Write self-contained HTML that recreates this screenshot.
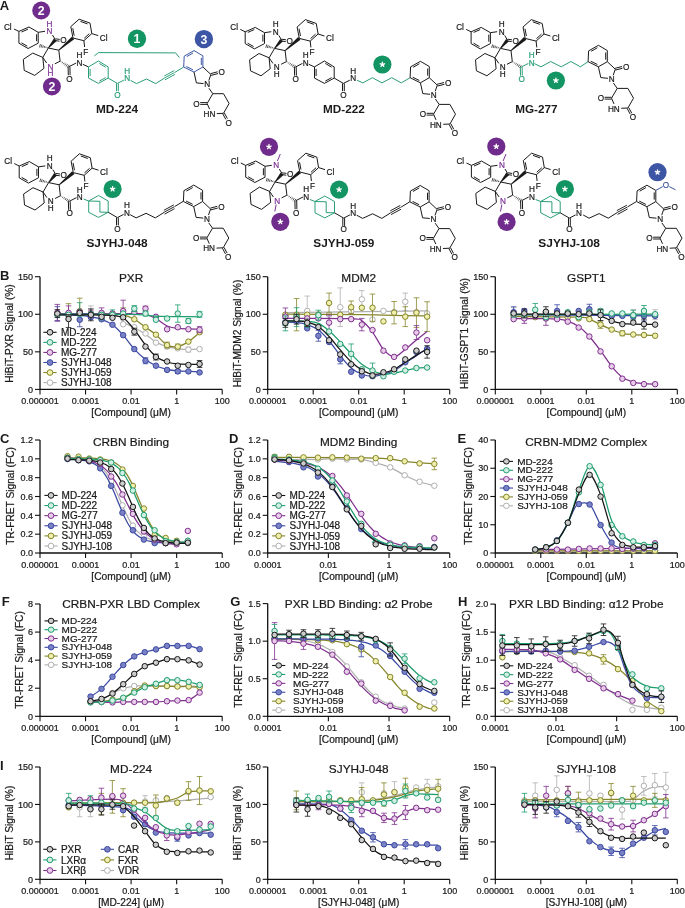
<!DOCTYPE html>
<html><head><meta charset="utf-8"><style>
html,body{margin:0;padding:0;background:#fff;width:685px;height:908px;overflow:hidden}
svg{display:block;font-family:"Liberation Sans",sans-serif;will-change:transform}
</style></head><body>
<svg width="685" height="908" viewBox="0 0 685 908" font-family="Liberation Sans, sans-serif">
<rect width="685" height="908" fill="#fff"/>
<polygon points="18.9,31.4 29,27 38.2,32.3 38.2,43.2 28.1,48.5 18.9,43.2" fill="none" stroke="#1a1a1a" stroke-width="1.0" stroke-linejoin="round"/>
<line x1="21.49" y1="32.01" x2="27.95" y2="29.2" stroke="#1a1a1a" stroke-width="1.0"/>
<line x1="36.6" y1="34.24" x2="36.6" y2="41.21" stroke="#1a1a1a" stroke-width="1.0"/>
<line x1="27.28" y1="46.18" x2="21.39" y2="42.79" stroke="#1a1a1a" stroke-width="1.0"/>
<line x1="18.9" y1="31.4" x2="14" y2="29" stroke="#1a1a1a" stroke-width="1.0"/>
<text transform="translate(7.8,29.55) scale(1.0,1)" font-size="8.2" fill="#1a1a1a" stroke="#1a1a1a" stroke-width="0.2" text-anchor="middle" font-weight="normal">Cl</text>
<line x1="38.2" y1="32.3" x2="45" y2="31.3" stroke="#1a1a1a" stroke-width="1.0"/>
<text transform="translate(49.4,34.15) scale(1.0,1)" font-size="8.2" fill="#7b3294" stroke="#7b3294" stroke-width="0.2" text-anchor="middle" font-weight="normal">N</text>
<text transform="translate(49.4,26.55) scale(1.0,1)" font-size="8.2" fill="#7b3294" stroke="#7b3294" stroke-width="0.2" text-anchor="middle" font-weight="normal">H</text>
<line x1="52.5" y1="35" x2="55.3" y2="39.7" stroke="#1a1a1a" stroke-width="1.0"/>
<line x1="55.18" y1="40.59" x2="59.48" y2="41.19" stroke="#1a1a1a" stroke-width="1.0"/>
<line x1="55.42" y1="38.81" x2="59.72" y2="39.41" stroke="#1a1a1a" stroke-width="1.0"/>
<text transform="translate(63.4,43.35) scale(1.0,1)" font-size="8.2" fill="#1a1a1a" stroke="#1a1a1a" stroke-width="0.2" text-anchor="middle" font-weight="normal">O</text>
<polygon points="48.66,48.31 56.75,40.92 53.85,38.48 47.94,47.69" fill="#1a1a1a"/>
<line x1="47.43" y1="48.21" x2="47.66" y2="47.37" stroke="#1a1a1a" stroke-width="0.75"/>
<line x1="45.84" y1="48.05" x2="46.21" y2="46.7" stroke="#1a1a1a" stroke-width="0.75"/>
<line x1="44.25" y1="47.89" x2="44.76" y2="46.03" stroke="#1a1a1a" stroke-width="0.75"/>
<line x1="42.66" y1="47.73" x2="43.32" y2="45.35" stroke="#1a1a1a" stroke-width="0.75"/>
<line x1="41.08" y1="47.57" x2="41.87" y2="44.68" stroke="#1a1a1a" stroke-width="0.75"/>
<line x1="39.49" y1="47.41" x2="40.43" y2="44" stroke="#1a1a1a" stroke-width="0.75"/>
<line x1="48.3" y1="48" x2="58.8" y2="50.2" stroke="#1a1a1a" stroke-width="1.0"/>
<line x1="58.8" y1="50.2" x2="60.1" y2="61.2" stroke="#1a1a1a" stroke-width="1.0"/>
<line x1="60.1" y1="61.2" x2="54.8" y2="63.9" stroke="#1a1a1a" stroke-width="1.0"/>
<line x1="46.6" y1="63" x2="42.8" y2="57.4" stroke="#1a1a1a" stroke-width="1.0"/>
<line x1="42.8" y1="57.4" x2="48.3" y2="48" stroke="#1a1a1a" stroke-width="1.0"/>
<text transform="translate(50.4,69.55) scale(1.0,1)" font-size="8.2" fill="#7b3294" stroke="#7b3294" stroke-width="0.2" text-anchor="middle" font-weight="normal">N</text>
<text transform="translate(50.4,76.25) scale(1.0,1)" font-size="8.2" fill="#7b3294" stroke="#7b3294" stroke-width="0.2" text-anchor="middle" font-weight="normal">H</text>
<polygon points="42.8,57.4 32.7,53.1 23.3,59.4 24.2,70.4 34.7,75.4 43.9,68.4" fill="none" stroke="#1a1a1a" stroke-width="1.0" stroke-linejoin="round"/>
<polygon points="59.09,50.54 74.17,39.37 71.83,36.63 58.51,49.86" fill="#1a1a1a"/>
<polygon points="73,38 70.8,26.6 79.1,19.2 90,23.1 91.8,33.6 83.9,40.7" fill="none" stroke="#1a1a1a" stroke-width="1.0" stroke-linejoin="round"/>
<line x1="74.17" y1="35.6" x2="72.76" y2="28.31" stroke="#1a1a1a" stroke-width="1.0"/>
<line x1="80.54" y1="21.41" x2="87.52" y2="23.91" stroke="#1a1a1a" stroke-width="1.0"/>
<line x1="89.29" y1="33.7" x2="84.24" y2="38.25" stroke="#1a1a1a" stroke-width="1.0"/>
<line x1="91.8" y1="33.6" x2="98.2" y2="35.6" stroke="#1a1a1a" stroke-width="1.0"/>
<text transform="translate(103.6,40.55) scale(1.0,1)" font-size="8.2" fill="#1a1a1a" stroke="#1a1a1a" stroke-width="0.2" text-anchor="middle" font-weight="normal">Cl</text>
<line x1="83.9" y1="40.7" x2="84.6" y2="47" stroke="#1a1a1a" stroke-width="1.0"/>
<text transform="translate(85.8,54.75) scale(1.0,1)" font-size="8.2" fill="#1a1a1a" stroke="#1a1a1a" stroke-width="0.2" text-anchor="middle" font-weight="normal">F</text>
<line x1="61.06" y1="61.3" x2="60.62" y2="62.01" stroke="#1a1a1a" stroke-width="0.75"/>
<line x1="62.67" y1="62.02" x2="61.98" y2="63.13" stroke="#1a1a1a" stroke-width="0.75"/>
<line x1="64.27" y1="62.74" x2="63.34" y2="64.24" stroke="#1a1a1a" stroke-width="0.75"/>
<line x1="65.88" y1="63.46" x2="64.7" y2="65.36" stroke="#1a1a1a" stroke-width="0.75"/>
<line x1="67.48" y1="64.18" x2="66.07" y2="66.47" stroke="#1a1a1a" stroke-width="0.75"/>
<line x1="69.09" y1="64.89" x2="67.43" y2="67.59" stroke="#1a1a1a" stroke-width="0.75"/>
<line x1="68.1" y1="66.72" x2="68.3" y2="75.22" stroke="#1a1a1a" stroke-width="1.0"/>
<line x1="69.9" y1="66.68" x2="70.1" y2="75.18" stroke="#1a1a1a" stroke-width="1.0"/>
<text transform="translate(69.5,81.55) scale(1.0,1)" font-size="8.2" fill="#1a1a1a" stroke="#1a1a1a" stroke-width="0.2" text-anchor="middle" font-weight="normal">O</text>
<line x1="69" y1="66.7" x2="76.2" y2="63" stroke="#1a1a1a" stroke-width="1.0"/>
<text transform="translate(79.4,65.55) scale(1.0,1)" font-size="8.2" fill="#1a1a1a" stroke="#1a1a1a" stroke-width="0.2" text-anchor="middle" font-weight="normal">N</text>
<text transform="translate(79.4,57.95) scale(1.0,1)" font-size="8.2" fill="#1a1a1a" stroke="#1a1a1a" stroke-width="0.2" text-anchor="middle" font-weight="normal">H</text>
<line x1="82.8" y1="64.3" x2="88.5" y2="66.9" stroke="#1a1a1a" stroke-width="1.0"/>
<polygon points="88.5,66.9 98.4,61 108.2,66.9 108.2,78.1 98.4,83.4 88.5,78.1" fill="none" stroke="#2a9d78" stroke-width="1.0" stroke-linejoin="round"/>
<line x1="99.36" y1="63.44" x2="105.63" y2="67.22" stroke="#2a9d78" stroke-width="1.0"/>
<line x1="105.62" y1="77.68" x2="99.35" y2="81.07" stroke="#2a9d78" stroke-width="1.0"/>
<line x1="90.1" y1="76.07" x2="90.1" y2="68.9" stroke="#2a9d78" stroke-width="1.0"/>
<line x1="108.2" y1="78.1" x2="117.4" y2="83.4" stroke="#2a9d78" stroke-width="1.0"/>
<line x1="116.5" y1="83.4" x2="116.5" y2="91.2" stroke="#2a9d78" stroke-width="1.0"/>
<line x1="118.3" y1="83.4" x2="118.3" y2="91.2" stroke="#2a9d78" stroke-width="1.0"/>
<text transform="translate(117.5,97.55) scale(1.0,1)" font-size="8.2" fill="#2a9d78" stroke="#2a9d78" stroke-width="0.2" text-anchor="middle" font-weight="normal">O</text>
<line x1="117.4" y1="83.4" x2="123.8" y2="80.2" stroke="#2a9d78" stroke-width="1.0"/>
<text transform="translate(127.3,81.35) scale(1.0,1)" font-size="8.2" fill="#2a9d78" stroke="#2a9d78" stroke-width="0.2" text-anchor="middle" font-weight="normal">N</text>
<text transform="translate(127.3,73.95) scale(1.0,1)" font-size="8.2" fill="#2a9d78" stroke="#2a9d78" stroke-width="0.2" text-anchor="middle" font-weight="normal">H</text>
<polyline points="130.6,80.4 136.5,83.6 146.5,79 155.7,83.6 164.6,78" fill="none" stroke="#2a9d78" stroke-width="1.0" stroke-linejoin="round"/>
<line x1="164.6" y1="77.9" x2="174.6" y2="72.5" stroke="#2a9d78" stroke-width="0.95"/>
<line x1="164.95" y1="79.81" x2="174.95" y2="74.41" stroke="#2a9d78" stroke-width="0.95"/>
<line x1="164.25" y1="75.99" x2="174.25" y2="70.59" stroke="#2a9d78" stroke-width="0.95"/>
<line x1="175" y1="72.3" x2="183.7" y2="67" stroke="#2a9d78" stroke-width="1.0"/>
<polygon points="183.7,67 184.2,56.2 194,50.6 202.9,55.8 202.9,67 194,72.1" fill="none" stroke="#3c56a5" stroke-width="1.0" stroke-linejoin="round"/>
<line x1="186.75" y1="56.59" x2="193.02" y2="53" stroke="#3c56a5" stroke-width="1.0"/>
<line x1="201.3" y1="57.82" x2="201.3" y2="64.99" stroke="#3c56a5" stroke-width="1.0"/>
<line x1="192.96" y1="69.8" x2="186.37" y2="66.54" stroke="#3c56a5" stroke-width="1.0"/>
<line x1="202.9" y1="67" x2="210.9" y2="74.5" stroke="#1a1a1a" stroke-width="1.0"/>
<line x1="211.13" y1="75.37" x2="218.03" y2="73.57" stroke="#1a1a1a" stroke-width="1.0"/>
<line x1="210.67" y1="73.63" x2="217.57" y2="71.83" stroke="#1a1a1a" stroke-width="1.0"/>
<text transform="translate(221.8,75.25) scale(1.0,1)" font-size="8.2" fill="#1a1a1a" stroke="#1a1a1a" stroke-width="0.2" text-anchor="middle" font-weight="normal">O</text>
<line x1="210.9" y1="74.5" x2="208.8" y2="80.6" stroke="#1a1a1a" stroke-width="1.0"/>
<text transform="translate(207.2,87.35) scale(1.0,1)" font-size="8.2" fill="#1a1a1a" stroke="#1a1a1a" stroke-width="0.2" text-anchor="middle" font-weight="normal">N</text>
<line x1="203.6" y1="83.6" x2="196.4" y2="82.9" stroke="#1a1a1a" stroke-width="1.0"/>
<line x1="196.4" y1="82.9" x2="194" y2="72.1" stroke="#1a1a1a" stroke-width="1.0"/>
<line x1="209" y1="88.3" x2="212.8" y2="93.7" stroke="#1a1a1a" stroke-width="1.0"/>
<polyline points="207.1,103.5 212.8,93.7 223.5,93.7 229.1,103.5 223.5,113.3" fill="none" stroke="#1a1a1a" stroke-width="1.0" stroke-linejoin="round"/>
<line x1="223.5" y1="113.3" x2="216.8" y2="113.6" stroke="#1a1a1a" stroke-width="1.0"/>
<line x1="207.1" y1="103.5" x2="209.6" y2="109.2" stroke="#1a1a1a" stroke-width="1.0"/>
<text transform="translate(209.4,116.95) scale(1.0,1)" font-size="8.2" fill="#1a1a1a" stroke="#1a1a1a" stroke-width="0.2" text-anchor="middle" font-weight="normal">HN</text>
<line x1="207.1" y1="102.6" x2="200.2" y2="102.6" stroke="#1a1a1a" stroke-width="1.0"/>
<line x1="207.1" y1="104.4" x2="200.2" y2="104.4" stroke="#1a1a1a" stroke-width="1.0"/>
<text transform="translate(196.5,106.55) scale(1.0,1)" font-size="8.2" fill="#1a1a1a" stroke="#1a1a1a" stroke-width="0.2" text-anchor="middle" font-weight="normal">O</text>
<line x1="222.71" y1="113.73" x2="225.81" y2="119.43" stroke="#1a1a1a" stroke-width="1.0"/>
<line x1="224.29" y1="112.87" x2="227.39" y2="118.57" stroke="#1a1a1a" stroke-width="1.0"/>
<text transform="translate(228.6,125.55) scale(1.0,1)" font-size="8.2" fill="#1a1a1a" stroke="#1a1a1a" stroke-width="0.2" text-anchor="middle" font-weight="normal">O</text>
<polyline points="94.4,55.8 98.4,52.6 175.6,52.9 179.4,57.5" fill="none" stroke="#2a9d78" stroke-width="1.0" stroke-linejoin="round"/>
<circle cx="41.2" cy="10.5" r="9" fill="#702c8c"/>
<text x="41.2" y="14.9" font-size="12.3" fill="#fff" text-anchor="middle" font-weight="bold">2</text>
<circle cx="51.9" cy="86.4" r="9" fill="#702c8c"/>
<text x="51.9" y="90.8" font-size="12.3" fill="#fff" text-anchor="middle" font-weight="bold">2</text>
<circle cx="137" cy="38.8" r="9.2" fill="#139563"/>
<text x="137" y="43.2" font-size="12.3" fill="#fff" text-anchor="middle" font-weight="bold">1</text>
<circle cx="203.9" cy="39.1" r="9.2" fill="#3d55a5"/>
<text x="203.9" y="43.5" font-size="12.3" fill="#fff" text-anchor="middle" font-weight="bold">3</text>
<polygon points="245.2,31.8 255.3,27.4 264.5,32.7 264.5,43.6 254.4,48.9 245.2,43.6" fill="none" stroke="#1a1a1a" stroke-width="1.0" stroke-linejoin="round"/>
<line x1="247.79" y1="32.41" x2="254.25" y2="29.6" stroke="#1a1a1a" stroke-width="1.0"/>
<line x1="262.9" y1="34.64" x2="262.9" y2="41.61" stroke="#1a1a1a" stroke-width="1.0"/>
<line x1="253.58" y1="46.58" x2="247.69" y2="43.19" stroke="#1a1a1a" stroke-width="1.0"/>
<line x1="245.2" y1="31.8" x2="240.3" y2="29.4" stroke="#1a1a1a" stroke-width="1.0"/>
<text transform="translate(234.1,29.95) scale(1.0,1)" font-size="8.2" fill="#1a1a1a" stroke="#1a1a1a" stroke-width="0.2" text-anchor="middle" font-weight="normal">Cl</text>
<line x1="264.5" y1="32.7" x2="271.3" y2="31.7" stroke="#1a1a1a" stroke-width="1.0"/>
<text transform="translate(275.7,34.55) scale(1.0,1)" font-size="8.2" fill="#1a1a1a" stroke="#1a1a1a" stroke-width="0.2" text-anchor="middle" font-weight="normal">N</text>
<text transform="translate(275.7,26.95) scale(1.0,1)" font-size="8.2" fill="#1a1a1a" stroke="#1a1a1a" stroke-width="0.2" text-anchor="middle" font-weight="normal">H</text>
<line x1="278.8" y1="35.4" x2="281.6" y2="40.1" stroke="#1a1a1a" stroke-width="1.0"/>
<line x1="281.48" y1="40.99" x2="285.78" y2="41.59" stroke="#1a1a1a" stroke-width="1.0"/>
<line x1="281.72" y1="39.21" x2="286.02" y2="39.81" stroke="#1a1a1a" stroke-width="1.0"/>
<text transform="translate(289.7,43.75) scale(1.0,1)" font-size="8.2" fill="#1a1a1a" stroke="#1a1a1a" stroke-width="0.2" text-anchor="middle" font-weight="normal">O</text>
<polygon points="274.96,48.71 283.05,41.32 280.15,38.88 274.24,48.09" fill="#1a1a1a"/>
<line x1="273.73" y1="48.61" x2="273.96" y2="47.77" stroke="#1a1a1a" stroke-width="0.75"/>
<line x1="272.14" y1="48.45" x2="272.51" y2="47.1" stroke="#1a1a1a" stroke-width="0.75"/>
<line x1="270.55" y1="48.29" x2="271.06" y2="46.43" stroke="#1a1a1a" stroke-width="0.75"/>
<line x1="268.96" y1="48.13" x2="269.62" y2="45.75" stroke="#1a1a1a" stroke-width="0.75"/>
<line x1="267.38" y1="47.97" x2="268.17" y2="45.08" stroke="#1a1a1a" stroke-width="0.75"/>
<line x1="265.79" y1="47.81" x2="266.73" y2="44.4" stroke="#1a1a1a" stroke-width="0.75"/>
<line x1="274.6" y1="48.4" x2="285.1" y2="50.6" stroke="#1a1a1a" stroke-width="1.0"/>
<line x1="285.1" y1="50.6" x2="286.4" y2="61.6" stroke="#1a1a1a" stroke-width="1.0"/>
<line x1="286.4" y1="61.6" x2="281.1" y2="64.3" stroke="#1a1a1a" stroke-width="1.0"/>
<line x1="272.9" y1="63.4" x2="269.1" y2="57.8" stroke="#1a1a1a" stroke-width="1.0"/>
<line x1="269.1" y1="57.8" x2="274.6" y2="48.4" stroke="#1a1a1a" stroke-width="1.0"/>
<text transform="translate(276.7,69.95) scale(1.0,1)" font-size="8.2" fill="#1a1a1a" stroke="#1a1a1a" stroke-width="0.2" text-anchor="middle" font-weight="normal">N</text>
<text transform="translate(276.7,76.65) scale(1.0,1)" font-size="8.2" fill="#1a1a1a" stroke="#1a1a1a" stroke-width="0.2" text-anchor="middle" font-weight="normal">H</text>
<polygon points="269.1,57.8 259,53.5 249.6,59.8 250.5,70.8 261,75.8 270.2,68.8" fill="none" stroke="#1a1a1a" stroke-width="1.0" stroke-linejoin="round"/>
<polygon points="285.39,50.94 300.47,39.77 298.13,37.03 284.81,50.26" fill="#1a1a1a"/>
<polygon points="299.3,38.4 297.1,27 305.4,19.6 316.3,23.5 318.1,34 310.2,41.1" fill="none" stroke="#1a1a1a" stroke-width="1.0" stroke-linejoin="round"/>
<line x1="300.47" y1="36" x2="299.06" y2="28.71" stroke="#1a1a1a" stroke-width="1.0"/>
<line x1="306.84" y1="21.81" x2="313.82" y2="24.31" stroke="#1a1a1a" stroke-width="1.0"/>
<line x1="315.59" y1="34.1" x2="310.54" y2="38.65" stroke="#1a1a1a" stroke-width="1.0"/>
<line x1="318.1" y1="34" x2="324.5" y2="36" stroke="#1a1a1a" stroke-width="1.0"/>
<text transform="translate(329.9,40.95) scale(1.0,1)" font-size="8.2" fill="#1a1a1a" stroke="#1a1a1a" stroke-width="0.2" text-anchor="middle" font-weight="normal">Cl</text>
<line x1="310.2" y1="41.1" x2="310.9" y2="47.4" stroke="#1a1a1a" stroke-width="1.0"/>
<text transform="translate(312.1,55.15) scale(1.0,1)" font-size="8.2" fill="#1a1a1a" stroke="#1a1a1a" stroke-width="0.2" text-anchor="middle" font-weight="normal">F</text>
<line x1="287.36" y1="61.7" x2="286.92" y2="62.41" stroke="#1a1a1a" stroke-width="0.75"/>
<line x1="288.97" y1="62.42" x2="288.28" y2="63.53" stroke="#1a1a1a" stroke-width="0.75"/>
<line x1="290.57" y1="63.14" x2="289.64" y2="64.64" stroke="#1a1a1a" stroke-width="0.75"/>
<line x1="292.18" y1="63.86" x2="291" y2="65.76" stroke="#1a1a1a" stroke-width="0.75"/>
<line x1="293.78" y1="64.58" x2="292.37" y2="66.87" stroke="#1a1a1a" stroke-width="0.75"/>
<line x1="295.39" y1="65.29" x2="293.73" y2="67.99" stroke="#1a1a1a" stroke-width="0.75"/>
<line x1="294.4" y1="67.12" x2="294.6" y2="75.62" stroke="#1a1a1a" stroke-width="1.0"/>
<line x1="296.2" y1="67.08" x2="296.4" y2="75.58" stroke="#1a1a1a" stroke-width="1.0"/>
<text transform="translate(295.8,81.95) scale(1.0,1)" font-size="8.2" fill="#1a1a1a" stroke="#1a1a1a" stroke-width="0.2" text-anchor="middle" font-weight="normal">O</text>
<line x1="295.3" y1="67.1" x2="302.5" y2="63.4" stroke="#1a1a1a" stroke-width="1.0"/>
<text transform="translate(305.7,65.95) scale(1.0,1)" font-size="8.2" fill="#1a1a1a" stroke="#1a1a1a" stroke-width="0.2" text-anchor="middle" font-weight="normal">N</text>
<text transform="translate(305.7,58.35) scale(1.0,1)" font-size="8.2" fill="#1a1a1a" stroke="#1a1a1a" stroke-width="0.2" text-anchor="middle" font-weight="normal">H</text>
<line x1="308.8" y1="64.3" x2="314.5" y2="66.9" stroke="#1a1a1a" stroke-width="1.0"/>
<polygon points="314.5,66.9 324.4,61 334.2,66.9 334.2,78.1 324.4,83.4 314.5,78.1" fill="none" stroke="#1a1a1a" stroke-width="1.0" stroke-linejoin="round"/>
<line x1="325.36" y1="63.44" x2="331.63" y2="67.22" stroke="#1a1a1a" stroke-width="1.0"/>
<line x1="331.62" y1="77.68" x2="325.35" y2="81.07" stroke="#1a1a1a" stroke-width="1.0"/>
<line x1="316.1" y1="76.07" x2="316.1" y2="68.9" stroke="#1a1a1a" stroke-width="1.0"/>
<line x1="334.2" y1="78.1" x2="343.4" y2="83.4" stroke="#1a1a1a" stroke-width="1.0"/>
<line x1="342.5" y1="83.4" x2="342.5" y2="91.2" stroke="#1a1a1a" stroke-width="1.0"/>
<line x1="344.3" y1="83.4" x2="344.3" y2="91.2" stroke="#1a1a1a" stroke-width="1.0"/>
<text transform="translate(343.5,97.55) scale(1.0,1)" font-size="8.2" fill="#1a1a1a" stroke="#1a1a1a" stroke-width="0.2" text-anchor="middle" font-weight="normal">O</text>
<line x1="343.4" y1="83.4" x2="349.8" y2="80.2" stroke="#1a1a1a" stroke-width="1.0"/>
<text transform="translate(353.3,81.35) scale(1.0,1)" font-size="8.2" fill="#1a1a1a" stroke="#1a1a1a" stroke-width="0.2" text-anchor="middle" font-weight="normal">N</text>
<text transform="translate(353.3,73.95) scale(1.0,1)" font-size="8.2" fill="#1a1a1a" stroke="#1a1a1a" stroke-width="0.2" text-anchor="middle" font-weight="normal">H</text>
<polyline points="357,80.2 362.8,82.9 372.4,77.7 382,82.9 391.7,77.7 401.3,82.9 410.1,77.7" fill="none" stroke="#2a9d78" stroke-width="1.0" stroke-linejoin="round"/>
<polygon points="410.1,77.7 410.6,66.9 420.4,61.3 429.3,66.5 429.3,77.7 420.4,82.8" fill="none" stroke="#1a1a1a" stroke-width="1.0" stroke-linejoin="round"/>
<line x1="413.15" y1="67.29" x2="419.42" y2="63.7" stroke="#1a1a1a" stroke-width="1.0"/>
<line x1="427.7" y1="68.52" x2="427.7" y2="75.69" stroke="#1a1a1a" stroke-width="1.0"/>
<line x1="419.36" y1="80.5" x2="412.77" y2="77.24" stroke="#1a1a1a" stroke-width="1.0"/>
<line x1="429.3" y1="77.7" x2="437.3" y2="85.2" stroke="#1a1a1a" stroke-width="1.0"/>
<line x1="437.53" y1="86.07" x2="444.43" y2="84.27" stroke="#1a1a1a" stroke-width="1.0"/>
<line x1="437.07" y1="84.33" x2="443.97" y2="82.53" stroke="#1a1a1a" stroke-width="1.0"/>
<text transform="translate(448.2,85.95) scale(1.0,1)" font-size="8.2" fill="#1a1a1a" stroke="#1a1a1a" stroke-width="0.2" text-anchor="middle" font-weight="normal">O</text>
<line x1="437.3" y1="85.2" x2="435.2" y2="91.3" stroke="#1a1a1a" stroke-width="1.0"/>
<text transform="translate(433.6,98.05) scale(1.0,1)" font-size="8.2" fill="#1a1a1a" stroke="#1a1a1a" stroke-width="0.2" text-anchor="middle" font-weight="normal">N</text>
<line x1="430" y1="94.3" x2="422.8" y2="93.6" stroke="#1a1a1a" stroke-width="1.0"/>
<line x1="422.8" y1="93.6" x2="420.4" y2="82.8" stroke="#1a1a1a" stroke-width="1.0"/>
<line x1="435.4" y1="99" x2="439.2" y2="104.4" stroke="#1a1a1a" stroke-width="1.0"/>
<polyline points="433.5,114.2 439.2,104.4 449.9,104.4 455.5,114.2 449.9,124" fill="none" stroke="#1a1a1a" stroke-width="1.0" stroke-linejoin="round"/>
<line x1="449.9" y1="124" x2="443.2" y2="124.3" stroke="#1a1a1a" stroke-width="1.0"/>
<line x1="433.5" y1="114.2" x2="436" y2="119.9" stroke="#1a1a1a" stroke-width="1.0"/>
<text transform="translate(435.8,127.65) scale(1.0,1)" font-size="8.2" fill="#1a1a1a" stroke="#1a1a1a" stroke-width="0.2" text-anchor="middle" font-weight="normal">HN</text>
<line x1="433.5" y1="113.3" x2="426.6" y2="113.3" stroke="#1a1a1a" stroke-width="1.0"/>
<line x1="433.5" y1="115.1" x2="426.6" y2="115.1" stroke="#1a1a1a" stroke-width="1.0"/>
<text transform="translate(422.9,117.25) scale(1.0,1)" font-size="8.2" fill="#1a1a1a" stroke="#1a1a1a" stroke-width="0.2" text-anchor="middle" font-weight="normal">O</text>
<line x1="449.11" y1="124.43" x2="452.21" y2="130.13" stroke="#1a1a1a" stroke-width="1.0"/>
<line x1="450.69" y1="123.57" x2="453.79" y2="129.27" stroke="#1a1a1a" stroke-width="1.0"/>
<text transform="translate(455,136.25) scale(1.0,1)" font-size="8.2" fill="#1a1a1a" stroke="#1a1a1a" stroke-width="0.2" text-anchor="middle" font-weight="normal">O</text>
<circle cx="382.4" cy="64.5" r="9.1" fill="#139563"/>
<path d="M382.4,64.5 L382.4,62.2 M382.4,64.5 L384.59,63.79 M382.4,64.5 L383.75,66.36 M382.4,64.5 L381.05,66.36 M382.4,64.5 L380.21,63.79 " stroke="#fff" stroke-width="1.35" stroke-linecap="round" fill="none"/>
<polygon points="471.1,31.8 481.2,27.4 490.4,32.7 490.4,43.6 480.3,48.9 471.1,43.6" fill="none" stroke="#1a1a1a" stroke-width="1.0" stroke-linejoin="round"/>
<line x1="473.69" y1="32.41" x2="480.15" y2="29.6" stroke="#1a1a1a" stroke-width="1.0"/>
<line x1="488.8" y1="34.64" x2="488.8" y2="41.61" stroke="#1a1a1a" stroke-width="1.0"/>
<line x1="479.48" y1="46.58" x2="473.59" y2="43.19" stroke="#1a1a1a" stroke-width="1.0"/>
<line x1="471.1" y1="31.8" x2="466.2" y2="29.4" stroke="#1a1a1a" stroke-width="1.0"/>
<text transform="translate(460,29.95) scale(1.0,1)" font-size="8.2" fill="#1a1a1a" stroke="#1a1a1a" stroke-width="0.2" text-anchor="middle" font-weight="normal">Cl</text>
<line x1="490.4" y1="32.7" x2="497.2" y2="31.7" stroke="#1a1a1a" stroke-width="1.0"/>
<text transform="translate(501.6,34.55) scale(1.0,1)" font-size="8.2" fill="#1a1a1a" stroke="#1a1a1a" stroke-width="0.2" text-anchor="middle" font-weight="normal">N</text>
<text transform="translate(501.6,26.95) scale(1.0,1)" font-size="8.2" fill="#1a1a1a" stroke="#1a1a1a" stroke-width="0.2" text-anchor="middle" font-weight="normal">H</text>
<line x1="504.7" y1="35.4" x2="507.5" y2="40.1" stroke="#1a1a1a" stroke-width="1.0"/>
<line x1="507.38" y1="40.99" x2="511.68" y2="41.59" stroke="#1a1a1a" stroke-width="1.0"/>
<line x1="507.62" y1="39.21" x2="511.92" y2="39.81" stroke="#1a1a1a" stroke-width="1.0"/>
<text transform="translate(515.6,43.75) scale(1.0,1)" font-size="8.2" fill="#1a1a1a" stroke="#1a1a1a" stroke-width="0.2" text-anchor="middle" font-weight="normal">O</text>
<polygon points="500.86,48.71 508.95,41.32 506.05,38.88 500.14,48.09" fill="#1a1a1a"/>
<line x1="499.63" y1="48.61" x2="499.86" y2="47.77" stroke="#1a1a1a" stroke-width="0.75"/>
<line x1="498.04" y1="48.45" x2="498.41" y2="47.1" stroke="#1a1a1a" stroke-width="0.75"/>
<line x1="496.45" y1="48.29" x2="496.96" y2="46.43" stroke="#1a1a1a" stroke-width="0.75"/>
<line x1="494.86" y1="48.13" x2="495.52" y2="45.75" stroke="#1a1a1a" stroke-width="0.75"/>
<line x1="493.28" y1="47.97" x2="494.07" y2="45.08" stroke="#1a1a1a" stroke-width="0.75"/>
<line x1="491.69" y1="47.81" x2="492.63" y2="44.4" stroke="#1a1a1a" stroke-width="0.75"/>
<line x1="500.5" y1="48.4" x2="511" y2="50.6" stroke="#1a1a1a" stroke-width="1.0"/>
<line x1="511" y1="50.6" x2="512.3" y2="61.6" stroke="#1a1a1a" stroke-width="1.0"/>
<line x1="512.3" y1="61.6" x2="507" y2="64.3" stroke="#1a1a1a" stroke-width="1.0"/>
<line x1="498.8" y1="63.4" x2="495" y2="57.8" stroke="#1a1a1a" stroke-width="1.0"/>
<line x1="495" y1="57.8" x2="500.5" y2="48.4" stroke="#1a1a1a" stroke-width="1.0"/>
<text transform="translate(502.6,69.95) scale(1.0,1)" font-size="8.2" fill="#1a1a1a" stroke="#1a1a1a" stroke-width="0.2" text-anchor="middle" font-weight="normal">N</text>
<text transform="translate(502.6,76.65) scale(1.0,1)" font-size="8.2" fill="#1a1a1a" stroke="#1a1a1a" stroke-width="0.2" text-anchor="middle" font-weight="normal">H</text>
<polygon points="495,57.8 484.9,53.5 475.5,59.8 476.4,70.8 486.9,75.8 496.1,68.8" fill="none" stroke="#1a1a1a" stroke-width="1.0" stroke-linejoin="round"/>
<polygon points="511.29,50.94 526.37,39.77 524.03,37.03 510.71,50.26" fill="#1a1a1a"/>
<polygon points="525.2,38.4 523,27 531.3,19.6 542.2,23.5 544,34 536.1,41.1" fill="none" stroke="#1a1a1a" stroke-width="1.0" stroke-linejoin="round"/>
<line x1="526.37" y1="36" x2="524.96" y2="28.71" stroke="#1a1a1a" stroke-width="1.0"/>
<line x1="532.74" y1="21.81" x2="539.72" y2="24.31" stroke="#1a1a1a" stroke-width="1.0"/>
<line x1="541.49" y1="34.1" x2="536.44" y2="38.65" stroke="#1a1a1a" stroke-width="1.0"/>
<line x1="544" y1="34" x2="550.4" y2="36" stroke="#1a1a1a" stroke-width="1.0"/>
<text transform="translate(555.8,40.95) scale(1.0,1)" font-size="8.2" fill="#1a1a1a" stroke="#1a1a1a" stroke-width="0.2" text-anchor="middle" font-weight="normal">Cl</text>
<line x1="536.1" y1="41.1" x2="536.8" y2="47.4" stroke="#1a1a1a" stroke-width="1.0"/>
<text transform="translate(538,55.15) scale(1.0,1)" font-size="8.2" fill="#1a1a1a" stroke="#1a1a1a" stroke-width="0.2" text-anchor="middle" font-weight="normal">F</text>
<line x1="513.26" y1="61.7" x2="512.82" y2="62.41" stroke="#1a1a1a" stroke-width="0.75"/>
<line x1="514.87" y1="62.42" x2="514.18" y2="63.53" stroke="#1a1a1a" stroke-width="0.75"/>
<line x1="516.47" y1="63.14" x2="515.54" y2="64.64" stroke="#1a1a1a" stroke-width="0.75"/>
<line x1="518.08" y1="63.86" x2="516.9" y2="65.76" stroke="#1a1a1a" stroke-width="0.75"/>
<line x1="519.68" y1="64.58" x2="518.27" y2="66.87" stroke="#1a1a1a" stroke-width="0.75"/>
<line x1="521.29" y1="65.29" x2="519.63" y2="67.99" stroke="#1a1a1a" stroke-width="0.75"/>
<line x1="520.3" y1="67.12" x2="520.5" y2="75.62" stroke="#2a9d78" stroke-width="1.0"/>
<line x1="522.1" y1="67.08" x2="522.3" y2="75.58" stroke="#2a9d78" stroke-width="1.0"/>
<text transform="translate(521.7,81.95) scale(1.0,1)" font-size="8.2" fill="#2a9d78" stroke="#2a9d78" stroke-width="0.2" text-anchor="middle" font-weight="normal">O</text>
<line x1="521.2" y1="67.1" x2="528.4" y2="63.4" stroke="#2a9d78" stroke-width="1.0"/>
<text transform="translate(531.6,65.95) scale(1.0,1)" font-size="8.2" fill="#2a9d78" stroke="#2a9d78" stroke-width="0.2" text-anchor="middle" font-weight="normal">N</text>
<text transform="translate(531.6,58.35) scale(1.0,1)" font-size="8.2" fill="#2a9d78" stroke="#2a9d78" stroke-width="0.2" text-anchor="middle" font-weight="normal">H</text>
<polyline points="534.4,63.6 541,66.8 550.7,61.5 561.2,66.8 570.8,61.5 580.4,66.8 588.3,61.5" fill="none" stroke="#2a9d78" stroke-width="1.0" stroke-linejoin="round"/>
<polygon points="588.1,61.7 588.6,50.9 598.4,45.3 607.3,50.5 607.3,61.7 598.4,66.8" fill="none" stroke="#1a1a1a" stroke-width="1.0" stroke-linejoin="round"/>
<line x1="591.15" y1="51.29" x2="597.42" y2="47.7" stroke="#1a1a1a" stroke-width="1.0"/>
<line x1="605.7" y1="52.52" x2="605.7" y2="59.69" stroke="#1a1a1a" stroke-width="1.0"/>
<line x1="597.36" y1="64.5" x2="590.77" y2="61.24" stroke="#1a1a1a" stroke-width="1.0"/>
<line x1="607.3" y1="61.7" x2="615.3" y2="69.2" stroke="#1a1a1a" stroke-width="1.0"/>
<line x1="615.53" y1="70.07" x2="622.43" y2="68.27" stroke="#1a1a1a" stroke-width="1.0"/>
<line x1="615.07" y1="68.33" x2="621.97" y2="66.53" stroke="#1a1a1a" stroke-width="1.0"/>
<text transform="translate(626.2,69.95) scale(1.0,1)" font-size="8.2" fill="#1a1a1a" stroke="#1a1a1a" stroke-width="0.2" text-anchor="middle" font-weight="normal">O</text>
<line x1="615.3" y1="69.2" x2="613.2" y2="75.3" stroke="#1a1a1a" stroke-width="1.0"/>
<text transform="translate(611.6,82.05) scale(1.0,1)" font-size="8.2" fill="#1a1a1a" stroke="#1a1a1a" stroke-width="0.2" text-anchor="middle" font-weight="normal">N</text>
<line x1="608" y1="78.3" x2="600.8" y2="77.6" stroke="#1a1a1a" stroke-width="1.0"/>
<line x1="600.8" y1="77.6" x2="598.4" y2="66.8" stroke="#1a1a1a" stroke-width="1.0"/>
<line x1="613.4" y1="83" x2="617.2" y2="88.4" stroke="#1a1a1a" stroke-width="1.0"/>
<polyline points="611.5,98.2 617.2,88.4 627.9,88.4 633.5,98.2 627.9,108" fill="none" stroke="#1a1a1a" stroke-width="1.0" stroke-linejoin="round"/>
<line x1="627.9" y1="108" x2="621.2" y2="108.3" stroke="#1a1a1a" stroke-width="1.0"/>
<line x1="611.5" y1="98.2" x2="614" y2="103.9" stroke="#1a1a1a" stroke-width="1.0"/>
<text transform="translate(613.8,111.65) scale(1.0,1)" font-size="8.2" fill="#1a1a1a" stroke="#1a1a1a" stroke-width="0.2" text-anchor="middle" font-weight="normal">HN</text>
<line x1="611.5" y1="97.3" x2="604.6" y2="97.3" stroke="#1a1a1a" stroke-width="1.0"/>
<line x1="611.5" y1="99.1" x2="604.6" y2="99.1" stroke="#1a1a1a" stroke-width="1.0"/>
<text transform="translate(600.9,101.25) scale(1.0,1)" font-size="8.2" fill="#1a1a1a" stroke="#1a1a1a" stroke-width="0.2" text-anchor="middle" font-weight="normal">O</text>
<line x1="627.11" y1="108.43" x2="630.21" y2="114.13" stroke="#1a1a1a" stroke-width="1.0"/>
<line x1="628.69" y1="107.57" x2="631.79" y2="113.27" stroke="#1a1a1a" stroke-width="1.0"/>
<text transform="translate(633,120.25) scale(1.0,1)" font-size="8.2" fill="#1a1a1a" stroke="#1a1a1a" stroke-width="0.2" text-anchor="middle" font-weight="normal">O</text>
<circle cx="555.9" cy="80.5" r="9.1" fill="#139563"/>
<path d="M555.9,80.5 L555.9,78.2 M555.9,80.5 L558.09,79.79 M555.9,80.5 L557.25,82.36 M555.9,80.5 L554.55,82.36 M555.9,80.5 L553.71,79.79 " stroke="#fff" stroke-width="1.35" stroke-linecap="round" fill="none"/>
<polygon points="19.2,166 29.3,161.6 38.5,166.9 38.5,177.8 28.4,183.1 19.2,177.8" fill="none" stroke="#1a1a1a" stroke-width="1.0" stroke-linejoin="round"/>
<line x1="21.79" y1="166.61" x2="28.25" y2="163.8" stroke="#1a1a1a" stroke-width="1.0"/>
<line x1="36.9" y1="168.84" x2="36.9" y2="175.81" stroke="#1a1a1a" stroke-width="1.0"/>
<line x1="27.58" y1="180.78" x2="21.69" y2="177.39" stroke="#1a1a1a" stroke-width="1.0"/>
<line x1="19.2" y1="166" x2="14.3" y2="163.6" stroke="#1a1a1a" stroke-width="1.0"/>
<text transform="translate(8.1,164.15) scale(1.0,1)" font-size="8.2" fill="#1a1a1a" stroke="#1a1a1a" stroke-width="0.2" text-anchor="middle" font-weight="normal">Cl</text>
<line x1="38.5" y1="166.9" x2="45.3" y2="165.9" stroke="#1a1a1a" stroke-width="1.0"/>
<text transform="translate(49.7,168.75) scale(1.0,1)" font-size="8.2" fill="#1a1a1a" stroke="#1a1a1a" stroke-width="0.2" text-anchor="middle" font-weight="normal">N</text>
<text transform="translate(49.7,161.15) scale(1.0,1)" font-size="8.2" fill="#1a1a1a" stroke="#1a1a1a" stroke-width="0.2" text-anchor="middle" font-weight="normal">H</text>
<line x1="52.8" y1="169.6" x2="55.6" y2="174.3" stroke="#1a1a1a" stroke-width="1.0"/>
<line x1="55.48" y1="175.19" x2="59.78" y2="175.79" stroke="#1a1a1a" stroke-width="1.0"/>
<line x1="55.72" y1="173.41" x2="60.02" y2="174.01" stroke="#1a1a1a" stroke-width="1.0"/>
<text transform="translate(63.7,177.95) scale(1.0,1)" font-size="8.2" fill="#1a1a1a" stroke="#1a1a1a" stroke-width="0.2" text-anchor="middle" font-weight="normal">O</text>
<polygon points="48.96,182.91 57.05,175.52 54.15,173.08 48.24,182.29" fill="#1a1a1a"/>
<line x1="47.73" y1="182.81" x2="47.96" y2="181.97" stroke="#1a1a1a" stroke-width="0.75"/>
<line x1="46.14" y1="182.65" x2="46.51" y2="181.3" stroke="#1a1a1a" stroke-width="0.75"/>
<line x1="44.55" y1="182.49" x2="45.06" y2="180.63" stroke="#1a1a1a" stroke-width="0.75"/>
<line x1="42.96" y1="182.33" x2="43.62" y2="179.95" stroke="#1a1a1a" stroke-width="0.75"/>
<line x1="41.38" y1="182.17" x2="42.17" y2="179.28" stroke="#1a1a1a" stroke-width="0.75"/>
<line x1="39.79" y1="182.01" x2="40.73" y2="178.6" stroke="#1a1a1a" stroke-width="0.75"/>
<line x1="48.6" y1="182.6" x2="59.1" y2="184.8" stroke="#1a1a1a" stroke-width="1.0"/>
<line x1="59.1" y1="184.8" x2="60.4" y2="195.8" stroke="#1a1a1a" stroke-width="1.0"/>
<line x1="60.4" y1="195.8" x2="55.1" y2="198.5" stroke="#1a1a1a" stroke-width="1.0"/>
<line x1="46.9" y1="197.6" x2="43.1" y2="192" stroke="#1a1a1a" stroke-width="1.0"/>
<line x1="43.1" y1="192" x2="48.6" y2="182.6" stroke="#1a1a1a" stroke-width="1.0"/>
<text transform="translate(50.7,204.15) scale(1.0,1)" font-size="8.2" fill="#1a1a1a" stroke="#1a1a1a" stroke-width="0.2" text-anchor="middle" font-weight="normal">N</text>
<text transform="translate(50.7,210.85) scale(1.0,1)" font-size="8.2" fill="#1a1a1a" stroke="#1a1a1a" stroke-width="0.2" text-anchor="middle" font-weight="normal">H</text>
<polygon points="43.1,192 33,187.7 23.6,194 24.5,205 35,210 44.2,203" fill="none" stroke="#1a1a1a" stroke-width="1.0" stroke-linejoin="round"/>
<polygon points="59.39,185.14 74.47,173.97 72.13,171.23 58.81,184.46" fill="#1a1a1a"/>
<polygon points="73.3,172.6 71.1,161.2 79.4,153.8 90.3,157.7 92.1,168.2 84.2,175.3" fill="none" stroke="#1a1a1a" stroke-width="1.0" stroke-linejoin="round"/>
<line x1="74.47" y1="170.2" x2="73.06" y2="162.91" stroke="#1a1a1a" stroke-width="1.0"/>
<line x1="80.84" y1="156.01" x2="87.82" y2="158.51" stroke="#1a1a1a" stroke-width="1.0"/>
<line x1="89.59" y1="168.3" x2="84.54" y2="172.85" stroke="#1a1a1a" stroke-width="1.0"/>
<line x1="92.1" y1="168.2" x2="98.5" y2="170.2" stroke="#1a1a1a" stroke-width="1.0"/>
<text transform="translate(103.9,175.15) scale(1.0,1)" font-size="8.2" fill="#1a1a1a" stroke="#1a1a1a" stroke-width="0.2" text-anchor="middle" font-weight="normal">Cl</text>
<line x1="84.2" y1="175.3" x2="84.9" y2="181.6" stroke="#1a1a1a" stroke-width="1.0"/>
<text transform="translate(86.1,189.35) scale(1.0,1)" font-size="8.2" fill="#1a1a1a" stroke="#1a1a1a" stroke-width="0.2" text-anchor="middle" font-weight="normal">F</text>
<line x1="61.36" y1="195.9" x2="60.92" y2="196.61" stroke="#1a1a1a" stroke-width="0.75"/>
<line x1="62.97" y1="196.62" x2="62.28" y2="197.73" stroke="#1a1a1a" stroke-width="0.75"/>
<line x1="64.57" y1="197.34" x2="63.64" y2="198.84" stroke="#1a1a1a" stroke-width="0.75"/>
<line x1="66.18" y1="198.06" x2="65" y2="199.96" stroke="#1a1a1a" stroke-width="0.75"/>
<line x1="67.78" y1="198.78" x2="66.37" y2="201.07" stroke="#1a1a1a" stroke-width="0.75"/>
<line x1="69.39" y1="199.49" x2="67.73" y2="202.19" stroke="#1a1a1a" stroke-width="0.75"/>
<line x1="68.4" y1="201.32" x2="68.6" y2="209.82" stroke="#1a1a1a" stroke-width="1.0"/>
<line x1="70.2" y1="201.28" x2="70.4" y2="209.78" stroke="#1a1a1a" stroke-width="1.0"/>
<text transform="translate(69.8,216.15) scale(1.0,1)" font-size="8.2" fill="#1a1a1a" stroke="#1a1a1a" stroke-width="0.2" text-anchor="middle" font-weight="normal">O</text>
<line x1="69.3" y1="201.3" x2="76.5" y2="197.6" stroke="#1a1a1a" stroke-width="1.0"/>
<text transform="translate(79.7,200.15) scale(1.0,1)" font-size="8.2" fill="#1a1a1a" stroke="#1a1a1a" stroke-width="0.2" text-anchor="middle" font-weight="normal">N</text>
<text transform="translate(79.7,192.55) scale(1.0,1)" font-size="8.2" fill="#1a1a1a" stroke="#1a1a1a" stroke-width="0.2" text-anchor="middle" font-weight="normal">H</text>
<line x1="83.6" y1="199" x2="88.7" y2="201" stroke="#2a9d78" stroke-width="1.0"/>
<polygon points="88.7,201 98.5,195.5 108.2,201 108.2,212.3 98.5,217.4 88.7,212.3" fill="none" stroke="#2a9d78" stroke-width="1.0" stroke-linejoin="round"/>
<polyline points="88.7,201 99.9,201.3 99.9,212.1 108.2,212.3" fill="none" stroke="#2a9d78" stroke-width="1.0" stroke-linejoin="round"/>
<line x1="108.2" y1="212.3" x2="117.4" y2="217.6" stroke="#1a1a1a" stroke-width="1.0"/>
<line x1="116.5" y1="217.6" x2="116.5" y2="225.4" stroke="#1a1a1a" stroke-width="1.0"/>
<line x1="118.3" y1="217.6" x2="118.3" y2="225.4" stroke="#1a1a1a" stroke-width="1.0"/>
<text transform="translate(117.5,231.75) scale(1.0,1)" font-size="8.2" fill="#1a1a1a" stroke="#1a1a1a" stroke-width="0.2" text-anchor="middle" font-weight="normal">O</text>
<line x1="117.4" y1="217.6" x2="123.6" y2="214.4" stroke="#1a1a1a" stroke-width="1.0"/>
<text transform="translate(126.9,215.55) scale(1.0,1)" font-size="8.2" fill="#1a1a1a" stroke="#1a1a1a" stroke-width="0.2" text-anchor="middle" font-weight="normal">N</text>
<text transform="translate(126.9,208.15) scale(1.0,1)" font-size="8.2" fill="#1a1a1a" stroke="#1a1a1a" stroke-width="0.2" text-anchor="middle" font-weight="normal">H</text>
<polyline points="130.2,214.7 136.1,217.9 146.1,213.3 155.3,217.9 164.2,212.3" fill="none" stroke="#1a1a1a" stroke-width="1.0" stroke-linejoin="round"/>
<line x1="164.2" y1="212.2" x2="174.2" y2="206.8" stroke="#1a1a1a" stroke-width="0.95"/>
<line x1="164.55" y1="214.11" x2="174.55" y2="208.71" stroke="#1a1a1a" stroke-width="0.95"/>
<line x1="163.85" y1="210.29" x2="173.85" y2="204.89" stroke="#1a1a1a" stroke-width="0.95"/>
<line x1="174.6" y1="206.6" x2="183.3" y2="201.3" stroke="#1a1a1a" stroke-width="1.0"/>
<polygon points="183.4,201.5 183.9,190.7 193.7,185.1 202.6,190.3 202.6,201.5 193.7,206.6" fill="none" stroke="#1a1a1a" stroke-width="1.0" stroke-linejoin="round"/>
<line x1="186.45" y1="191.09" x2="192.72" y2="187.5" stroke="#1a1a1a" stroke-width="1.0"/>
<line x1="201" y1="192.32" x2="201" y2="199.49" stroke="#1a1a1a" stroke-width="1.0"/>
<line x1="192.66" y1="204.3" x2="186.07" y2="201.04" stroke="#1a1a1a" stroke-width="1.0"/>
<line x1="202.6" y1="201.5" x2="210.6" y2="209" stroke="#1a1a1a" stroke-width="1.0"/>
<line x1="210.83" y1="209.87" x2="217.73" y2="208.07" stroke="#1a1a1a" stroke-width="1.0"/>
<line x1="210.37" y1="208.13" x2="217.27" y2="206.33" stroke="#1a1a1a" stroke-width="1.0"/>
<text transform="translate(221.5,209.75) scale(1.0,1)" font-size="8.2" fill="#1a1a1a" stroke="#1a1a1a" stroke-width="0.2" text-anchor="middle" font-weight="normal">O</text>
<line x1="210.6" y1="209" x2="208.5" y2="215.1" stroke="#1a1a1a" stroke-width="1.0"/>
<text transform="translate(206.9,221.85) scale(1.0,1)" font-size="8.2" fill="#1a1a1a" stroke="#1a1a1a" stroke-width="0.2" text-anchor="middle" font-weight="normal">N</text>
<line x1="203.3" y1="218.1" x2="196.1" y2="217.4" stroke="#1a1a1a" stroke-width="1.0"/>
<line x1="196.1" y1="217.4" x2="193.7" y2="206.6" stroke="#1a1a1a" stroke-width="1.0"/>
<line x1="208.7" y1="222.8" x2="212.5" y2="228.2" stroke="#1a1a1a" stroke-width="1.0"/>
<polyline points="206.8,238 212.5,228.2 223.2,228.2 228.8,238 223.2,247.8" fill="none" stroke="#1a1a1a" stroke-width="1.0" stroke-linejoin="round"/>
<line x1="223.2" y1="247.8" x2="216.5" y2="248.1" stroke="#1a1a1a" stroke-width="1.0"/>
<line x1="206.8" y1="238" x2="209.3" y2="243.7" stroke="#1a1a1a" stroke-width="1.0"/>
<text transform="translate(209.1,251.45) scale(1.0,1)" font-size="8.2" fill="#1a1a1a" stroke="#1a1a1a" stroke-width="0.2" text-anchor="middle" font-weight="normal">HN</text>
<line x1="206.8" y1="237.1" x2="199.9" y2="237.1" stroke="#1a1a1a" stroke-width="1.0"/>
<line x1="206.8" y1="238.9" x2="199.9" y2="238.9" stroke="#1a1a1a" stroke-width="1.0"/>
<text transform="translate(196.2,241.05) scale(1.0,1)" font-size="8.2" fill="#1a1a1a" stroke="#1a1a1a" stroke-width="0.2" text-anchor="middle" font-weight="normal">O</text>
<line x1="222.41" y1="248.23" x2="225.51" y2="253.93" stroke="#1a1a1a" stroke-width="1.0"/>
<line x1="223.99" y1="247.37" x2="227.09" y2="253.07" stroke="#1a1a1a" stroke-width="1.0"/>
<text transform="translate(228.3,260.05) scale(1.0,1)" font-size="8.2" fill="#1a1a1a" stroke="#1a1a1a" stroke-width="0.2" text-anchor="middle" font-weight="normal">O</text>
<circle cx="112.6" cy="189" r="9.1" fill="#139563"/>
<path d="M112.6,189 L112.6,186.7 M112.6,189 L114.79,188.29 M112.6,189 L113.95,190.86 M112.6,189 L111.25,190.86 M112.6,189 L110.41,188.29 " stroke="#fff" stroke-width="1.35" stroke-linecap="round" fill="none"/>
<polygon points="245.7,165.4 255.8,161 265,166.3 265,177.2 254.9,182.5 245.7,177.2" fill="none" stroke="#1a1a1a" stroke-width="1.0" stroke-linejoin="round"/>
<line x1="248.29" y1="166.01" x2="254.75" y2="163.2" stroke="#1a1a1a" stroke-width="1.0"/>
<line x1="263.4" y1="168.24" x2="263.4" y2="175.21" stroke="#1a1a1a" stroke-width="1.0"/>
<line x1="254.08" y1="180.18" x2="248.19" y2="176.79" stroke="#1a1a1a" stroke-width="1.0"/>
<line x1="245.7" y1="165.4" x2="240.8" y2="163" stroke="#1a1a1a" stroke-width="1.0"/>
<text transform="translate(234.6,163.55) scale(1.0,1)" font-size="8.2" fill="#1a1a1a" stroke="#1a1a1a" stroke-width="0.2" text-anchor="middle" font-weight="normal">Cl</text>
<line x1="265" y1="166.3" x2="271.8" y2="165.3" stroke="#1a1a1a" stroke-width="1.0"/>
<text transform="translate(276.2,168.15) scale(1.0,1)" font-size="8.2" fill="#7b3294" stroke="#7b3294" stroke-width="0.2" text-anchor="middle" font-weight="normal">N</text>
<line x1="277.4" y1="161" x2="280.3" y2="154" stroke="#7b3294" stroke-width="1.0"/>
<line x1="279.3" y1="169" x2="282.1" y2="173.7" stroke="#1a1a1a" stroke-width="1.0"/>
<line x1="281.98" y1="174.59" x2="286.28" y2="175.19" stroke="#1a1a1a" stroke-width="1.0"/>
<line x1="282.22" y1="172.81" x2="286.52" y2="173.41" stroke="#1a1a1a" stroke-width="1.0"/>
<text transform="translate(290.2,177.35) scale(1.0,1)" font-size="8.2" fill="#1a1a1a" stroke="#1a1a1a" stroke-width="0.2" text-anchor="middle" font-weight="normal">O</text>
<polygon points="275.46,182.31 283.55,174.92 280.65,172.48 274.74,181.69" fill="#1a1a1a"/>
<line x1="274.23" y1="182.21" x2="274.46" y2="181.37" stroke="#1a1a1a" stroke-width="0.75"/>
<line x1="272.64" y1="182.05" x2="273.01" y2="180.7" stroke="#1a1a1a" stroke-width="0.75"/>
<line x1="271.05" y1="181.89" x2="271.56" y2="180.03" stroke="#1a1a1a" stroke-width="0.75"/>
<line x1="269.46" y1="181.73" x2="270.12" y2="179.35" stroke="#1a1a1a" stroke-width="0.75"/>
<line x1="267.88" y1="181.57" x2="268.67" y2="178.68" stroke="#1a1a1a" stroke-width="0.75"/>
<line x1="266.29" y1="181.41" x2="267.23" y2="178" stroke="#1a1a1a" stroke-width="0.75"/>
<line x1="275.1" y1="182" x2="285.6" y2="184.2" stroke="#1a1a1a" stroke-width="1.0"/>
<line x1="285.6" y1="184.2" x2="286.9" y2="195.2" stroke="#1a1a1a" stroke-width="1.0"/>
<line x1="286.9" y1="195.2" x2="281.6" y2="197.9" stroke="#1a1a1a" stroke-width="1.0"/>
<line x1="273.4" y1="197" x2="269.6" y2="191.4" stroke="#1a1a1a" stroke-width="1.0"/>
<line x1="269.6" y1="191.4" x2="275.1" y2="182" stroke="#1a1a1a" stroke-width="1.0"/>
<text transform="translate(277.2,203.55) scale(1.0,1)" font-size="8.2" fill="#7b3294" stroke="#7b3294" stroke-width="0.2" text-anchor="middle" font-weight="normal">N</text>
<line x1="276.2" y1="204.5" x2="274.8" y2="211.5" stroke="#7b3294" stroke-width="1.0"/>
<polygon points="269.6,191.4 259.5,187.1 250.1,193.4 251,204.4 261.5,209.4 270.7,202.4" fill="none" stroke="#1a1a1a" stroke-width="1.0" stroke-linejoin="round"/>
<polygon points="285.89,184.54 300.97,173.37 298.63,170.63 285.31,183.86" fill="#1a1a1a"/>
<polygon points="299.8,172 297.6,160.6 305.9,153.2 316.8,157.1 318.6,167.6 310.7,174.7" fill="none" stroke="#1a1a1a" stroke-width="1.0" stroke-linejoin="round"/>
<line x1="300.97" y1="169.6" x2="299.56" y2="162.31" stroke="#1a1a1a" stroke-width="1.0"/>
<line x1="307.34" y1="155.41" x2="314.32" y2="157.91" stroke="#1a1a1a" stroke-width="1.0"/>
<line x1="316.09" y1="167.7" x2="311.04" y2="172.25" stroke="#1a1a1a" stroke-width="1.0"/>
<line x1="318.6" y1="167.6" x2="325" y2="169.6" stroke="#1a1a1a" stroke-width="1.0"/>
<text transform="translate(330.4,174.55) scale(1.0,1)" font-size="8.2" fill="#1a1a1a" stroke="#1a1a1a" stroke-width="0.2" text-anchor="middle" font-weight="normal">Cl</text>
<line x1="310.7" y1="174.7" x2="311.4" y2="181" stroke="#1a1a1a" stroke-width="1.0"/>
<text transform="translate(312.6,188.75) scale(1.0,1)" font-size="8.2" fill="#1a1a1a" stroke="#1a1a1a" stroke-width="0.2" text-anchor="middle" font-weight="normal">F</text>
<line x1="287.86" y1="195.3" x2="287.42" y2="196.01" stroke="#1a1a1a" stroke-width="0.75"/>
<line x1="289.47" y1="196.02" x2="288.78" y2="197.13" stroke="#1a1a1a" stroke-width="0.75"/>
<line x1="291.07" y1="196.74" x2="290.14" y2="198.24" stroke="#1a1a1a" stroke-width="0.75"/>
<line x1="292.68" y1="197.46" x2="291.5" y2="199.36" stroke="#1a1a1a" stroke-width="0.75"/>
<line x1="294.28" y1="198.18" x2="292.87" y2="200.47" stroke="#1a1a1a" stroke-width="0.75"/>
<line x1="295.89" y1="198.89" x2="294.23" y2="201.59" stroke="#1a1a1a" stroke-width="0.75"/>
<line x1="294.9" y1="200.72" x2="295.1" y2="209.22" stroke="#1a1a1a" stroke-width="1.0"/>
<line x1="296.7" y1="200.68" x2="296.9" y2="209.18" stroke="#1a1a1a" stroke-width="1.0"/>
<text transform="translate(296.3,215.55) scale(1.0,1)" font-size="8.2" fill="#1a1a1a" stroke="#1a1a1a" stroke-width="0.2" text-anchor="middle" font-weight="normal">O</text>
<line x1="295.8" y1="200.7" x2="303" y2="197" stroke="#1a1a1a" stroke-width="1.0"/>
<text transform="translate(306.2,199.55) scale(1.0,1)" font-size="8.2" fill="#1a1a1a" stroke="#1a1a1a" stroke-width="0.2" text-anchor="middle" font-weight="normal">N</text>
<text transform="translate(306.2,191.95) scale(1.0,1)" font-size="8.2" fill="#1a1a1a" stroke="#1a1a1a" stroke-width="0.2" text-anchor="middle" font-weight="normal">H</text>
<line x1="309.9" y1="199.5" x2="315" y2="201.5" stroke="#2a9d78" stroke-width="1.0"/>
<polygon points="315,201.5 324.8,196 334.5,201.5 334.5,212.8 324.8,217.9 315,212.8" fill="none" stroke="#2a9d78" stroke-width="1.0" stroke-linejoin="round"/>
<polyline points="315,201.5 326.2,201.8 326.2,212.6 334.5,212.8" fill="none" stroke="#2a9d78" stroke-width="1.0" stroke-linejoin="round"/>
<line x1="334.5" y1="212.8" x2="343.7" y2="218.1" stroke="#1a1a1a" stroke-width="1.0"/>
<line x1="342.8" y1="218.1" x2="342.8" y2="225.9" stroke="#1a1a1a" stroke-width="1.0"/>
<line x1="344.6" y1="218.1" x2="344.6" y2="225.9" stroke="#1a1a1a" stroke-width="1.0"/>
<text transform="translate(343.8,232.25) scale(1.0,1)" font-size="8.2" fill="#1a1a1a" stroke="#1a1a1a" stroke-width="0.2" text-anchor="middle" font-weight="normal">O</text>
<line x1="343.7" y1="218.1" x2="349.9" y2="214.9" stroke="#1a1a1a" stroke-width="1.0"/>
<text transform="translate(353.2,216.05) scale(1.0,1)" font-size="8.2" fill="#1a1a1a" stroke="#1a1a1a" stroke-width="0.2" text-anchor="middle" font-weight="normal">N</text>
<text transform="translate(353.2,208.65) scale(1.0,1)" font-size="8.2" fill="#1a1a1a" stroke="#1a1a1a" stroke-width="0.2" text-anchor="middle" font-weight="normal">H</text>
<polyline points="356.7,215.2 362.6,218.4 372.6,213.8 381.8,218.4 390.7,212.8" fill="none" stroke="#1a1a1a" stroke-width="1.0" stroke-linejoin="round"/>
<line x1="390.7" y1="212.7" x2="400.7" y2="207.3" stroke="#1a1a1a" stroke-width="0.95"/>
<line x1="391.05" y1="214.61" x2="401.05" y2="209.21" stroke="#1a1a1a" stroke-width="0.95"/>
<line x1="390.35" y1="210.79" x2="400.35" y2="205.39" stroke="#1a1a1a" stroke-width="0.95"/>
<line x1="401.1" y1="207.1" x2="409.8" y2="201.8" stroke="#1a1a1a" stroke-width="1.0"/>
<polygon points="409.9,201.9 410.4,191.1 420.2,185.5 429.1,190.7 429.1,201.9 420.2,207" fill="none" stroke="#1a1a1a" stroke-width="1.0" stroke-linejoin="round"/>
<line x1="412.95" y1="191.49" x2="419.22" y2="187.9" stroke="#1a1a1a" stroke-width="1.0"/>
<line x1="427.5" y1="192.72" x2="427.5" y2="199.89" stroke="#1a1a1a" stroke-width="1.0"/>
<line x1="419.16" y1="204.7" x2="412.57" y2="201.44" stroke="#1a1a1a" stroke-width="1.0"/>
<line x1="429.1" y1="201.9" x2="437.1" y2="209.4" stroke="#1a1a1a" stroke-width="1.0"/>
<line x1="437.33" y1="210.27" x2="444.23" y2="208.47" stroke="#1a1a1a" stroke-width="1.0"/>
<line x1="436.87" y1="208.53" x2="443.77" y2="206.73" stroke="#1a1a1a" stroke-width="1.0"/>
<text transform="translate(448,210.15) scale(1.0,1)" font-size="8.2" fill="#1a1a1a" stroke="#1a1a1a" stroke-width="0.2" text-anchor="middle" font-weight="normal">O</text>
<line x1="437.1" y1="209.4" x2="435" y2="215.5" stroke="#1a1a1a" stroke-width="1.0"/>
<text transform="translate(433.4,222.25) scale(1.0,1)" font-size="8.2" fill="#1a1a1a" stroke="#1a1a1a" stroke-width="0.2" text-anchor="middle" font-weight="normal">N</text>
<line x1="429.8" y1="218.5" x2="422.6" y2="217.8" stroke="#1a1a1a" stroke-width="1.0"/>
<line x1="422.6" y1="217.8" x2="420.2" y2="207" stroke="#1a1a1a" stroke-width="1.0"/>
<line x1="435.2" y1="223.2" x2="439" y2="228.6" stroke="#1a1a1a" stroke-width="1.0"/>
<polyline points="433.3,238.4 439,228.6 449.7,228.6 455.3,238.4 449.7,248.2" fill="none" stroke="#1a1a1a" stroke-width="1.0" stroke-linejoin="round"/>
<line x1="449.7" y1="248.2" x2="443" y2="248.5" stroke="#1a1a1a" stroke-width="1.0"/>
<line x1="433.3" y1="238.4" x2="435.8" y2="244.1" stroke="#1a1a1a" stroke-width="1.0"/>
<text transform="translate(435.6,251.85) scale(1.0,1)" font-size="8.2" fill="#1a1a1a" stroke="#1a1a1a" stroke-width="0.2" text-anchor="middle" font-weight="normal">HN</text>
<line x1="433.3" y1="237.5" x2="426.4" y2="237.5" stroke="#1a1a1a" stroke-width="1.0"/>
<line x1="433.3" y1="239.3" x2="426.4" y2="239.3" stroke="#1a1a1a" stroke-width="1.0"/>
<text transform="translate(422.7,241.45) scale(1.0,1)" font-size="8.2" fill="#1a1a1a" stroke="#1a1a1a" stroke-width="0.2" text-anchor="middle" font-weight="normal">O</text>
<line x1="448.91" y1="248.63" x2="452.01" y2="254.33" stroke="#1a1a1a" stroke-width="1.0"/>
<line x1="450.49" y1="247.77" x2="453.59" y2="253.47" stroke="#1a1a1a" stroke-width="1.0"/>
<text transform="translate(454.8,260.45) scale(1.0,1)" font-size="8.2" fill="#1a1a1a" stroke="#1a1a1a" stroke-width="0.2" text-anchor="middle" font-weight="normal">O</text>
<circle cx="269" cy="146.8" r="9.1" fill="#702c8c"/>
<path d="M269,146.8 L269,144.5 M269,146.8 L271.19,146.09 M269,146.8 L270.35,148.66 M269,146.8 L267.65,148.66 M269,146.8 L266.81,146.09 " stroke="#fff" stroke-width="1.35" stroke-linecap="round" fill="none"/>
<circle cx="280.3" cy="221.8" r="9.1" fill="#702c8c"/>
<path d="M280.3,221.8 L280.3,219.5 M280.3,221.8 L282.49,221.09 M280.3,221.8 L281.65,223.66 M280.3,221.8 L278.95,223.66 M280.3,221.8 L278.11,221.09 " stroke="#fff" stroke-width="1.35" stroke-linecap="round" fill="none"/>
<circle cx="339.1" cy="189.6" r="9.1" fill="#139563"/>
<path d="M339.1,189.6 L339.1,187.3 M339.1,189.6 L341.29,188.89 M339.1,189.6 L340.45,191.46 M339.1,189.6 L337.75,191.46 M339.1,189.6 L336.91,188.89 " stroke="#fff" stroke-width="1.35" stroke-linecap="round" fill="none"/>
<polygon points="471.4,165.4 481.5,161 490.7,166.3 490.7,177.2 480.6,182.5 471.4,177.2" fill="none" stroke="#1a1a1a" stroke-width="1.0" stroke-linejoin="round"/>
<line x1="473.99" y1="166.01" x2="480.45" y2="163.2" stroke="#1a1a1a" stroke-width="1.0"/>
<line x1="489.1" y1="168.24" x2="489.1" y2="175.21" stroke="#1a1a1a" stroke-width="1.0"/>
<line x1="479.78" y1="180.18" x2="473.89" y2="176.79" stroke="#1a1a1a" stroke-width="1.0"/>
<line x1="471.4" y1="165.4" x2="466.5" y2="163" stroke="#1a1a1a" stroke-width="1.0"/>
<text transform="translate(460.3,163.55) scale(1.0,1)" font-size="8.2" fill="#1a1a1a" stroke="#1a1a1a" stroke-width="0.2" text-anchor="middle" font-weight="normal">Cl</text>
<line x1="490.7" y1="166.3" x2="497.5" y2="165.3" stroke="#1a1a1a" stroke-width="1.0"/>
<text transform="translate(501.9,168.15) scale(1.0,1)" font-size="8.2" fill="#7b3294" stroke="#7b3294" stroke-width="0.2" text-anchor="middle" font-weight="normal">N</text>
<line x1="503.1" y1="161" x2="506" y2="154" stroke="#7b3294" stroke-width="1.0"/>
<line x1="505" y1="169" x2="507.8" y2="173.7" stroke="#1a1a1a" stroke-width="1.0"/>
<line x1="507.68" y1="174.59" x2="511.98" y2="175.19" stroke="#1a1a1a" stroke-width="1.0"/>
<line x1="507.92" y1="172.81" x2="512.22" y2="173.41" stroke="#1a1a1a" stroke-width="1.0"/>
<text transform="translate(515.9,177.35) scale(1.0,1)" font-size="8.2" fill="#1a1a1a" stroke="#1a1a1a" stroke-width="0.2" text-anchor="middle" font-weight="normal">O</text>
<polygon points="501.16,182.31 509.25,174.92 506.35,172.48 500.44,181.69" fill="#1a1a1a"/>
<line x1="499.93" y1="182.21" x2="500.16" y2="181.37" stroke="#1a1a1a" stroke-width="0.75"/>
<line x1="498.34" y1="182.05" x2="498.71" y2="180.7" stroke="#1a1a1a" stroke-width="0.75"/>
<line x1="496.75" y1="181.89" x2="497.26" y2="180.03" stroke="#1a1a1a" stroke-width="0.75"/>
<line x1="495.16" y1="181.73" x2="495.82" y2="179.35" stroke="#1a1a1a" stroke-width="0.75"/>
<line x1="493.58" y1="181.57" x2="494.37" y2="178.68" stroke="#1a1a1a" stroke-width="0.75"/>
<line x1="491.99" y1="181.41" x2="492.93" y2="178" stroke="#1a1a1a" stroke-width="0.75"/>
<line x1="500.8" y1="182" x2="511.3" y2="184.2" stroke="#1a1a1a" stroke-width="1.0"/>
<line x1="511.3" y1="184.2" x2="512.6" y2="195.2" stroke="#1a1a1a" stroke-width="1.0"/>
<line x1="512.6" y1="195.2" x2="507.3" y2="197.9" stroke="#1a1a1a" stroke-width="1.0"/>
<line x1="499.1" y1="197" x2="495.3" y2="191.4" stroke="#1a1a1a" stroke-width="1.0"/>
<line x1="495.3" y1="191.4" x2="500.8" y2="182" stroke="#1a1a1a" stroke-width="1.0"/>
<text transform="translate(502.9,203.55) scale(1.0,1)" font-size="8.2" fill="#7b3294" stroke="#7b3294" stroke-width="0.2" text-anchor="middle" font-weight="normal">N</text>
<line x1="501.9" y1="204.5" x2="500.5" y2="211.5" stroke="#7b3294" stroke-width="1.0"/>
<polygon points="495.3,191.4 485.2,187.1 475.8,193.4 476.7,204.4 487.2,209.4 496.4,202.4" fill="none" stroke="#1a1a1a" stroke-width="1.0" stroke-linejoin="round"/>
<polygon points="511.59,184.54 526.67,173.37 524.33,170.63 511.01,183.86" fill="#1a1a1a"/>
<polygon points="525.5,172 523.3,160.6 531.6,153.2 542.5,157.1 544.3,167.6 536.4,174.7" fill="none" stroke="#1a1a1a" stroke-width="1.0" stroke-linejoin="round"/>
<line x1="526.67" y1="169.6" x2="525.26" y2="162.31" stroke="#1a1a1a" stroke-width="1.0"/>
<line x1="533.04" y1="155.41" x2="540.02" y2="157.91" stroke="#1a1a1a" stroke-width="1.0"/>
<line x1="541.79" y1="167.7" x2="536.74" y2="172.25" stroke="#1a1a1a" stroke-width="1.0"/>
<line x1="544.3" y1="167.6" x2="550.7" y2="169.6" stroke="#1a1a1a" stroke-width="1.0"/>
<text transform="translate(556.1,174.55) scale(1.0,1)" font-size="8.2" fill="#1a1a1a" stroke="#1a1a1a" stroke-width="0.2" text-anchor="middle" font-weight="normal">Cl</text>
<line x1="536.4" y1="174.7" x2="537.1" y2="181" stroke="#1a1a1a" stroke-width="1.0"/>
<text transform="translate(538.3,188.75) scale(1.0,1)" font-size="8.2" fill="#1a1a1a" stroke="#1a1a1a" stroke-width="0.2" text-anchor="middle" font-weight="normal">F</text>
<line x1="513.56" y1="195.3" x2="513.12" y2="196.01" stroke="#1a1a1a" stroke-width="0.75"/>
<line x1="515.17" y1="196.02" x2="514.48" y2="197.13" stroke="#1a1a1a" stroke-width="0.75"/>
<line x1="516.77" y1="196.74" x2="515.84" y2="198.24" stroke="#1a1a1a" stroke-width="0.75"/>
<line x1="518.38" y1="197.46" x2="517.2" y2="199.36" stroke="#1a1a1a" stroke-width="0.75"/>
<line x1="519.98" y1="198.18" x2="518.57" y2="200.47" stroke="#1a1a1a" stroke-width="0.75"/>
<line x1="521.59" y1="198.89" x2="519.93" y2="201.59" stroke="#1a1a1a" stroke-width="0.75"/>
<line x1="520.6" y1="200.72" x2="520.8" y2="209.22" stroke="#1a1a1a" stroke-width="1.0"/>
<line x1="522.4" y1="200.68" x2="522.6" y2="209.18" stroke="#1a1a1a" stroke-width="1.0"/>
<text transform="translate(522,215.55) scale(1.0,1)" font-size="8.2" fill="#1a1a1a" stroke="#1a1a1a" stroke-width="0.2" text-anchor="middle" font-weight="normal">O</text>
<line x1="521.5" y1="200.7" x2="528.7" y2="197" stroke="#1a1a1a" stroke-width="1.0"/>
<text transform="translate(531.9,199.55) scale(1.0,1)" font-size="8.2" fill="#1a1a1a" stroke="#1a1a1a" stroke-width="0.2" text-anchor="middle" font-weight="normal">N</text>
<text transform="translate(531.9,191.95) scale(1.0,1)" font-size="8.2" fill="#1a1a1a" stroke="#1a1a1a" stroke-width="0.2" text-anchor="middle" font-weight="normal">H</text>
<line x1="535.6" y1="199.5" x2="540.7" y2="201.5" stroke="#2a9d78" stroke-width="1.0"/>
<polygon points="540.7,201.5 550.5,196 560.2,201.5 560.2,212.8 550.5,217.9 540.7,212.8" fill="none" stroke="#2a9d78" stroke-width="1.0" stroke-linejoin="round"/>
<polyline points="540.7,201.5 551.9,201.8 551.9,212.6 560.2,212.8" fill="none" stroke="#2a9d78" stroke-width="1.0" stroke-linejoin="round"/>
<line x1="560.2" y1="212.8" x2="569.4" y2="218.1" stroke="#1a1a1a" stroke-width="1.0"/>
<line x1="568.5" y1="218.1" x2="568.5" y2="225.9" stroke="#1a1a1a" stroke-width="1.0"/>
<line x1="570.3" y1="218.1" x2="570.3" y2="225.9" stroke="#1a1a1a" stroke-width="1.0"/>
<text transform="translate(569.5,232.25) scale(1.0,1)" font-size="8.2" fill="#1a1a1a" stroke="#1a1a1a" stroke-width="0.2" text-anchor="middle" font-weight="normal">O</text>
<line x1="569.4" y1="218.1" x2="575.6" y2="214.9" stroke="#1a1a1a" stroke-width="1.0"/>
<text transform="translate(578.9,216.05) scale(1.0,1)" font-size="8.2" fill="#1a1a1a" stroke="#1a1a1a" stroke-width="0.2" text-anchor="middle" font-weight="normal">N</text>
<text transform="translate(578.9,208.65) scale(1.0,1)" font-size="8.2" fill="#1a1a1a" stroke="#1a1a1a" stroke-width="0.2" text-anchor="middle" font-weight="normal">H</text>
<polyline points="583.2,215 589.1,218.2 599.1,213.6 608.3,218.2 617.2,212.6" fill="none" stroke="#1a1a1a" stroke-width="1.0" stroke-linejoin="round"/>
<line x1="617.2" y1="212.5" x2="627.2" y2="207.1" stroke="#1a1a1a" stroke-width="0.95"/>
<line x1="617.55" y1="214.41" x2="627.55" y2="209.01" stroke="#1a1a1a" stroke-width="0.95"/>
<line x1="616.85" y1="210.59" x2="626.85" y2="205.19" stroke="#1a1a1a" stroke-width="0.95"/>
<line x1="627.6" y1="206.9" x2="636.3" y2="201.6" stroke="#1a1a1a" stroke-width="1.0"/>
<polygon points="636.6,201.6 637.1,190.8 646.9,185.2 655.8,190.4 655.8,201.6 646.9,206.7" fill="none" stroke="#1a1a1a" stroke-width="1.0" stroke-linejoin="round"/>
<line x1="639.65" y1="191.19" x2="645.92" y2="187.6" stroke="#1a1a1a" stroke-width="1.0"/>
<line x1="654.2" y1="192.42" x2="654.2" y2="199.59" stroke="#1a1a1a" stroke-width="1.0"/>
<line x1="645.86" y1="204.4" x2="639.27" y2="201.14" stroke="#1a1a1a" stroke-width="1.0"/>
<line x1="655.8" y1="201.6" x2="663.8" y2="209.1" stroke="#1a1a1a" stroke-width="1.0"/>
<line x1="664.03" y1="209.97" x2="670.93" y2="208.17" stroke="#1a1a1a" stroke-width="1.0"/>
<line x1="663.57" y1="208.23" x2="670.47" y2="206.43" stroke="#1a1a1a" stroke-width="1.0"/>
<text transform="translate(674.7,209.85) scale(1.0,1)" font-size="8.2" fill="#1a1a1a" stroke="#1a1a1a" stroke-width="0.2" text-anchor="middle" font-weight="normal">O</text>
<line x1="663.8" y1="209.1" x2="661.7" y2="215.2" stroke="#1a1a1a" stroke-width="1.0"/>
<text transform="translate(660.1,221.95) scale(1.0,1)" font-size="8.2" fill="#1a1a1a" stroke="#1a1a1a" stroke-width="0.2" text-anchor="middle" font-weight="normal">N</text>
<line x1="656.5" y1="218.2" x2="649.3" y2="217.5" stroke="#1a1a1a" stroke-width="1.0"/>
<line x1="649.3" y1="217.5" x2="646.9" y2="206.7" stroke="#1a1a1a" stroke-width="1.0"/>
<line x1="661.9" y1="222.9" x2="665.7" y2="228.3" stroke="#1a1a1a" stroke-width="1.0"/>
<polyline points="660,238.1 665.7,228.3 676.4,228.3 682,238.1 676.4,247.9" fill="none" stroke="#1a1a1a" stroke-width="1.0" stroke-linejoin="round"/>
<line x1="676.4" y1="247.9" x2="669.7" y2="248.2" stroke="#1a1a1a" stroke-width="1.0"/>
<line x1="660" y1="238.1" x2="662.5" y2="243.8" stroke="#1a1a1a" stroke-width="1.0"/>
<text transform="translate(662.3,251.55) scale(1.0,1)" font-size="8.2" fill="#1a1a1a" stroke="#1a1a1a" stroke-width="0.2" text-anchor="middle" font-weight="normal">HN</text>
<line x1="660" y1="237.2" x2="653.1" y2="237.2" stroke="#1a1a1a" stroke-width="1.0"/>
<line x1="660" y1="239" x2="653.1" y2="239" stroke="#1a1a1a" stroke-width="1.0"/>
<text transform="translate(649.4,241.15) scale(1.0,1)" font-size="8.2" fill="#1a1a1a" stroke="#1a1a1a" stroke-width="0.2" text-anchor="middle" font-weight="normal">O</text>
<line x1="675.61" y1="248.33" x2="678.71" y2="254.03" stroke="#1a1a1a" stroke-width="1.0"/>
<line x1="677.19" y1="247.47" x2="680.29" y2="253.17" stroke="#1a1a1a" stroke-width="1.0"/>
<text transform="translate(681.5,260.15) scale(1.0,1)" font-size="8.2" fill="#1a1a1a" stroke="#1a1a1a" stroke-width="0.2" text-anchor="middle" font-weight="normal">O</text>
<line x1="655.8" y1="190.4" x2="662.7" y2="186.6" stroke="#3c56a5" stroke-width="1.0"/>
<text transform="translate(665.9,188.15) scale(1.0,1)" font-size="8.2" fill="#3c56a5" stroke="#3c56a5" stroke-width="0.2" text-anchor="middle" font-weight="normal">O</text>
<line x1="669.3" y1="186.6" x2="675.5" y2="189.8" stroke="#3c56a5" stroke-width="1.0"/>
<circle cx="496.3" cy="146.5" r="9.1" fill="#702c8c"/>
<path d="M496.3,146.5 L496.3,144.2 M496.3,146.5 L498.49,145.79 M496.3,146.5 L497.65,148.36 M496.3,146.5 L494.95,148.36 M496.3,146.5 L494.11,145.79 " stroke="#fff" stroke-width="1.35" stroke-linecap="round" fill="none"/>
<circle cx="506.6" cy="221.9" r="9.1" fill="#702c8c"/>
<path d="M506.6,221.9 L506.6,219.6 M506.6,221.9 L508.79,221.19 M506.6,221.9 L507.95,223.76 M506.6,221.9 L505.25,223.76 M506.6,221.9 L504.41,221.19 " stroke="#fff" stroke-width="1.35" stroke-linecap="round" fill="none"/>
<circle cx="564.9" cy="189" r="9.1" fill="#139563"/>
<path d="M564.9,189 L564.9,186.7 M564.9,189 L567.09,188.29 M564.9,189 L566.25,190.86 M564.9,189 L563.55,190.86 M564.9,189 L562.71,188.29 " stroke="#fff" stroke-width="1.35" stroke-linecap="round" fill="none"/>
<circle cx="657.5" cy="172.2" r="9.1" fill="#3d55a5"/>
<path d="M657.5,172.2 L657.5,169.9 M657.5,172.2 L659.69,171.49 M657.5,172.2 L658.85,174.06 M657.5,172.2 L656.15,174.06 M657.5,172.2 L655.31,171.49 " stroke="#fff" stroke-width="1.35" stroke-linecap="round" fill="none"/>
<text x="96" y="113.2" font-size="11.7" font-weight="bold" fill="#1a1a1a" textLength="42.1" lengthAdjust="spacingAndGlyphs">MD-224</text>
<text x="323" y="113.2" font-size="11.7" font-weight="bold" fill="#1a1a1a" textLength="41.7" lengthAdjust="spacingAndGlyphs">MD-222</text>
<text x="515.2" y="113.2" font-size="11.7" font-weight="bold" fill="#1a1a1a" textLength="42.4" lengthAdjust="spacingAndGlyphs">MG-277</text>
<text x="86.4" y="247.4" font-size="11.7" font-weight="bold" fill="#1a1a1a" textLength="61.3" lengthAdjust="spacingAndGlyphs">SJYHJ-048</text>
<text x="313.3" y="247.4" font-size="11.7" font-weight="bold" fill="#1a1a1a" textLength="61.1" lengthAdjust="spacingAndGlyphs">SJYHJ-059</text>
<text x="538.3" y="247.4" font-size="11.7" font-weight="bold" fill="#1a1a1a" textLength="61.7" lengthAdjust="spacingAndGlyphs">SJYHJ-108</text>
<path d="M40,276.7 V389.4 H222.2" fill="none" stroke="#111111" stroke-width="1.3"/>
<line x1="35" y1="389.4" x2="40" y2="389.4" stroke="#111111" stroke-width="1.1"/>
<text transform="translate(33,392.6) scale(1.0,1)" font-size="9.0" fill="#1a1a1a" stroke="#1a1a1a" stroke-width="0.22" text-anchor="end" font-weight="normal">0</text>
<line x1="35" y1="351.83" x2="40" y2="351.83" stroke="#111111" stroke-width="1.1"/>
<text transform="translate(33,355.03) scale(1.0,1)" font-size="9.0" fill="#1a1a1a" stroke="#1a1a1a" stroke-width="0.22" text-anchor="end" font-weight="normal">50</text>
<line x1="35" y1="314.27" x2="40" y2="314.27" stroke="#111111" stroke-width="1.1"/>
<text transform="translate(33,317.47) scale(1.0,1)" font-size="9.0" fill="#1a1a1a" stroke="#1a1a1a" stroke-width="0.22" text-anchor="end" font-weight="normal">100</text>
<line x1="35" y1="276.7" x2="40" y2="276.7" stroke="#111111" stroke-width="1.1"/>
<text transform="translate(33,279.9) scale(1.0,1)" font-size="9.0" fill="#1a1a1a" stroke="#1a1a1a" stroke-width="0.22" text-anchor="end" font-weight="normal">150</text>
<line x1="40" y1="389.4" x2="40" y2="394.4" stroke="#111111" stroke-width="1.1"/>
<text transform="translate(40,404.1) scale(1.0,1)" font-size="9.0" fill="#1a1a1a" stroke="#1a1a1a" stroke-width="0.22" text-anchor="middle" font-weight="normal">0.000001</text>
<line x1="85.55" y1="389.4" x2="85.55" y2="394.4" stroke="#111111" stroke-width="1.1"/>
<text transform="translate(85.55,404.1) scale(1.0,1)" font-size="9.0" fill="#1a1a1a" stroke="#1a1a1a" stroke-width="0.22" text-anchor="middle" font-weight="normal">0.0001</text>
<line x1="131.1" y1="389.4" x2="131.1" y2="394.4" stroke="#111111" stroke-width="1.1"/>
<text transform="translate(131.1,404.1) scale(1.0,1)" font-size="9.0" fill="#1a1a1a" stroke="#1a1a1a" stroke-width="0.22" text-anchor="middle" font-weight="normal">0.01</text>
<line x1="176.65" y1="389.4" x2="176.65" y2="394.4" stroke="#111111" stroke-width="1.1"/>
<text transform="translate(176.65,404.1) scale(1.0,1)" font-size="9.0" fill="#1a1a1a" stroke="#1a1a1a" stroke-width="0.22" text-anchor="middle" font-weight="normal">1</text>
<line x1="222.2" y1="389.4" x2="222.2" y2="394.4" stroke="#111111" stroke-width="1.1"/>
<text transform="translate(222.2,404.1) scale(1.0,1)" font-size="9.0" fill="#1a1a1a" stroke="#1a1a1a" stroke-width="0.22" text-anchor="middle" font-weight="normal">100</text>
<text transform="translate(131.1,281.8) scale(1.0,1)" font-size="11.8" fill="#1a1a1a" stroke="#1a1a1a" stroke-width="0.22" text-anchor="middle" font-weight="normal">PXR</text>
<text transform="translate(131.1,416.3) scale(1.0,1)" font-size="10.2" fill="#1a1a1a" stroke="#1a1a1a" stroke-width="0.22" text-anchor="middle" font-weight="normal">[Compound] (μM)</text>
<text transform="translate(12.9,333.5) rotate(-90) scale(1.0,1)" font-size="10.2" fill="#1a1a1a" stroke="#1a1a1a" stroke-width="0.22" text-anchor="middle" font-weight="normal">HiBiT-PXR Signal (%)</text>
<line x1="43.4" y1="332.3" x2="56.6" y2="332.3" stroke="#151515" stroke-width="1.1"/>
<ellipse cx="50" cy="332.3" rx="2.85" ry="2.85" fill="#cdcdcd" stroke="#151515" stroke-width="1"/>
<text transform="translate(61,335.9) scale(1.0,1.0)" font-size="10.0" fill="#1a1a1a" stroke="#1a1a1a" stroke-width="0.22" text-anchor="start" font-weight="normal">MD-224</text>
<line x1="43.4" y1="342.36" x2="56.6" y2="342.36" stroke="#1f9e6e" stroke-width="1.1"/>
<ellipse cx="50" cy="342.36" rx="2.85" ry="2.85" fill="#d3eee4" stroke="#1f9e6e" stroke-width="1"/>
<text transform="translate(61,345.96) scale(1.0,1.0)" font-size="10.0" fill="#1a1a1a" stroke="#1a1a1a" stroke-width="0.22" text-anchor="start" font-weight="normal">MD-222</text>
<line x1="43.4" y1="352.42" x2="56.6" y2="352.42" stroke="#80308f" stroke-width="1.1"/>
<ellipse cx="50" cy="352.42" rx="2.85" ry="2.85" fill="#e7cde8" stroke="#80308f" stroke-width="1"/>
<text transform="translate(61,356.02) scale(1.0,1.0)" font-size="10.0" fill="#1a1a1a" stroke="#1a1a1a" stroke-width="0.22" text-anchor="start" font-weight="normal">MG-277</text>
<line x1="43.4" y1="362.48" x2="56.6" y2="362.48" stroke="#3a49a2" stroke-width="1.1"/>
<ellipse cx="50" cy="362.48" rx="2.85" ry="2.85" fill="#7a81c4" stroke="#3a49a2" stroke-width="1"/>
<text transform="translate(61,366.08) scale(1.0,1.0)" font-size="10.0" fill="#1a1a1a" stroke="#1a1a1a" stroke-width="0.22" text-anchor="start" font-weight="normal">SJYHJ-048</text>
<line x1="43.4" y1="372.54" x2="56.6" y2="372.54" stroke="#86852a" stroke-width="1.1"/>
<ellipse cx="50" cy="372.54" rx="2.85" ry="2.85" fill="#efefae" stroke="#86852a" stroke-width="1"/>
<text transform="translate(61,376.14) scale(1.0,1.0)" font-size="10.0" fill="#1a1a1a" stroke="#1a1a1a" stroke-width="0.22" text-anchor="start" font-weight="normal">SJYHJ-059</text>
<line x1="43.4" y1="382.6" x2="56.6" y2="382.6" stroke="#b0b0b0" stroke-width="1.1"/>
<ellipse cx="50" cy="382.6" rx="2.85" ry="2.85" fill="#ffffff" stroke="#b0b0b0" stroke-width="1"/>
<text transform="translate(61,386.2) scale(1.0,1.0)" font-size="10.0" fill="#1a1a1a" stroke="#1a1a1a" stroke-width="0.22" text-anchor="start" font-weight="normal">SJYHJ-108</text>
<path d="M57.37,314.82 C66.56,314.82 101.51,313.58 112.47,314.82 C123.44,316.06 119.51,320.11 123.15,322.27 C126.79,324.42 130.59,325.74 134.32,327.73 C138.04,329.71 141.89,331.78 145.49,334.18 C149.08,336.58 152.31,340.05 155.91,342.12 C159.51,344.19 163.44,345.51 167.08,346.59 C170.72,347.67 174.19,348.08 177.75,348.58 C181.31,349.07 184.78,349.49 188.42,349.57 C192.06,349.65 197.73,349.15 199.59,349.07" fill="none" stroke="#b0b0b0" stroke-width="1.25"/>
<path d="M90.88,305.88 V316.06 M88.08,305.88 h5.6 M88.08,316.06 h5.6" stroke="#b0b0b0" stroke-width="0.8" fill="none"/>
<path d="M188.42,347.09 V352.05 M185.62,347.09 h5.6 M185.62,352.05 h5.6" stroke="#b0b0b0" stroke-width="0.8" fill="none"/>
<circle cx="57.37" cy="314.82" r="2.75" fill="#ffffff" stroke="#b0b0b0" stroke-width="1"/>
<circle cx="68.54" cy="314.82" r="2.75" fill="#ffffff" stroke="#b0b0b0" stroke-width="1"/>
<circle cx="79.71" cy="313.58" r="2.75" fill="#ffffff" stroke="#b0b0b0" stroke-width="1"/>
<circle cx="90.88" cy="314.82" r="2.75" fill="#ffffff" stroke="#b0b0b0" stroke-width="1"/>
<circle cx="101.55" cy="314.82" r="2.75" fill="#ffffff" stroke="#b0b0b0" stroke-width="1"/>
<circle cx="112.47" cy="314.82" r="2.75" fill="#ffffff" stroke="#b0b0b0" stroke-width="1"/>
<circle cx="123.15" cy="324.25" r="2.75" fill="#ffffff" stroke="#b0b0b0" stroke-width="1"/>
<circle cx="134.32" cy="327.23" r="2.75" fill="#ffffff" stroke="#b0b0b0" stroke-width="1"/>
<circle cx="145.49" cy="333.44" r="2.75" fill="#ffffff" stroke="#b0b0b0" stroke-width="1"/>
<circle cx="155.91" cy="342.62" r="2.75" fill="#ffffff" stroke="#b0b0b0" stroke-width="1"/>
<circle cx="167.08" cy="346.59" r="2.75" fill="#ffffff" stroke="#b0b0b0" stroke-width="1"/>
<circle cx="177.75" cy="348.33" r="2.75" fill="#ffffff" stroke="#b0b0b0" stroke-width="1"/>
<circle cx="188.42" cy="349.57" r="2.75" fill="#ffffff" stroke="#b0b0b0" stroke-width="1"/>
<circle cx="199.59" cy="349.07" r="2.75" fill="#ffffff" stroke="#b0b0b0" stroke-width="1"/>
<path d="M57.37,314.08 C66.56,314.08 101.51,313.95 112.47,314.08 C123.44,314.2 119.51,313.95 123.15,314.82 C126.79,315.69 130.59,317.22 134.32,319.29 C138.04,321.36 141.89,324.67 145.49,327.23 C149.08,329.79 152.31,331.7 155.91,334.68 C159.51,337.65 163.44,343.11 167.08,345.1 C170.72,347.09 174.19,347.17 177.75,346.59 C181.31,346.01 184.78,343.94 188.42,341.63 C192.06,339.31 197.73,334.18 199.59,332.69" fill="none" stroke="#86852a" stroke-width="1.25"/>
<path d="M68.54,303.65 V314.82 M65.74,303.65 h5.6 M65.74,314.82 h5.6" stroke="#86852a" stroke-width="0.8" fill="none"/>
<path d="M79.71,298.19 V312.34 M76.91,298.19 h5.6 M76.91,312.34 h5.6" stroke="#86852a" stroke-width="0.8" fill="none"/>
<path d="M123.15,307.87 V316.06 M120.35,307.87 h5.6 M120.35,316.06 h5.6" stroke="#86852a" stroke-width="0.8" fill="none"/>
<path d="M167.08,342.12 V348.08 M164.28,342.12 h5.6 M164.28,348.08 h5.6" stroke="#86852a" stroke-width="0.8" fill="none"/>
<path d="M177.75,344.11 V349.07 M174.95,344.11 h5.6 M174.95,349.07 h5.6" stroke="#86852a" stroke-width="0.8" fill="none"/>
<circle cx="57.37" cy="313.58" r="2.75" fill="#efefae" stroke="#86852a" stroke-width="1"/>
<circle cx="68.54" cy="313.58" r="2.75" fill="#efefae" stroke="#86852a" stroke-width="1"/>
<circle cx="79.71" cy="311.1" r="2.75" fill="#efefae" stroke="#86852a" stroke-width="1"/>
<circle cx="90.88" cy="313.58" r="2.75" fill="#efefae" stroke="#86852a" stroke-width="1"/>
<circle cx="101.55" cy="313.58" r="2.75" fill="#efefae" stroke="#86852a" stroke-width="1"/>
<circle cx="112.47" cy="313.58" r="2.75" fill="#efefae" stroke="#86852a" stroke-width="1"/>
<circle cx="123.15" cy="314.82" r="2.75" fill="#efefae" stroke="#86852a" stroke-width="1"/>
<circle cx="134.32" cy="319.29" r="2.75" fill="#efefae" stroke="#86852a" stroke-width="1"/>
<circle cx="145.49" cy="327.23" r="2.75" fill="#efefae" stroke="#86852a" stroke-width="1"/>
<circle cx="155.91" cy="334.68" r="2.75" fill="#efefae" stroke="#86852a" stroke-width="1"/>
<circle cx="167.08" cy="345.1" r="2.75" fill="#efefae" stroke="#86852a" stroke-width="1"/>
<circle cx="177.75" cy="346.59" r="2.75" fill="#efefae" stroke="#86852a" stroke-width="1"/>
<circle cx="188.42" cy="341.63" r="2.75" fill="#efefae" stroke="#86852a" stroke-width="1"/>
<circle cx="199.59" cy="332.19" r="2.75" fill="#efefae" stroke="#86852a" stroke-width="1"/>
<path d="M57.37,314.32 C61.1,314.49 74.13,314.9 79.71,315.32 C85.3,315.73 87.24,316.14 90.88,316.81 C94.52,317.47 97.95,317.96 101.55,319.29 C105.15,320.61 108.88,322.1 112.47,324.75 C116.07,327.4 119.51,331.12 123.15,335.17 C126.79,339.23 130.59,345.02 134.32,349.07 C138.04,353.13 141.89,356.72 145.49,359.5 C149.08,362.27 152.31,364.05 155.91,365.7 C159.51,367.36 163.44,368.56 167.08,369.42 C170.72,370.29 172.33,370.5 177.75,370.91 C183.17,371.33 195.95,371.74 199.59,371.91" fill="none" stroke="#3a49a2" stroke-width="1.25"/>
<path d="M57.37,306.63 V320.53 M54.57,306.63 h5.6 M54.57,320.53 h5.6" stroke="#3a49a2" stroke-width="0.8" fill="none"/>
<path d="M79.71,318.54 V326.73 M76.91,318.54 h5.6 M76.91,326.73 h5.6" stroke="#3a49a2" stroke-width="0.8" fill="none"/>
<path d="M145.49,357.76 V363.72 M142.69,357.76 h5.6 M142.69,363.72 h5.6" stroke="#3a49a2" stroke-width="0.8" fill="none"/>
<path d="M177.75,369.42 V373.4 M174.95,369.42 h5.6 M174.95,373.4 h5.6" stroke="#3a49a2" stroke-width="0.8" fill="none"/>
<circle cx="57.37" cy="313.58" r="2.75" fill="#7a81c4" stroke="#3a49a2" stroke-width="1"/>
<circle cx="68.54" cy="313.58" r="2.75" fill="#7a81c4" stroke="#3a49a2" stroke-width="1"/>
<circle cx="79.71" cy="319.78" r="2.75" fill="#7a81c4" stroke="#3a49a2" stroke-width="1"/>
<circle cx="90.88" cy="317.3" r="2.75" fill="#7a81c4" stroke="#3a49a2" stroke-width="1"/>
<circle cx="101.55" cy="319.29" r="2.75" fill="#7a81c4" stroke="#3a49a2" stroke-width="1"/>
<circle cx="112.47" cy="324.75" r="2.75" fill="#7a81c4" stroke="#3a49a2" stroke-width="1"/>
<circle cx="123.15" cy="335.17" r="2.75" fill="#7a81c4" stroke="#3a49a2" stroke-width="1"/>
<circle cx="134.32" cy="349.07" r="2.75" fill="#7a81c4" stroke="#3a49a2" stroke-width="1"/>
<circle cx="145.49" cy="360.74" r="2.75" fill="#7a81c4" stroke="#3a49a2" stroke-width="1"/>
<circle cx="155.91" cy="365.7" r="2.75" fill="#7a81c4" stroke="#3a49a2" stroke-width="1"/>
<circle cx="167.08" cy="369.92" r="2.75" fill="#7a81c4" stroke="#3a49a2" stroke-width="1"/>
<circle cx="177.75" cy="371.41" r="2.75" fill="#7a81c4" stroke="#3a49a2" stroke-width="1"/>
<circle cx="188.42" cy="371.41" r="2.75" fill="#7a81c4" stroke="#3a49a2" stroke-width="1"/>
<circle cx="199.59" cy="372.4" r="2.75" fill="#7a81c4" stroke="#3a49a2" stroke-width="1"/>
<path d="M57.37,313.58 C70.2,313.58 119.63,313.45 134.32,313.58 C149,313.7 141.89,313.5 145.49,314.32 C149.08,315.15 152.31,316.6 155.91,318.54 C159.51,320.49 163.44,324.33 167.08,325.99 C170.72,327.64 172.33,327.93 177.75,328.47 C183.17,329.01 195.95,329.09 199.59,329.22" fill="none" stroke="#80308f" stroke-width="1.25"/>
<path d="M57.37,304.4 V321.27 M54.57,304.4 h5.6 M54.57,321.27 h5.6" stroke="#80308f" stroke-width="0.8" fill="none"/>
<path d="M68.54,305.88 V319.78 M65.74,305.88 h5.6 M65.74,319.78 h5.6" stroke="#80308f" stroke-width="0.8" fill="none"/>
<path d="M90.88,310.1 V317.05 M88.08,310.1 h5.6 M88.08,317.05 h5.6" stroke="#80308f" stroke-width="0.8" fill="none"/>
<path d="M101.55,307.87 V314.08 M98.75,307.87 h5.6 M98.75,314.08 h5.6" stroke="#80308f" stroke-width="0.8" fill="none"/>
<path d="M123.15,300.18 V313.58 M120.35,300.18 h5.6 M120.35,313.58 h5.6" stroke="#80308f" stroke-width="0.8" fill="none"/>
<path d="M145.49,306.13 V311.1 M142.69,306.13 h5.6 M142.69,311.1 h5.6" stroke="#80308f" stroke-width="0.8" fill="none"/>
<path d="M199.59,326.73 V332.69 M196.79,326.73 h5.6 M196.79,332.69 h5.6" stroke="#80308f" stroke-width="0.8" fill="none"/>
<circle cx="57.37" cy="312.83" r="2.75" fill="#e7cde8" stroke="#80308f" stroke-width="1"/>
<circle cx="68.54" cy="312.83" r="2.75" fill="#e7cde8" stroke="#80308f" stroke-width="1"/>
<circle cx="79.71" cy="311.84" r="2.75" fill="#e7cde8" stroke="#80308f" stroke-width="1"/>
<circle cx="90.88" cy="313.58" r="2.75" fill="#e7cde8" stroke="#80308f" stroke-width="1"/>
<circle cx="101.55" cy="312.83" r="2.75" fill="#e7cde8" stroke="#80308f" stroke-width="1"/>
<circle cx="112.47" cy="313.58" r="2.75" fill="#e7cde8" stroke="#80308f" stroke-width="1"/>
<circle cx="123.15" cy="311.1" r="2.75" fill="#e7cde8" stroke="#80308f" stroke-width="1"/>
<circle cx="134.32" cy="312.34" r="2.75" fill="#e7cde8" stroke="#80308f" stroke-width="1"/>
<circle cx="145.49" cy="308.62" r="2.75" fill="#e7cde8" stroke="#80308f" stroke-width="1"/>
<circle cx="155.91" cy="316.81" r="2.75" fill="#e7cde8" stroke="#80308f" stroke-width="1"/>
<circle cx="167.08" cy="329.22" r="2.75" fill="#e7cde8" stroke="#80308f" stroke-width="1"/>
<circle cx="177.75" cy="327.23" r="2.75" fill="#e7cde8" stroke="#80308f" stroke-width="1"/>
<circle cx="188.42" cy="329.22" r="2.75" fill="#e7cde8" stroke="#80308f" stroke-width="1"/>
<circle cx="199.59" cy="329.71" r="2.75" fill="#e7cde8" stroke="#80308f" stroke-width="1"/>
<path d="M57.37,314.08 C70.2,314.12 117.89,313.99 134.32,314.32 C150.74,314.65 145.03,315.65 155.91,316.06 C166.79,316.47 192.31,316.68 199.59,316.81" fill="none" stroke="#1f9e6e" stroke-width="1.25"/>
<path d="M79.71,302.66 V316.06 M76.91,302.66 h5.6 M76.91,316.06 h5.6" stroke="#1f9e6e" stroke-width="0.8" fill="none"/>
<path d="M101.55,312.34 V319.78 M98.75,312.34 h5.6 M98.75,319.78 h5.6" stroke="#1f9e6e" stroke-width="0.8" fill="none"/>
<path d="M112.47,309.86 V317.3 M109.67,309.86 h5.6 M109.67,317.3 h5.6" stroke="#1f9e6e" stroke-width="0.8" fill="none"/>
<path d="M134.32,305.64 V311.59 M131.52,305.64 h5.6 M131.52,311.59 h5.6" stroke="#1f9e6e" stroke-width="0.8" fill="none"/>
<path d="M145.49,311.1 V316.06 M142.69,311.1 h5.6 M142.69,316.06 h5.6" stroke="#1f9e6e" stroke-width="0.8" fill="none"/>
<path d="M177.75,304.89 V322.27 M174.95,304.89 h5.6 M174.95,322.27 h5.6" stroke="#1f9e6e" stroke-width="0.8" fill="none"/>
<path d="M188.42,318.54 V323.51 M185.62,318.54 h5.6 M185.62,323.51 h5.6" stroke="#1f9e6e" stroke-width="0.8" fill="none"/>
<path d="M199.59,311.35 V317.3 M196.79,311.35 h5.6 M196.79,317.3 h5.6" stroke="#1f9e6e" stroke-width="0.8" fill="none"/>
<circle cx="57.37" cy="314.82" r="2.75" fill="#d3eee4" stroke="#1f9e6e" stroke-width="1"/>
<circle cx="68.54" cy="314.82" r="2.75" fill="#d3eee4" stroke="#1f9e6e" stroke-width="1"/>
<circle cx="79.71" cy="313.58" r="2.75" fill="#d3eee4" stroke="#1f9e6e" stroke-width="1"/>
<circle cx="90.88" cy="314.08" r="2.75" fill="#d3eee4" stroke="#1f9e6e" stroke-width="1"/>
<circle cx="101.55" cy="314.82" r="2.75" fill="#d3eee4" stroke="#1f9e6e" stroke-width="1"/>
<circle cx="112.47" cy="314.82" r="2.75" fill="#d3eee4" stroke="#1f9e6e" stroke-width="1"/>
<circle cx="123.15" cy="313.58" r="2.75" fill="#d3eee4" stroke="#1f9e6e" stroke-width="1"/>
<circle cx="134.32" cy="308.62" r="2.75" fill="#d3eee4" stroke="#1f9e6e" stroke-width="1"/>
<circle cx="145.49" cy="313.58" r="2.75" fill="#d3eee4" stroke="#1f9e6e" stroke-width="1"/>
<circle cx="155.91" cy="319.78" r="2.75" fill="#d3eee4" stroke="#1f9e6e" stroke-width="1"/>
<circle cx="167.08" cy="318.54" r="2.75" fill="#d3eee4" stroke="#1f9e6e" stroke-width="1"/>
<circle cx="177.75" cy="313.58" r="2.75" fill="#d3eee4" stroke="#1f9e6e" stroke-width="1"/>
<circle cx="188.42" cy="321.03" r="2.75" fill="#d3eee4" stroke="#1f9e6e" stroke-width="1"/>
<circle cx="199.59" cy="314.32" r="2.75" fill="#d3eee4" stroke="#1f9e6e" stroke-width="1"/>
<path d="M57.37,314.82 C62.96,314.82 81.7,314.7 90.88,314.82 C100.06,314.94 107.1,315.07 112.47,315.56 C117.85,316.06 119.51,315.44 123.15,317.8 C126.79,320.16 130.59,325.16 134.32,329.71 C138.04,334.26 141.89,340.63 145.49,345.1 C149.08,349.57 152.31,353.7 155.91,356.52 C159.51,359.33 163.44,360.74 167.08,361.98 C170.72,363.22 172.33,363.55 177.75,363.96 C183.17,364.38 195.95,364.38 199.59,364.46" fill="none" stroke="#151515" stroke-width="1.25"/>
<path d="M57.37,309.61 V317.55 M54.57,309.61 h5.6 M54.57,317.55 h5.6" stroke="#151515" stroke-width="0.8" fill="none"/>
<path d="M68.54,316.56 V327.48 M65.74,316.56 h5.6 M65.74,327.48 h5.6" stroke="#151515" stroke-width="0.8" fill="none"/>
<path d="M90.88,308.86 V320.78 M88.08,308.86 h5.6 M88.08,320.78 h5.6" stroke="#151515" stroke-width="0.8" fill="none"/>
<path d="M134.32,328.22 V335.17 M131.52,328.22 h5.6 M131.52,335.17 h5.6" stroke="#151515" stroke-width="0.8" fill="none"/>
<path d="M155.91,354.04 V359.99 M153.11,354.04 h5.6 M153.11,359.99 h5.6" stroke="#151515" stroke-width="0.8" fill="none"/>
<path d="M199.59,360.49 V367.44 M196.79,360.49 h5.6 M196.79,367.44 h5.6" stroke="#151515" stroke-width="0.8" fill="none"/>
<circle cx="57.37" cy="313.58" r="2.75" fill="#cdcdcd" stroke="#151515" stroke-width="1"/>
<circle cx="68.54" cy="319.04" r="2.75" fill="#cdcdcd" stroke="#151515" stroke-width="1"/>
<circle cx="79.71" cy="312.83" r="2.75" fill="#cdcdcd" stroke="#151515" stroke-width="1"/>
<circle cx="90.88" cy="314.82" r="2.75" fill="#cdcdcd" stroke="#151515" stroke-width="1"/>
<circle cx="101.55" cy="316.81" r="2.75" fill="#cdcdcd" stroke="#151515" stroke-width="1"/>
<circle cx="112.47" cy="317.8" r="2.75" fill="#cdcdcd" stroke="#151515" stroke-width="1"/>
<circle cx="123.15" cy="317.3" r="2.75" fill="#cdcdcd" stroke="#151515" stroke-width="1"/>
<circle cx="134.32" cy="331.7" r="2.75" fill="#cdcdcd" stroke="#151515" stroke-width="1"/>
<circle cx="145.49" cy="346.59" r="2.75" fill="#cdcdcd" stroke="#151515" stroke-width="1"/>
<circle cx="155.91" cy="357.01" r="2.75" fill="#cdcdcd" stroke="#151515" stroke-width="1"/>
<circle cx="167.08" cy="361.48" r="2.75" fill="#cdcdcd" stroke="#151515" stroke-width="1"/>
<circle cx="177.75" cy="365.7" r="2.75" fill="#cdcdcd" stroke="#151515" stroke-width="1"/>
<circle cx="188.42" cy="364.96" r="2.75" fill="#cdcdcd" stroke="#151515" stroke-width="1"/>
<circle cx="199.59" cy="363.96" r="2.75" fill="#cdcdcd" stroke="#151515" stroke-width="1"/><path d="M267.7,276.7 V389.4 H449.7" fill="none" stroke="#111111" stroke-width="1.3"/>
<line x1="262.7" y1="389.4" x2="267.7" y2="389.4" stroke="#111111" stroke-width="1.1"/>
<text transform="translate(260.7,392.6) scale(1.0,1)" font-size="9.0" fill="#1a1a1a" stroke="#1a1a1a" stroke-width="0.22" text-anchor="end" font-weight="normal">0</text>
<line x1="262.7" y1="351.83" x2="267.7" y2="351.83" stroke="#111111" stroke-width="1.1"/>
<text transform="translate(260.7,355.03) scale(1.0,1)" font-size="9.0" fill="#1a1a1a" stroke="#1a1a1a" stroke-width="0.22" text-anchor="end" font-weight="normal">50</text>
<line x1="262.7" y1="314.27" x2="267.7" y2="314.27" stroke="#111111" stroke-width="1.1"/>
<text transform="translate(260.7,317.47) scale(1.0,1)" font-size="9.0" fill="#1a1a1a" stroke="#1a1a1a" stroke-width="0.22" text-anchor="end" font-weight="normal">100</text>
<line x1="262.7" y1="276.7" x2="267.7" y2="276.7" stroke="#111111" stroke-width="1.1"/>
<text transform="translate(260.7,279.9) scale(1.0,1)" font-size="9.0" fill="#1a1a1a" stroke="#1a1a1a" stroke-width="0.22" text-anchor="end" font-weight="normal">150</text>
<line x1="267.7" y1="389.4" x2="267.7" y2="394.4" stroke="#111111" stroke-width="1.1"/>
<text transform="translate(267.7,404.1) scale(1.0,1)" font-size="9.0" fill="#1a1a1a" stroke="#1a1a1a" stroke-width="0.22" text-anchor="middle" font-weight="normal">0.000001</text>
<line x1="313.2" y1="389.4" x2="313.2" y2="394.4" stroke="#111111" stroke-width="1.1"/>
<text transform="translate(313.2,404.1) scale(1.0,1)" font-size="9.0" fill="#1a1a1a" stroke="#1a1a1a" stroke-width="0.22" text-anchor="middle" font-weight="normal">0.0001</text>
<line x1="358.7" y1="389.4" x2="358.7" y2="394.4" stroke="#111111" stroke-width="1.1"/>
<text transform="translate(358.7,404.1) scale(1.0,1)" font-size="9.0" fill="#1a1a1a" stroke="#1a1a1a" stroke-width="0.22" text-anchor="middle" font-weight="normal">0.01</text>
<line x1="404.2" y1="389.4" x2="404.2" y2="394.4" stroke="#111111" stroke-width="1.1"/>
<text transform="translate(404.2,404.1) scale(1.0,1)" font-size="9.0" fill="#1a1a1a" stroke="#1a1a1a" stroke-width="0.22" text-anchor="middle" font-weight="normal">1</text>
<line x1="449.7" y1="389.4" x2="449.7" y2="394.4" stroke="#111111" stroke-width="1.1"/>
<text transform="translate(449.7,404.1) scale(1.0,1)" font-size="9.0" fill="#1a1a1a" stroke="#1a1a1a" stroke-width="0.22" text-anchor="middle" font-weight="normal">100</text>
<text transform="translate(358.7,281.8) scale(1.0,1)" font-size="11.8" fill="#1a1a1a" stroke="#1a1a1a" stroke-width="0.22" text-anchor="middle" font-weight="normal">MDM2</text>
<text transform="translate(358.7,416.3) scale(1.0,1)" font-size="10.2" fill="#1a1a1a" stroke="#1a1a1a" stroke-width="0.22" text-anchor="middle" font-weight="normal">[Compound] (μM)</text>
<text transform="translate(240.6,333.5) rotate(-90) scale(1.0,1)" font-size="10.2" fill="#1a1a1a" stroke="#1a1a1a" stroke-width="0.22" text-anchor="middle" font-weight="normal">HiBiT-MDM2 Signal (%)</text>
<path d="M285.39,312.69 L427.11,310.95" fill="none" stroke="#b0b0b0" stroke-width="1.25"/>
<path d="M307.23,296.06 V325.85 M304.43,296.06 h5.6 M304.43,325.85 h5.6" stroke="#b0b0b0" stroke-width="0.8" fill="none"/>
<path d="M340.24,287.87 V326.59 M337.44,287.87 h5.6 M337.44,326.59 h5.6" stroke="#b0b0b0" stroke-width="0.8" fill="none"/>
<path d="M361.83,290.6 V307.97 M359.03,290.6 h5.6 M359.03,307.97 h5.6" stroke="#b0b0b0" stroke-width="0.8" fill="none"/>
<path d="M405.27,293.08 V310.46 M402.47,293.08 h5.6 M402.47,310.46 h5.6" stroke="#b0b0b0" stroke-width="0.8" fill="none"/>
<circle cx="285.39" cy="315.92" r="2.75" fill="#ffffff" stroke="#b0b0b0" stroke-width="1"/>
<circle cx="296.56" cy="314.68" r="2.75" fill="#ffffff" stroke="#b0b0b0" stroke-width="1"/>
<circle cx="307.23" cy="310.95" r="2.75" fill="#ffffff" stroke="#b0b0b0" stroke-width="1"/>
<circle cx="318.4" cy="314.68" r="2.75" fill="#ffffff" stroke="#b0b0b0" stroke-width="1"/>
<circle cx="329.07" cy="314.68" r="2.75" fill="#ffffff" stroke="#b0b0b0" stroke-width="1"/>
<circle cx="340.24" cy="307.23" r="2.75" fill="#ffffff" stroke="#b0b0b0" stroke-width="1"/>
<circle cx="351.16" cy="310.95" r="2.75" fill="#ffffff" stroke="#b0b0b0" stroke-width="1"/>
<circle cx="361.83" cy="299.29" r="2.75" fill="#ffffff" stroke="#b0b0b0" stroke-width="1"/>
<circle cx="372.51" cy="319.64" r="2.75" fill="#ffffff" stroke="#b0b0b0" stroke-width="1"/>
<circle cx="383.43" cy="310.95" r="2.75" fill="#ffffff" stroke="#b0b0b0" stroke-width="1"/>
<circle cx="394.1" cy="312.19" r="2.75" fill="#ffffff" stroke="#b0b0b0" stroke-width="1"/>
<circle cx="405.27" cy="301.77" r="2.75" fill="#ffffff" stroke="#b0b0b0" stroke-width="1"/>
<circle cx="416.44" cy="312.19" r="2.75" fill="#ffffff" stroke="#b0b0b0" stroke-width="1"/>
<circle cx="427.11" cy="313.44" r="2.75" fill="#ffffff" stroke="#b0b0b0" stroke-width="1"/>
<path d="M285.39,314.18 C298.13,314.26 345.49,314.51 361.83,314.68 C378.17,314.84 372.55,314.97 383.43,315.17 C394.31,315.38 419.83,315.79 427.11,315.92" fill="none" stroke="#86852a" stroke-width="1.25"/>
<path d="M296.56,298.54 V330.81 M293.76,298.54 h5.6 M293.76,330.81 h5.6" stroke="#86852a" stroke-width="0.8" fill="none"/>
<path d="M329.07,293.08 V312.94 M326.27,293.08 h5.6 M326.27,312.94 h5.6" stroke="#86852a" stroke-width="0.8" fill="none"/>
<path d="M351.16,301.03 V313.44 M348.36,301.03 h5.6 M348.36,313.44 h5.6" stroke="#86852a" stroke-width="0.8" fill="none"/>
<path d="M372.51,294.08 V321.38 M369.71,294.08 h5.6 M369.71,321.38 h5.6" stroke="#86852a" stroke-width="0.8" fill="none"/>
<path d="M394.1,301.52 V323.86 M391.3,301.52 h5.6 M391.3,323.86 h5.6" stroke="#86852a" stroke-width="0.8" fill="none"/>
<path d="M405.27,306.73 V326.59 M402.47,306.73 h5.6 M402.47,326.59 h5.6" stroke="#86852a" stroke-width="0.8" fill="none"/>
<path d="M416.44,297.8 V327.58 M413.64,297.8 h5.6 M413.64,327.58 h5.6" stroke="#86852a" stroke-width="0.8" fill="none"/>
<path d="M427.11,301.77 V331.55 M424.31,301.77 h5.6 M424.31,331.55 h5.6" stroke="#86852a" stroke-width="0.8" fill="none"/>
<circle cx="285.39" cy="314.68" r="2.75" fill="#efefae" stroke="#86852a" stroke-width="1"/>
<circle cx="296.56" cy="314.68" r="2.75" fill="#efefae" stroke="#86852a" stroke-width="1"/>
<circle cx="307.23" cy="314.68" r="2.75" fill="#efefae" stroke="#86852a" stroke-width="1"/>
<circle cx="318.4" cy="314.68" r="2.75" fill="#efefae" stroke="#86852a" stroke-width="1"/>
<circle cx="329.07" cy="303.01" r="2.75" fill="#efefae" stroke="#86852a" stroke-width="1"/>
<circle cx="340.24" cy="314.68" r="2.75" fill="#efefae" stroke="#86852a" stroke-width="1"/>
<circle cx="351.16" cy="307.23" r="2.75" fill="#efefae" stroke="#86852a" stroke-width="1"/>
<circle cx="361.83" cy="307.73" r="2.75" fill="#efefae" stroke="#86852a" stroke-width="1"/>
<circle cx="372.51" cy="307.73" r="2.75" fill="#efefae" stroke="#86852a" stroke-width="1"/>
<circle cx="383.43" cy="321.38" r="2.75" fill="#efefae" stroke="#86852a" stroke-width="1"/>
<circle cx="394.1" cy="312.69" r="2.75" fill="#efefae" stroke="#86852a" stroke-width="1"/>
<circle cx="405.27" cy="316.66" r="2.75" fill="#efefae" stroke="#86852a" stroke-width="1"/>
<circle cx="416.44" cy="312.69" r="2.75" fill="#efefae" stroke="#86852a" stroke-width="1"/>
<circle cx="427.11" cy="316.66" r="2.75" fill="#efefae" stroke="#86852a" stroke-width="1"/>
<path d="M285.39,322.12 C287.25,322.2 292.92,322.2 296.56,322.62 C300.2,323.03 303.59,323.36 307.23,324.6 C310.87,325.85 314.76,327.38 318.4,330.06 C322.04,332.75 325.43,336.48 329.07,340.74 C332.71,345 336.56,351.08 340.24,355.63 C343.92,360.18 347.56,364.94 351.16,368.04 C354.76,371.14 358.28,372.88 361.83,374.24 C365.39,375.61 368.91,376.23 372.51,376.23 C376.11,376.23 379.83,375.2 383.43,374.24 C387.03,373.29 390.46,372.38 394.1,370.52 C397.74,368.66 401.55,365.56 405.27,363.08 C408.99,360.59 412.8,357.99 416.44,355.63 C420.08,353.27 425.33,350.04 427.11,348.93" fill="none" stroke="#3a49a2" stroke-width="1.25"/>
<path d="M318.4,330.31 V341.23 M315.6,330.31 h5.6 M315.6,341.23 h5.6" stroke="#3a49a2" stroke-width="0.8" fill="none"/>
<path d="M340.24,354.88 V363.82 M337.44,354.88 h5.6 M337.44,363.82 h5.6" stroke="#3a49a2" stroke-width="0.8" fill="none"/>
<circle cx="285.39" cy="322.12" r="2.75" fill="#7a81c4" stroke="#3a49a2" stroke-width="1"/>
<circle cx="296.56" cy="320.88" r="2.75" fill="#7a81c4" stroke="#3a49a2" stroke-width="1"/>
<circle cx="307.23" cy="328.33" r="2.75" fill="#7a81c4" stroke="#3a49a2" stroke-width="1"/>
<circle cx="318.4" cy="335.77" r="2.75" fill="#7a81c4" stroke="#3a49a2" stroke-width="1"/>
<circle cx="329.07" cy="341.98" r="2.75" fill="#7a81c4" stroke="#3a49a2" stroke-width="1"/>
<circle cx="340.24" cy="359.35" r="2.75" fill="#7a81c4" stroke="#3a49a2" stroke-width="1"/>
<circle cx="351.16" cy="371.76" r="2.75" fill="#7a81c4" stroke="#3a49a2" stroke-width="1"/>
<circle cx="361.83" cy="375.49" r="2.75" fill="#7a81c4" stroke="#3a49a2" stroke-width="1"/>
<circle cx="372.51" cy="376.23" r="2.75" fill="#7a81c4" stroke="#3a49a2" stroke-width="1"/>
<circle cx="383.43" cy="373.75" r="2.75" fill="#7a81c4" stroke="#3a49a2" stroke-width="1"/>
<circle cx="394.1" cy="370.52" r="2.75" fill="#7a81c4" stroke="#3a49a2" stroke-width="1"/>
<circle cx="405.27" cy="362.33" r="2.75" fill="#7a81c4" stroke="#3a49a2" stroke-width="1"/>
<circle cx="416.44" cy="351.91" r="2.75" fill="#7a81c4" stroke="#3a49a2" stroke-width="1"/>
<circle cx="427.11" cy="348.93" r="2.75" fill="#7a81c4" stroke="#3a49a2" stroke-width="1"/>
<path d="M285.39,318.4 C296.35,318.44 338.42,318.23 351.16,318.65 C363.9,319.06 358.28,318.65 361.83,320.88 C365.39,323.11 368.91,327.29 372.51,332.05 C376.11,336.81 379.83,345.29 383.43,349.42 C387.03,353.56 390.46,356.87 394.1,356.87 C397.74,356.87 401.55,352.24 405.27,349.42 C408.99,346.61 412.8,342.97 416.44,339.99 C420.08,337.01 425.33,332.96 427.11,331.55" fill="none" stroke="#80308f" stroke-width="1.25"/>
<path d="M285.39,307.97 V325.35 M282.59,307.97 h5.6 M282.59,325.35 h5.6" stroke="#80308f" stroke-width="0.8" fill="none"/>
<path d="M329.07,315.17 V330.06 M326.27,315.17 h5.6 M326.27,330.06 h5.6" stroke="#80308f" stroke-width="0.8" fill="none"/>
<path d="M361.83,318.4 V330.81 M359.03,318.4 h5.6 M359.03,330.81 h5.6" stroke="#80308f" stroke-width="0.8" fill="none"/>
<path d="M416.44,325.6 V339.5 M413.64,325.6 h5.6 M413.64,339.5 h5.6" stroke="#80308f" stroke-width="0.8" fill="none"/>
<circle cx="285.39" cy="316.66" r="2.75" fill="#e7cde8" stroke="#80308f" stroke-width="1"/>
<circle cx="296.56" cy="317.16" r="2.75" fill="#e7cde8" stroke="#80308f" stroke-width="1"/>
<circle cx="307.23" cy="318.4" r="2.75" fill="#e7cde8" stroke="#80308f" stroke-width="1"/>
<circle cx="318.4" cy="318.4" r="2.75" fill="#e7cde8" stroke="#80308f" stroke-width="1"/>
<circle cx="329.07" cy="322.62" r="2.75" fill="#e7cde8" stroke="#80308f" stroke-width="1"/>
<circle cx="340.24" cy="319.14" r="2.75" fill="#e7cde8" stroke="#80308f" stroke-width="1"/>
<circle cx="351.16" cy="319.14" r="2.75" fill="#e7cde8" stroke="#80308f" stroke-width="1"/>
<circle cx="361.83" cy="324.6" r="2.75" fill="#e7cde8" stroke="#80308f" stroke-width="1"/>
<circle cx="372.51" cy="330.06" r="2.75" fill="#e7cde8" stroke="#80308f" stroke-width="1"/>
<circle cx="383.43" cy="350.67" r="2.75" fill="#e7cde8" stroke="#80308f" stroke-width="1"/>
<circle cx="394.1" cy="356.87" r="2.75" fill="#e7cde8" stroke="#80308f" stroke-width="1"/>
<circle cx="405.27" cy="347.44" r="2.75" fill="#e7cde8" stroke="#80308f" stroke-width="1"/>
<circle cx="416.44" cy="332.55" r="2.75" fill="#e7cde8" stroke="#80308f" stroke-width="1"/>
<circle cx="427.11" cy="340.24" r="2.75" fill="#e7cde8" stroke="#80308f" stroke-width="1"/>
<path d="M285.39,320.88 C289.03,320.96 301.73,320.96 307.23,321.38 C312.73,321.79 314.76,321.79 318.4,323.36 C322.04,324.94 325.43,327.71 329.07,330.81 C332.71,333.91 336.56,338.13 340.24,341.98 C343.92,345.83 347.56,350.17 351.16,353.89 C354.76,357.61 358.28,361.54 361.83,364.32 C365.39,367.09 368.91,368.87 372.51,370.52 C376.11,372.18 379.83,373.83 383.43,374.24 C387.03,374.66 390.46,373.62 394.1,373 C397.74,372.38 401.55,371.31 405.27,370.52 C408.99,369.74 412.8,368.78 416.44,368.29 C420.08,367.79 425.33,367.67 427.11,367.54" fill="none" stroke="#1f9e6e" stroke-width="1.25"/>
<path d="M285.39,315.92 V330.81 M282.59,315.92 h5.6 M282.59,330.81 h5.6" stroke="#1f9e6e" stroke-width="0.8" fill="none"/>
<path d="M296.56,307.73 V326.59 M293.76,307.73 h5.6 M293.76,326.59 h5.6" stroke="#1f9e6e" stroke-width="0.8" fill="none"/>
<path d="M318.4,310.21 V320.14 M315.6,310.21 h5.6 M315.6,320.14 h5.6" stroke="#1f9e6e" stroke-width="0.8" fill="none"/>
<path d="M351.16,343.96 V363.82 M348.36,343.96 h5.6 M348.36,363.82 h5.6" stroke="#1f9e6e" stroke-width="0.8" fill="none"/>
<path d="M372.51,363.08 V377.97 M369.71,363.08 h5.6 M369.71,377.97 h5.6" stroke="#1f9e6e" stroke-width="0.8" fill="none"/>
<circle cx="285.39" cy="323.36" r="2.75" fill="#d3eee4" stroke="#1f9e6e" stroke-width="1"/>
<circle cx="296.56" cy="317.16" r="2.75" fill="#d3eee4" stroke="#1f9e6e" stroke-width="1"/>
<circle cx="307.23" cy="324.6" r="2.75" fill="#d3eee4" stroke="#1f9e6e" stroke-width="1"/>
<circle cx="318.4" cy="315.17" r="2.75" fill="#d3eee4" stroke="#1f9e6e" stroke-width="1"/>
<circle cx="329.07" cy="331.55" r="2.75" fill="#d3eee4" stroke="#1f9e6e" stroke-width="1"/>
<circle cx="340.24" cy="343.96" r="2.75" fill="#d3eee4" stroke="#1f9e6e" stroke-width="1"/>
<circle cx="351.16" cy="353.89" r="2.75" fill="#d3eee4" stroke="#1f9e6e" stroke-width="1"/>
<circle cx="361.83" cy="369.28" r="2.75" fill="#d3eee4" stroke="#1f9e6e" stroke-width="1"/>
<circle cx="372.51" cy="370.52" r="2.75" fill="#d3eee4" stroke="#1f9e6e" stroke-width="1"/>
<circle cx="383.43" cy="376.23" r="2.75" fill="#d3eee4" stroke="#1f9e6e" stroke-width="1"/>
<circle cx="394.1" cy="371.76" r="2.75" fill="#d3eee4" stroke="#1f9e6e" stroke-width="1"/>
<circle cx="405.27" cy="370.52" r="2.75" fill="#d3eee4" stroke="#1f9e6e" stroke-width="1"/>
<circle cx="416.44" cy="368.04" r="2.75" fill="#d3eee4" stroke="#1f9e6e" stroke-width="1"/>
<circle cx="427.11" cy="367.54" r="2.75" fill="#d3eee4" stroke="#1f9e6e" stroke-width="1"/>
<path d="M285.39,320.88 C287.25,320.92 292.92,320.92 296.56,321.13 C300.2,321.34 303.59,321.21 307.23,322.12 C310.87,323.03 314.76,324.19 318.4,326.59 C322.04,328.99 325.43,332.63 329.07,336.52 C332.71,340.41 336.56,345.7 340.24,349.92 C343.92,354.14 347.56,358.48 351.16,361.83 C354.76,365.18 358.28,367.96 361.83,370.02 C365.39,372.09 368.91,373.75 372.51,374.24 C376.11,374.74 379.83,373.83 383.43,373 C387.03,372.18 390.46,371.06 394.1,369.28 C397.74,367.5 401.55,364.69 405.27,362.33 C408.99,359.97 412.8,357.37 416.44,355.13 C420.08,352.9 425.33,349.96 427.11,348.93" fill="none" stroke="#151515" stroke-width="1.25"/>
<path d="M285.39,318.4 V327.33 M282.59,318.4 h5.6 M282.59,327.33 h5.6" stroke="#151515" stroke-width="0.8" fill="none"/>
<path d="M296.56,314.18 V324.11 M293.76,314.18 h5.6 M293.76,324.11 h5.6" stroke="#151515" stroke-width="0.8" fill="none"/>
<path d="M307.23,319.14 V326.59 M304.43,319.14 h5.6 M304.43,326.59 h5.6" stroke="#151515" stroke-width="0.8" fill="none"/>
<path d="M427.11,345.7 V358.11 M424.31,345.7 h5.6 M424.31,358.11 h5.6" stroke="#151515" stroke-width="0.8" fill="none"/>
<circle cx="285.39" cy="322.87" r="2.75" fill="#cdcdcd" stroke="#151515" stroke-width="1"/>
<circle cx="296.56" cy="319.14" r="2.75" fill="#cdcdcd" stroke="#151515" stroke-width="1"/>
<circle cx="307.23" cy="322.87" r="2.75" fill="#cdcdcd" stroke="#151515" stroke-width="1"/>
<circle cx="318.4" cy="327.09" r="2.75" fill="#cdcdcd" stroke="#151515" stroke-width="1"/>
<circle cx="329.07" cy="340.24" r="2.75" fill="#cdcdcd" stroke="#151515" stroke-width="1"/>
<circle cx="340.24" cy="354.39" r="2.75" fill="#cdcdcd" stroke="#151515" stroke-width="1"/>
<circle cx="351.16" cy="364.32" r="2.75" fill="#cdcdcd" stroke="#151515" stroke-width="1"/>
<circle cx="361.83" cy="371.27" r="2.75" fill="#cdcdcd" stroke="#151515" stroke-width="1"/>
<circle cx="372.51" cy="375.49" r="2.75" fill="#cdcdcd" stroke="#151515" stroke-width="1"/>
<circle cx="383.43" cy="372.26" r="2.75" fill="#cdcdcd" stroke="#151515" stroke-width="1"/>
<circle cx="394.1" cy="369.28" r="2.75" fill="#cdcdcd" stroke="#151515" stroke-width="1"/>
<circle cx="405.27" cy="359.35" r="2.75" fill="#cdcdcd" stroke="#151515" stroke-width="1"/>
<circle cx="416.44" cy="350.67" r="2.75" fill="#cdcdcd" stroke="#151515" stroke-width="1"/>
<circle cx="427.11" cy="351.91" r="2.75" fill="#cdcdcd" stroke="#151515" stroke-width="1"/><path d="M495.3,276.7 V389.4 H677.3" fill="none" stroke="#111111" stroke-width="1.3"/>
<line x1="490.3" y1="389.4" x2="495.3" y2="389.4" stroke="#111111" stroke-width="1.1"/>
<text transform="translate(488.3,392.6) scale(1.0,1)" font-size="9.0" fill="#1a1a1a" stroke="#1a1a1a" stroke-width="0.22" text-anchor="end" font-weight="normal">0</text>
<line x1="490.3" y1="351.83" x2="495.3" y2="351.83" stroke="#111111" stroke-width="1.1"/>
<text transform="translate(488.3,355.03) scale(1.0,1)" font-size="9.0" fill="#1a1a1a" stroke="#1a1a1a" stroke-width="0.22" text-anchor="end" font-weight="normal">50</text>
<line x1="490.3" y1="314.27" x2="495.3" y2="314.27" stroke="#111111" stroke-width="1.1"/>
<text transform="translate(488.3,317.47) scale(1.0,1)" font-size="9.0" fill="#1a1a1a" stroke="#1a1a1a" stroke-width="0.22" text-anchor="end" font-weight="normal">100</text>
<line x1="490.3" y1="276.7" x2="495.3" y2="276.7" stroke="#111111" stroke-width="1.1"/>
<text transform="translate(488.3,279.9) scale(1.0,1)" font-size="9.0" fill="#1a1a1a" stroke="#1a1a1a" stroke-width="0.22" text-anchor="end" font-weight="normal">150</text>
<line x1="495.3" y1="389.4" x2="495.3" y2="394.4" stroke="#111111" stroke-width="1.1"/>
<text transform="translate(495.3,404.1) scale(1.0,1)" font-size="9.0" fill="#1a1a1a" stroke="#1a1a1a" stroke-width="0.22" text-anchor="middle" font-weight="normal">0.000001</text>
<line x1="540.8" y1="389.4" x2="540.8" y2="394.4" stroke="#111111" stroke-width="1.1"/>
<text transform="translate(540.8,404.1) scale(1.0,1)" font-size="9.0" fill="#1a1a1a" stroke="#1a1a1a" stroke-width="0.22" text-anchor="middle" font-weight="normal">0.0001</text>
<line x1="586.3" y1="389.4" x2="586.3" y2="394.4" stroke="#111111" stroke-width="1.1"/>
<text transform="translate(586.3,404.1) scale(1.0,1)" font-size="9.0" fill="#1a1a1a" stroke="#1a1a1a" stroke-width="0.22" text-anchor="middle" font-weight="normal">0.01</text>
<line x1="631.8" y1="389.4" x2="631.8" y2="394.4" stroke="#111111" stroke-width="1.1"/>
<text transform="translate(631.8,404.1) scale(1.0,1)" font-size="9.0" fill="#1a1a1a" stroke="#1a1a1a" stroke-width="0.22" text-anchor="middle" font-weight="normal">1</text>
<line x1="677.3" y1="389.4" x2="677.3" y2="394.4" stroke="#111111" stroke-width="1.1"/>
<text transform="translate(677.3,404.1) scale(1.0,1)" font-size="9.0" fill="#1a1a1a" stroke="#1a1a1a" stroke-width="0.22" text-anchor="middle" font-weight="normal">100</text>
<text transform="translate(586.3,281.8) scale(1.0,1)" font-size="11.8" fill="#1a1a1a" stroke="#1a1a1a" stroke-width="0.22" text-anchor="middle" font-weight="normal">GSPT1</text>
<text transform="translate(586.3,416.3) scale(1.0,1)" font-size="10.2" fill="#1a1a1a" stroke="#1a1a1a" stroke-width="0.22" text-anchor="middle" font-weight="normal">[Compound] (μM)</text>
<text transform="translate(468.2,333.5) rotate(-90) scale(1.0,1)" font-size="10.2" fill="#1a1a1a" stroke="#1a1a1a" stroke-width="0.22" text-anchor="middle" font-weight="normal">HiBiT-GSPT1 Signal (%)</text>
<path d="M513.65,314.68 L655.13,314.68" fill="none" stroke="#b0b0b0" stroke-width="1.25"/>
<path d="M513.65,307.73 V317.65 M510.85,307.73 h5.6 M510.85,317.65 h5.6" stroke="#b0b0b0" stroke-width="0.8" fill="none"/>
<path d="M600.52,308.47 V320.88 M597.72,308.47 h5.6 M597.72,320.88 h5.6" stroke="#b0b0b0" stroke-width="0.8" fill="none"/>
<path d="M633.28,309.71 V319.64 M630.48,309.71 h5.6 M630.48,319.64 h5.6" stroke="#b0b0b0" stroke-width="0.8" fill="none"/>
<path d="M655.13,309.71 V319.64 M652.33,309.71 h5.6 M652.33,319.64 h5.6" stroke="#b0b0b0" stroke-width="0.8" fill="none"/>
<circle cx="513.65" cy="312.69" r="2.75" fill="#ffffff" stroke="#b0b0b0" stroke-width="1"/>
<circle cx="524.32" cy="314.68" r="2.75" fill="#ffffff" stroke="#b0b0b0" stroke-width="1"/>
<circle cx="535.24" cy="315.92" r="2.75" fill="#ffffff" stroke="#b0b0b0" stroke-width="1"/>
<circle cx="545.92" cy="314.18" r="2.75" fill="#ffffff" stroke="#b0b0b0" stroke-width="1"/>
<circle cx="557.09" cy="314.18" r="2.75" fill="#ffffff" stroke="#b0b0b0" stroke-width="1"/>
<circle cx="567.76" cy="314.68" r="2.75" fill="#ffffff" stroke="#b0b0b0" stroke-width="1"/>
<circle cx="578.68" cy="314.68" r="2.75" fill="#ffffff" stroke="#b0b0b0" stroke-width="1"/>
<circle cx="589.35" cy="314.68" r="2.75" fill="#ffffff" stroke="#b0b0b0" stroke-width="1"/>
<circle cx="600.52" cy="314.68" r="2.75" fill="#ffffff" stroke="#b0b0b0" stroke-width="1"/>
<circle cx="611.69" cy="315.92" r="2.75" fill="#ffffff" stroke="#b0b0b0" stroke-width="1"/>
<circle cx="622.36" cy="314.18" r="2.75" fill="#ffffff" stroke="#b0b0b0" stroke-width="1"/>
<circle cx="633.28" cy="314.68" r="2.75" fill="#ffffff" stroke="#b0b0b0" stroke-width="1"/>
<circle cx="643.96" cy="314.18" r="2.75" fill="#ffffff" stroke="#b0b0b0" stroke-width="1"/>
<circle cx="655.13" cy="314.68" r="2.75" fill="#ffffff" stroke="#b0b0b0" stroke-width="1"/>
<path d="M513.65,316.66 C524.49,316.74 566.06,316.74 578.68,317.16 C591.3,317.57 585.71,317.9 589.35,319.14 C592.99,320.38 596.8,322.87 600.52,324.6 C604.24,326.34 608.05,328.12 611.69,329.57 C615.33,331.02 618.76,332.46 622.36,333.29 C625.96,334.12 627.82,334.16 633.28,334.53 C638.74,334.9 651.49,335.36 655.13,335.52" fill="none" stroke="#86852a" stroke-width="1.25"/>
<path d="M600.52,320.88 V328.33 M597.72,320.88 h5.6 M597.72,328.33 h5.6" stroke="#86852a" stroke-width="0.8" fill="none"/>
<path d="M622.36,330.81 V335.77 M619.56,330.81 h5.6 M619.56,335.77 h5.6" stroke="#86852a" stroke-width="0.8" fill="none"/>
<circle cx="513.65" cy="315.92" r="2.75" fill="#efefae" stroke="#86852a" stroke-width="1"/>
<circle cx="524.32" cy="317.16" r="2.75" fill="#efefae" stroke="#86852a" stroke-width="1"/>
<circle cx="535.24" cy="317.16" r="2.75" fill="#efefae" stroke="#86852a" stroke-width="1"/>
<circle cx="545.92" cy="318.4" r="2.75" fill="#efefae" stroke="#86852a" stroke-width="1"/>
<circle cx="557.09" cy="317.16" r="2.75" fill="#efefae" stroke="#86852a" stroke-width="1"/>
<circle cx="567.76" cy="317.16" r="2.75" fill="#efefae" stroke="#86852a" stroke-width="1"/>
<circle cx="578.68" cy="318.4" r="2.75" fill="#efefae" stroke="#86852a" stroke-width="1"/>
<circle cx="589.35" cy="319.14" r="2.75" fill="#efefae" stroke="#86852a" stroke-width="1"/>
<circle cx="600.52" cy="324.6" r="2.75" fill="#efefae" stroke="#86852a" stroke-width="1"/>
<circle cx="611.69" cy="329.57" r="2.75" fill="#efefae" stroke="#86852a" stroke-width="1"/>
<circle cx="622.36" cy="333.29" r="2.75" fill="#efefae" stroke="#86852a" stroke-width="1"/>
<circle cx="633.28" cy="334.53" r="2.75" fill="#efefae" stroke="#86852a" stroke-width="1"/>
<circle cx="643.96" cy="335.03" r="2.75" fill="#efefae" stroke="#86852a" stroke-width="1"/>
<circle cx="655.13" cy="335.77" r="2.75" fill="#efefae" stroke="#86852a" stroke-width="1"/>
<path d="M513.65,314.68 L655.13,315.92" fill="none" stroke="#3a49a2" stroke-width="1.25"/>
<path d="M513.65,306.73 V317.65 M510.85,306.73 h5.6 M510.85,317.65 h5.6" stroke="#3a49a2" stroke-width="0.8" fill="none"/>
<path d="M557.09,304.75 V317.16 M554.29,304.75 h5.6 M554.29,317.16 h5.6" stroke="#3a49a2" stroke-width="0.8" fill="none"/>
<path d="M589.35,304.25 V314.18 M586.55,304.25 h5.6 M586.55,314.18 h5.6" stroke="#3a49a2" stroke-width="0.8" fill="none"/>
<path d="M643.96,310.95 V320.88 M641.16,310.95 h5.6 M641.16,320.88 h5.6" stroke="#3a49a2" stroke-width="0.8" fill="none"/>
<circle cx="513.65" cy="312.19" r="2.75" fill="#7a81c4" stroke="#3a49a2" stroke-width="1"/>
<circle cx="524.32" cy="310.95" r="2.75" fill="#7a81c4" stroke="#3a49a2" stroke-width="1"/>
<circle cx="535.24" cy="315.17" r="2.75" fill="#7a81c4" stroke="#3a49a2" stroke-width="1"/>
<circle cx="545.92" cy="312.19" r="2.75" fill="#7a81c4" stroke="#3a49a2" stroke-width="1"/>
<circle cx="557.09" cy="310.95" r="2.75" fill="#7a81c4" stroke="#3a49a2" stroke-width="1"/>
<circle cx="567.76" cy="314.18" r="2.75" fill="#7a81c4" stroke="#3a49a2" stroke-width="1"/>
<circle cx="578.68" cy="310.95" r="2.75" fill="#7a81c4" stroke="#3a49a2" stroke-width="1"/>
<circle cx="589.35" cy="309.22" r="2.75" fill="#7a81c4" stroke="#3a49a2" stroke-width="1"/>
<circle cx="600.52" cy="314.18" r="2.75" fill="#7a81c4" stroke="#3a49a2" stroke-width="1"/>
<circle cx="611.69" cy="315.92" r="2.75" fill="#7a81c4" stroke="#3a49a2" stroke-width="1"/>
<circle cx="622.36" cy="315.92" r="2.75" fill="#7a81c4" stroke="#3a49a2" stroke-width="1"/>
<circle cx="633.28" cy="316.66" r="2.75" fill="#7a81c4" stroke="#3a49a2" stroke-width="1"/>
<circle cx="643.96" cy="315.92" r="2.75" fill="#7a81c4" stroke="#3a49a2" stroke-width="1"/>
<circle cx="655.13" cy="315.92" r="2.75" fill="#7a81c4" stroke="#3a49a2" stroke-width="1"/>
<path d="M513.65,318.65 C519.03,318.65 538.68,318.56 545.92,318.65 C553.16,318.73 553.45,318.73 557.09,319.14 C560.73,319.56 564.16,319.89 567.76,321.13 C571.36,322.37 575.08,324.02 578.68,326.59 C582.28,329.15 585.71,332.51 589.35,336.52 C592.99,340.53 596.8,345.7 600.52,350.67 C604.24,355.63 608.05,361.88 611.69,366.3 C615.33,370.73 618.76,374.58 622.36,377.22 C625.96,379.87 629.68,381.11 633.28,382.19 C636.88,383.26 640.32,383.34 643.96,383.68 C647.6,384.01 653.26,384.09 655.13,384.17" fill="none" stroke="#80308f" stroke-width="1.25"/>
<path d="M524.32,313.44 V323.36 M521.52,313.44 h5.6 M521.52,323.36 h5.6" stroke="#80308f" stroke-width="0.8" fill="none"/>
<path d="M545.92,311.45 V325.35 M543.12,311.45 h5.6 M543.12,325.35 h5.6" stroke="#80308f" stroke-width="0.8" fill="none"/>
<circle cx="513.65" cy="319.14" r="2.75" fill="#e7cde8" stroke="#80308f" stroke-width="1"/>
<circle cx="524.32" cy="318.4" r="2.75" fill="#e7cde8" stroke="#80308f" stroke-width="1"/>
<circle cx="535.24" cy="315.17" r="2.75" fill="#e7cde8" stroke="#80308f" stroke-width="1"/>
<circle cx="545.92" cy="318.4" r="2.75" fill="#e7cde8" stroke="#80308f" stroke-width="1"/>
<circle cx="557.09" cy="319.14" r="2.75" fill="#e7cde8" stroke="#80308f" stroke-width="1"/>
<circle cx="567.76" cy="321.63" r="2.75" fill="#e7cde8" stroke="#80308f" stroke-width="1"/>
<circle cx="578.68" cy="327.58" r="2.75" fill="#e7cde8" stroke="#80308f" stroke-width="1"/>
<circle cx="589.35" cy="336.52" r="2.75" fill="#e7cde8" stroke="#80308f" stroke-width="1"/>
<circle cx="600.52" cy="351.41" r="2.75" fill="#e7cde8" stroke="#80308f" stroke-width="1"/>
<circle cx="611.69" cy="366.3" r="2.75" fill="#e7cde8" stroke="#80308f" stroke-width="1"/>
<circle cx="622.36" cy="378.71" r="2.75" fill="#e7cde8" stroke="#80308f" stroke-width="1"/>
<circle cx="633.28" cy="382.93" r="2.75" fill="#e7cde8" stroke="#80308f" stroke-width="1"/>
<circle cx="643.96" cy="384.17" r="2.75" fill="#e7cde8" stroke="#80308f" stroke-width="1"/>
<circle cx="655.13" cy="384.17" r="2.75" fill="#e7cde8" stroke="#80308f" stroke-width="1"/>
<path d="M513.65,314.68 L655.13,314.18" fill="none" stroke="#1f9e6e" stroke-width="1.25"/>
<path d="M535.24,303.51 V315.92 M532.44,303.51 h5.6 M532.44,315.92 h5.6" stroke="#1f9e6e" stroke-width="0.8" fill="none"/>
<path d="M633.28,310.21 V320.14 M630.48,310.21 h5.6 M630.48,320.14 h5.6" stroke="#1f9e6e" stroke-width="0.8" fill="none"/>
<path d="M643.96,305.49 V316.41 M641.16,305.49 h5.6 M641.16,316.41 h5.6" stroke="#1f9e6e" stroke-width="0.8" fill="none"/>
<circle cx="513.65" cy="314.68" r="2.75" fill="#d3eee4" stroke="#1f9e6e" stroke-width="1"/>
<circle cx="524.32" cy="314.68" r="2.75" fill="#d3eee4" stroke="#1f9e6e" stroke-width="1"/>
<circle cx="535.24" cy="309.71" r="2.75" fill="#d3eee4" stroke="#1f9e6e" stroke-width="1"/>
<circle cx="545.92" cy="317.16" r="2.75" fill="#d3eee4" stroke="#1f9e6e" stroke-width="1"/>
<circle cx="557.09" cy="314.68" r="2.75" fill="#d3eee4" stroke="#1f9e6e" stroke-width="1"/>
<circle cx="567.76" cy="312.19" r="2.75" fill="#d3eee4" stroke="#1f9e6e" stroke-width="1"/>
<circle cx="578.68" cy="317.16" r="2.75" fill="#d3eee4" stroke="#1f9e6e" stroke-width="1"/>
<circle cx="589.35" cy="312.19" r="2.75" fill="#d3eee4" stroke="#1f9e6e" stroke-width="1"/>
<circle cx="600.52" cy="310.95" r="2.75" fill="#d3eee4" stroke="#1f9e6e" stroke-width="1"/>
<circle cx="611.69" cy="313.44" r="2.75" fill="#d3eee4" stroke="#1f9e6e" stroke-width="1"/>
<circle cx="622.36" cy="313.44" r="2.75" fill="#d3eee4" stroke="#1f9e6e" stroke-width="1"/>
<circle cx="633.28" cy="315.17" r="2.75" fill="#d3eee4" stroke="#1f9e6e" stroke-width="1"/>
<circle cx="643.96" cy="310.95" r="2.75" fill="#d3eee4" stroke="#1f9e6e" stroke-width="1"/>
<circle cx="655.13" cy="314.18" r="2.75" fill="#d3eee4" stroke="#1f9e6e" stroke-width="1"/>
<path d="M513.65,314.18 C526.27,314.18 574.87,313.89 589.35,314.18 C603.83,314.47 596.8,314.8 600.52,315.92 C604.24,317.03 608.05,319.64 611.69,320.88 C615.33,322.12 618.76,322.83 622.36,323.36 C625.96,323.9 627.82,323.94 633.28,324.11 C638.74,324.27 651.49,324.31 655.13,324.36" fill="none" stroke="#151515" stroke-width="1.25"/>
<path d="M524.32,308.97 V317.9 M521.52,308.97 h5.6 M521.52,317.9 h5.6" stroke="#151515" stroke-width="0.8" fill="none"/>
<path d="M545.92,306.73 V316.66 M543.12,306.73 h5.6 M543.12,316.66 h5.6" stroke="#151515" stroke-width="0.8" fill="none"/>
<path d="M600.52,309.71 V320.63 M597.72,309.71 h5.6 M597.72,320.63 h5.6" stroke="#151515" stroke-width="0.8" fill="none"/>
<path d="M643.96,319.14 V329.07 M641.16,319.14 h5.6 M641.16,329.07 h5.6" stroke="#151515" stroke-width="0.8" fill="none"/>
<circle cx="513.65" cy="313.44" r="2.75" fill="#cdcdcd" stroke="#151515" stroke-width="1"/>
<circle cx="524.32" cy="313.44" r="2.75" fill="#cdcdcd" stroke="#151515" stroke-width="1"/>
<circle cx="535.24" cy="315.17" r="2.75" fill="#cdcdcd" stroke="#151515" stroke-width="1"/>
<circle cx="545.92" cy="311.7" r="2.75" fill="#cdcdcd" stroke="#151515" stroke-width="1"/>
<circle cx="557.09" cy="313.44" r="2.75" fill="#cdcdcd" stroke="#151515" stroke-width="1"/>
<circle cx="567.76" cy="313.44" r="2.75" fill="#cdcdcd" stroke="#151515" stroke-width="1"/>
<circle cx="578.68" cy="314.18" r="2.75" fill="#cdcdcd" stroke="#151515" stroke-width="1"/>
<circle cx="589.35" cy="313.44" r="2.75" fill="#cdcdcd" stroke="#151515" stroke-width="1"/>
<circle cx="600.52" cy="315.17" r="2.75" fill="#cdcdcd" stroke="#151515" stroke-width="1"/>
<circle cx="611.69" cy="320.88" r="2.75" fill="#cdcdcd" stroke="#151515" stroke-width="1"/>
<circle cx="622.36" cy="324.11" r="2.75" fill="#cdcdcd" stroke="#151515" stroke-width="1"/>
<circle cx="633.28" cy="322.62" r="2.75" fill="#cdcdcd" stroke="#151515" stroke-width="1"/>
<circle cx="643.96" cy="324.11" r="2.75" fill="#cdcdcd" stroke="#151515" stroke-width="1"/>
<circle cx="655.13" cy="324.6" r="2.75" fill="#cdcdcd" stroke="#151515" stroke-width="1"/><path d="M40,440 V553 H222.2" fill="none" stroke="#111111" stroke-width="1.3"/>
<line x1="35" y1="553" x2="40" y2="553" stroke="#111111" stroke-width="1.1"/>
<text transform="translate(33,556.2) scale(1.0,1)" font-size="9.0" fill="#1a1a1a" stroke="#1a1a1a" stroke-width="0.22" text-anchor="end" font-weight="normal">0.0</text>
<line x1="35" y1="534.17" x2="40" y2="534.17" stroke="#111111" stroke-width="1.1"/>
<text transform="translate(33,537.37) scale(1.0,1)" font-size="9.0" fill="#1a1a1a" stroke="#1a1a1a" stroke-width="0.22" text-anchor="end" font-weight="normal">0.2</text>
<line x1="35" y1="515.33" x2="40" y2="515.33" stroke="#111111" stroke-width="1.1"/>
<text transform="translate(33,518.53) scale(1.0,1)" font-size="9.0" fill="#1a1a1a" stroke="#1a1a1a" stroke-width="0.22" text-anchor="end" font-weight="normal">0.4</text>
<line x1="35" y1="496.5" x2="40" y2="496.5" stroke="#111111" stroke-width="1.1"/>
<text transform="translate(33,499.7) scale(1.0,1)" font-size="9.0" fill="#1a1a1a" stroke="#1a1a1a" stroke-width="0.22" text-anchor="end" font-weight="normal">0.6</text>
<line x1="35" y1="477.67" x2="40" y2="477.67" stroke="#111111" stroke-width="1.1"/>
<text transform="translate(33,480.87) scale(1.0,1)" font-size="9.0" fill="#1a1a1a" stroke="#1a1a1a" stroke-width="0.22" text-anchor="end" font-weight="normal">0.8</text>
<line x1="35" y1="458.83" x2="40" y2="458.83" stroke="#111111" stroke-width="1.1"/>
<text transform="translate(33,462.03) scale(1.0,1)" font-size="9.0" fill="#1a1a1a" stroke="#1a1a1a" stroke-width="0.22" text-anchor="end" font-weight="normal">1.0</text>
<line x1="35" y1="440" x2="40" y2="440" stroke="#111111" stroke-width="1.1"/>
<text transform="translate(33,443.2) scale(1.0,1)" font-size="9.0" fill="#1a1a1a" stroke="#1a1a1a" stroke-width="0.22" text-anchor="end" font-weight="normal">1.2</text>
<line x1="40" y1="553" x2="40" y2="558" stroke="#111111" stroke-width="1.1"/>
<text transform="translate(40,567.7) scale(1.0,1)" font-size="9.0" fill="#1a1a1a" stroke="#1a1a1a" stroke-width="0.22" text-anchor="middle" font-weight="normal">0.000001</text>
<line x1="85.55" y1="553" x2="85.55" y2="558" stroke="#111111" stroke-width="1.1"/>
<text transform="translate(85.55,567.7) scale(1.0,1)" font-size="9.0" fill="#1a1a1a" stroke="#1a1a1a" stroke-width="0.22" text-anchor="middle" font-weight="normal">0.0001</text>
<line x1="131.1" y1="553" x2="131.1" y2="558" stroke="#111111" stroke-width="1.1"/>
<text transform="translate(131.1,567.7) scale(1.0,1)" font-size="9.0" fill="#1a1a1a" stroke="#1a1a1a" stroke-width="0.22" text-anchor="middle" font-weight="normal">0.01</text>
<line x1="176.65" y1="553" x2="176.65" y2="558" stroke="#111111" stroke-width="1.1"/>
<text transform="translate(176.65,567.7) scale(1.0,1)" font-size="9.0" fill="#1a1a1a" stroke="#1a1a1a" stroke-width="0.22" text-anchor="middle" font-weight="normal">1</text>
<line x1="222.2" y1="553" x2="222.2" y2="558" stroke="#111111" stroke-width="1.1"/>
<text transform="translate(222.2,567.7) scale(1.0,1)" font-size="9.0" fill="#1a1a1a" stroke="#1a1a1a" stroke-width="0.22" text-anchor="middle" font-weight="normal">100</text>
<text transform="translate(131.1,445.5) scale(1.0,1)" font-size="11.8" fill="#1a1a1a" stroke="#1a1a1a" stroke-width="0.22" text-anchor="middle" font-weight="normal">CRBN Binding</text>
<text transform="translate(131.1,579.9) scale(1.0,1)" font-size="10.2" fill="#1a1a1a" stroke="#1a1a1a" stroke-width="0.22" text-anchor="middle" font-weight="normal">[Compound] (μM)</text>
<text transform="translate(14.3,495.9) rotate(-90) scale(1.0,1)" font-size="10.2" fill="#1a1a1a" stroke="#1a1a1a" stroke-width="0.22" text-anchor="middle" font-weight="normal">TR-FRET Signal (FC)</text>
<line x1="44.4" y1="495.4" x2="57.6" y2="495.4" stroke="#151515" stroke-width="1.1"/>
<ellipse cx="51" cy="495.4" rx="2.85" ry="2.85" fill="#cdcdcd" stroke="#151515" stroke-width="1"/>
<text transform="translate(61.6,499) scale(1.0,1.0)" font-size="10.0" fill="#1a1a1a" stroke="#1a1a1a" stroke-width="0.22" text-anchor="start" font-weight="normal">MD-224</text>
<line x1="44.4" y1="505.52" x2="57.6" y2="505.52" stroke="#1f9e6e" stroke-width="1.1"/>
<ellipse cx="51" cy="505.52" rx="2.85" ry="2.85" fill="#d3eee4" stroke="#1f9e6e" stroke-width="1"/>
<text transform="translate(61.6,509.12) scale(1.0,1.0)" font-size="10.0" fill="#1a1a1a" stroke="#1a1a1a" stroke-width="0.22" text-anchor="start" font-weight="normal">MD-222</text>
<line x1="44.4" y1="515.64" x2="57.6" y2="515.64" stroke="#80308f" stroke-width="1.1"/>
<ellipse cx="51" cy="515.64" rx="2.85" ry="2.85" fill="#e7cde8" stroke="#80308f" stroke-width="1"/>
<text transform="translate(61.6,519.24) scale(1.0,1.0)" font-size="10.0" fill="#1a1a1a" stroke="#1a1a1a" stroke-width="0.22" text-anchor="start" font-weight="normal">MG-277</text>
<line x1="44.4" y1="525.76" x2="57.6" y2="525.76" stroke="#3a49a2" stroke-width="1.1"/>
<ellipse cx="51" cy="525.76" rx="2.85" ry="2.85" fill="#7a81c4" stroke="#3a49a2" stroke-width="1"/>
<text transform="translate(61.6,529.36) scale(1.0,1.0)" font-size="10.0" fill="#1a1a1a" stroke="#1a1a1a" stroke-width="0.22" text-anchor="start" font-weight="normal">SJYHJ-048</text>
<line x1="44.4" y1="535.88" x2="57.6" y2="535.88" stroke="#86852a" stroke-width="1.1"/>
<ellipse cx="51" cy="535.88" rx="2.85" ry="2.85" fill="#efefae" stroke="#86852a" stroke-width="1"/>
<text transform="translate(61.6,539.48) scale(1.0,1.0)" font-size="10.0" fill="#1a1a1a" stroke="#1a1a1a" stroke-width="0.22" text-anchor="start" font-weight="normal">SJYHJ-059</text>
<line x1="44.4" y1="546" x2="57.6" y2="546" stroke="#b0b0b0" stroke-width="1.1"/>
<ellipse cx="51" cy="546" rx="2.85" ry="2.85" fill="#ffffff" stroke="#b0b0b0" stroke-width="1"/>
<text transform="translate(61.6,549.6) scale(1.0,1.0)" font-size="10.0" fill="#1a1a1a" stroke="#1a1a1a" stroke-width="0.22" text-anchor="start" font-weight="normal">SJYHJ-108</text>
<path d="M67.52,458.33 C68.03,458.34 69.58,458.39 70.6,458.42 C71.63,458.46 72.66,458.51 73.69,458.56 C74.72,458.62 75.74,458.68 76.77,458.75 C77.8,458.83 78.83,458.91 79.86,459.02 C80.89,459.13 81.91,459.25 82.94,459.4 C83.97,459.55 85,459.72 86.03,459.93 C87.06,460.13 88.08,460.37 89.11,460.66 C90.14,460.95 91.17,461.27 92.2,461.67 C93.22,462.06 94.25,462.51 95.28,463.05 C96.31,463.59 97.34,464.19 98.37,464.92 C99.39,465.65 100.42,466.45 101.45,467.41 C102.48,468.37 103.51,469.43 104.53,470.67 C105.56,471.9 106.59,473.27 107.62,474.8 C108.65,476.34 109.68,478.04 110.7,479.88 C111.73,481.73 112.76,483.75 113.79,485.87 C114.82,487.99 115.84,490.28 116.87,492.59 C117.9,494.9 118.93,497.34 119.96,499.72 C120.99,502.11 122.01,504.56 123.04,506.88 C124.07,509.2 125.1,511.51 126.13,513.64 C127.15,515.78 128.18,517.83 129.21,519.7 C130.24,521.57 131.27,523.29 132.3,524.86 C133.32,526.42 134.35,527.81 135.38,529.07 C136.41,530.32 137.44,531.41 138.46,532.39 C139.49,533.37 140.52,534.2 141.55,534.94 C142.58,535.69 143.61,536.3 144.63,536.86 C145.66,537.41 146.69,537.87 147.72,538.27 C148.75,538.68 149.77,539.01 150.8,539.31 C151.83,539.61 152.86,539.85 153.89,540.06 C154.92,540.28 155.94,540.45 156.97,540.6 C158,540.76 159.03,540.88 160.06,540.99 C161.09,541.1 162.11,541.19 163.14,541.26 C164.17,541.34 165.2,541.41 166.23,541.46 C167.25,541.52 168.28,541.56 169.31,541.6 C170.34,541.64 171.37,541.67 172.4,541.7 C173.42,541.73 174.45,541.75 175.48,541.77 C176.51,541.79 177.54,541.81 178.56,541.82 C179.59,541.84 180.62,541.85 181.65,541.86 C182.68,541.87 183.71,541.88 184.73,541.88 C185.76,541.89 187.3,541.9 187.82,541.9" fill="none" stroke="#b0b0b0" stroke-width="1.25"/>
<circle cx="67.52" cy="457.85" r="2.75" fill="#ffffff" stroke="#b0b0b0" stroke-width="1"/>
<circle cx="78.5" cy="459.72" r="2.75" fill="#ffffff" stroke="#b0b0b0" stroke-width="1"/>
<circle cx="89.24" cy="460.42" r="2.75" fill="#ffffff" stroke="#b0b0b0" stroke-width="1"/>
<circle cx="100.22" cy="466.02" r="2.75" fill="#ffffff" stroke="#b0b0b0" stroke-width="1"/>
<circle cx="111.2" cy="481.21" r="2.75" fill="#ffffff" stroke="#b0b0b0" stroke-width="1"/>
<circle cx="122.41" cy="505.27" r="2.75" fill="#ffffff" stroke="#b0b0b0" stroke-width="1"/>
<circle cx="132.92" cy="525.59" r="2.75" fill="#ffffff" stroke="#b0b0b0" stroke-width="1"/>
<circle cx="143.9" cy="536.57" r="2.75" fill="#ffffff" stroke="#b0b0b0" stroke-width="1"/>
<circle cx="154.65" cy="540.77" r="2.75" fill="#ffffff" stroke="#b0b0b0" stroke-width="1"/>
<circle cx="165.63" cy="541.94" r="2.75" fill="#ffffff" stroke="#b0b0b0" stroke-width="1"/>
<circle cx="176.61" cy="541.94" r="2.75" fill="#ffffff" stroke="#b0b0b0" stroke-width="1"/>
<circle cx="187.82" cy="540.77" r="2.75" fill="#ffffff" stroke="#b0b0b0" stroke-width="1"/>
<path d="M67.52,457.8 C68.03,457.81 69.58,457.81 70.6,457.81 C71.63,457.82 72.66,457.82 73.69,457.83 C74.72,457.84 75.74,457.84 76.77,457.85 C77.8,457.86 78.83,457.87 79.86,457.88 C80.89,457.89 81.91,457.9 82.94,457.92 C83.97,457.94 85,457.96 86.03,457.98 C87.06,458.01 88.08,458.03 89.11,458.07 C90.14,458.1 91.17,458.14 92.2,458.19 C93.22,458.23 94.25,458.29 95.28,458.35 C96.31,458.42 97.34,458.5 98.37,458.59 C99.39,458.69 100.42,458.79 101.45,458.93 C102.48,459.06 103.51,459.21 104.53,459.4 C105.56,459.59 106.59,459.8 107.62,460.07 C108.65,460.33 109.68,460.62 110.7,460.99 C111.73,461.35 112.76,461.76 113.79,462.26 C114.82,462.76 115.84,463.32 116.87,464 C117.9,464.68 118.93,465.44 119.96,466.35 C120.99,467.26 122.01,468.27 123.04,469.45 C124.07,470.63 125.1,471.95 126.13,473.44 C127.15,474.94 128.18,476.6 129.21,478.42 C130.24,480.24 131.27,482.25 132.3,484.38 C133.32,486.5 134.35,488.82 135.38,491.17 C136.41,493.52 137.44,496.03 138.46,498.49 C139.49,500.96 140.52,503.51 141.55,505.94 C142.58,508.37 143.61,510.81 144.63,513.07 C145.66,515.33 146.69,517.51 147.72,519.51 C148.75,521.5 149.77,523.35 150.8,525.02 C151.83,526.69 152.86,528.19 153.89,529.54 C154.92,530.89 155.94,532.06 156.97,533.11 C158,534.16 159.03,535.05 160.06,535.85 C161.09,536.64 162.11,537.3 163.14,537.9 C164.17,538.49 165.2,538.97 166.23,539.41 C167.25,539.84 168.28,540.19 169.31,540.51 C170.34,540.82 171.37,541.07 172.4,541.3 C173.42,541.53 174.45,541.71 175.48,541.87 C176.51,542.03 177.54,542.16 178.56,542.27 C179.59,542.39 180.62,542.48 181.65,542.56 C182.68,542.64 183.71,542.71 184.73,542.76 C185.76,542.82 187.3,542.88 187.82,542.91" fill="none" stroke="#86852a" stroke-width="1.25"/>
<circle cx="67.52" cy="456.21" r="2.75" fill="#efefae" stroke="#86852a" stroke-width="1"/>
<circle cx="78.5" cy="456.68" r="2.75" fill="#efefae" stroke="#86852a" stroke-width="1"/>
<circle cx="89.24" cy="458.55" r="2.75" fill="#efefae" stroke="#86852a" stroke-width="1"/>
<circle cx="100.22" cy="459.48" r="2.75" fill="#efefae" stroke="#86852a" stroke-width="1"/>
<circle cx="111.2" cy="462.52" r="2.75" fill="#efefae" stroke="#86852a" stroke-width="1"/>
<circle cx="122.41" cy="469.53" r="2.75" fill="#efefae" stroke="#86852a" stroke-width="1"/>
<circle cx="132.92" cy="485.88" r="2.75" fill="#efefae" stroke="#86852a" stroke-width="1"/>
<circle cx="143.9" cy="508.54" r="2.75" fill="#efefae" stroke="#86852a" stroke-width="1"/>
<circle cx="154.65" cy="534.93" r="2.75" fill="#efefae" stroke="#86852a" stroke-width="1"/>
<circle cx="165.63" cy="537.97" r="2.75" fill="#efefae" stroke="#86852a" stroke-width="1"/>
<circle cx="176.61" cy="540.77" r="2.75" fill="#efefae" stroke="#86852a" stroke-width="1"/>
<circle cx="187.82" cy="543.11" r="2.75" fill="#efefae" stroke="#86852a" stroke-width="1"/>
<path d="M67.52,459.06 C68.03,459.08 69.58,459.12 70.6,459.17 C71.63,459.21 72.66,459.25 73.69,459.31 C74.72,459.37 75.74,459.44 76.77,459.53 C77.8,459.61 78.83,459.71 79.86,459.83 C80.89,459.95 81.91,460.08 82.94,460.26 C83.97,460.43 85,460.62 86.03,460.86 C87.06,461.11 88.08,461.38 89.11,461.72 C90.14,462.06 91.17,462.44 92.2,462.91 C93.22,463.39 94.25,463.92 95.28,464.57 C96.31,465.22 97.34,465.95 98.37,466.82 C99.39,467.7 100.42,468.68 101.45,469.84 C102.48,471 103.51,472.3 104.53,473.78 C105.56,475.26 106.59,476.91 107.62,478.74 C108.65,480.56 109.68,482.58 110.7,484.72 C111.73,486.87 112.76,489.21 113.79,491.6 C114.82,493.98 115.84,496.54 116.87,499.04 C117.9,501.54 118.93,504.14 119.96,506.6 C120.99,509.07 122.01,511.54 123.04,513.82 C124.07,516.1 125.1,518.3 126.13,520.3 C127.15,522.29 128.18,524.13 129.21,525.79 C130.24,527.45 131.27,528.93 132.3,530.25 C133.32,531.57 134.35,532.71 135.38,533.72 C136.41,534.74 137.44,535.59 138.46,536.36 C139.49,537.12 140.52,537.74 141.55,538.3 C142.58,538.86 143.61,539.31 144.63,539.72 C145.66,540.13 146.69,540.45 147.72,540.74 C148.75,541.03 149.77,541.26 150.8,541.46 C151.83,541.67 152.86,541.83 153.89,541.98 C154.92,542.12 155.94,542.24 156.97,542.34 C158,542.44 159.03,542.52 160.06,542.59 C161.09,542.66 162.11,542.72 163.14,542.77 C164.17,542.82 165.2,542.86 166.23,542.9 C167.25,542.93 168.28,542.96 169.31,542.98 C170.34,543.01 171.37,543.03 172.4,543.04 C173.42,543.06 174.45,543.07 175.48,543.09 C176.51,543.1 177.54,543.11 178.56,543.12 C179.59,543.12 180.62,543.13 181.65,543.14 C182.68,543.14 183.71,543.15 184.73,543.15 C185.76,543.16 187.3,543.16 187.82,543.16" fill="none" stroke="#3a49a2" stroke-width="1.25"/>
<circle cx="67.52" cy="459.02" r="2.75" fill="#7a81c4" stroke="#3a49a2" stroke-width="1"/>
<circle cx="78.5" cy="460.18" r="2.75" fill="#7a81c4" stroke="#3a49a2" stroke-width="1"/>
<circle cx="89.24" cy="461.35" r="2.75" fill="#7a81c4" stroke="#3a49a2" stroke-width="1"/>
<circle cx="100.22" cy="468.36" r="2.75" fill="#7a81c4" stroke="#3a49a2" stroke-width="1"/>
<circle cx="111.2" cy="485.88" r="2.75" fill="#7a81c4" stroke="#3a49a2" stroke-width="1"/>
<circle cx="122.41" cy="512.74" r="2.75" fill="#7a81c4" stroke="#3a49a2" stroke-width="1"/>
<circle cx="132.92" cy="530.26" r="2.75" fill="#7a81c4" stroke="#3a49a2" stroke-width="1"/>
<circle cx="143.9" cy="539.6" r="2.75" fill="#7a81c4" stroke="#3a49a2" stroke-width="1"/>
<circle cx="154.65" cy="543.11" r="2.75" fill="#7a81c4" stroke="#3a49a2" stroke-width="1"/>
<circle cx="165.63" cy="543.11" r="2.75" fill="#7a81c4" stroke="#3a49a2" stroke-width="1"/>
<circle cx="176.61" cy="542.64" r="2.75" fill="#7a81c4" stroke="#3a49a2" stroke-width="1"/>
<circle cx="187.82" cy="542.64" r="2.75" fill="#7a81c4" stroke="#3a49a2" stroke-width="1"/>
<path d="M67.52,458.18 C67.99,458.2 69.38,458.25 70.32,458.29 C71.25,458.34 72.18,458.39 73.11,458.45 C74.05,458.51 74.98,458.57 75.91,458.64 C76.84,458.72 77.78,458.8 78.71,458.9 C79.64,458.99 80.57,459.1 81.5,459.22 C82.44,459.34 83.37,459.48 84.3,459.64 C85.23,459.79 86.17,459.96 87.1,460.17 C88.03,460.37 88.96,460.59 89.9,460.84 C90.83,461.1 91.76,461.37 92.69,461.7 C93.63,462.02 94.56,462.37 95.49,462.78 C96.42,463.18 97.35,463.63 98.29,464.13 C99.22,464.64 100.15,465.19 101.08,465.82 C102.02,466.44 102.95,467.13 103.88,467.89 C104.81,468.66 105.75,469.49 106.68,470.42 C107.61,471.35 108.54,472.35 109.48,473.45 C110.41,474.55 111.34,475.74 112.27,477.02 C113.21,478.3 114.14,479.68 115.07,481.14 C116,482.59 116.93,484.15 117.87,485.77 C118.8,487.39 119.73,489.1 120.66,490.85 C121.6,492.6 122.53,494.43 123.46,496.26 C124.39,498.09 125.33,499.98 126.26,501.84 C127.19,503.7 128.12,505.58 129.06,507.41 C129.99,509.24 130.92,511.06 131.85,512.79 C132.78,514.53 133.72,516.23 134.65,517.84 C135.58,519.44 136.51,520.99 137.45,522.43 C138.38,523.87 139.31,525.23 140.24,526.49 C141.18,527.76 142.11,528.93 143.04,530.01 C143.97,531.09 144.91,532.08 145.84,532.99 C146.77,533.9 147.7,534.72 148.63,535.47 C149.57,536.22 150.5,536.89 151.43,537.51 C152.36,538.12 153.3,538.66 154.23,539.16 C155.16,539.66 156.09,540.09 157.03,540.49 C157.96,540.88 158.89,541.23 159.82,541.54 C160.76,541.86 161.69,542.13 162.62,542.38 C163.55,542.63 164.49,542.84 165.42,543.04 C166.35,543.24 167.28,543.4 168.21,543.56 C169.15,543.71 170.08,543.84 171.01,543.96 C171.94,544.08 172.88,544.19 173.81,544.28 C174.74,544.37 176.14,544.49 176.61,544.53" fill="none" stroke="#80308f" stroke-width="1.25"/>
<circle cx="67.52" cy="457.85" r="2.75" fill="#e7cde8" stroke="#80308f" stroke-width="1"/>
<circle cx="78.5" cy="459.72" r="2.75" fill="#e7cde8" stroke="#80308f" stroke-width="1"/>
<circle cx="89.24" cy="460.88" r="2.75" fill="#e7cde8" stroke="#80308f" stroke-width="1"/>
<circle cx="100.22" cy="463.69" r="2.75" fill="#e7cde8" stroke="#80308f" stroke-width="1"/>
<circle cx="111.2" cy="476.53" r="2.75" fill="#e7cde8" stroke="#80308f" stroke-width="1"/>
<circle cx="122.41" cy="494.52" r="2.75" fill="#e7cde8" stroke="#80308f" stroke-width="1"/>
<circle cx="132.92" cy="513.91" r="2.75" fill="#e7cde8" stroke="#80308f" stroke-width="1"/>
<circle cx="143.9" cy="531.43" r="2.75" fill="#e7cde8" stroke="#80308f" stroke-width="1"/>
<circle cx="154.65" cy="539.6" r="2.75" fill="#e7cde8" stroke="#80308f" stroke-width="1"/>
<circle cx="165.63" cy="543.11" r="2.75" fill="#e7cde8" stroke="#80308f" stroke-width="1"/>
<circle cx="176.61" cy="544.28" r="2.75" fill="#e7cde8" stroke="#80308f" stroke-width="1"/>
<circle cx="187.82" cy="530.96" r="2.75" fill="#e7cde8" stroke="#80308f" stroke-width="1"/>
<path d="M67.52,458.58 C68.03,458.58 69.58,458.59 70.6,458.59 C71.63,458.6 72.66,458.61 73.69,458.62 C74.72,458.63 75.74,458.64 76.77,458.65 C77.8,458.66 78.83,458.68 79.86,458.7 C80.89,458.72 81.91,458.74 82.94,458.76 C83.97,458.79 85,458.82 86.03,458.86 C87.06,458.89 88.08,458.93 89.11,458.98 C90.14,459.03 91.17,459.09 92.2,459.16 C93.22,459.23 94.25,459.31 95.28,459.41 C96.31,459.5 97.34,459.61 98.37,459.75 C99.39,459.88 100.42,460.03 101.45,460.22 C102.48,460.41 103.51,460.61 104.53,460.87 C105.56,461.13 106.59,461.41 107.62,461.76 C108.65,462.11 109.68,462.5 110.7,462.97 C111.73,463.45 112.76,463.98 113.79,464.61 C114.82,465.24 115.84,465.95 116.87,466.78 C117.9,467.62 118.93,468.55 119.96,469.63 C120.99,470.7 122.01,471.9 123.04,473.26 C124.07,474.61 125.1,476.11 126.13,477.76 C127.15,479.41 128.18,481.23 129.21,483.16 C130.24,485.09 131.27,487.19 132.3,489.35 C133.32,491.51 134.35,493.82 135.38,496.12 C136.41,498.41 137.44,500.82 138.46,503.13 C139.49,505.44 140.52,507.79 141.55,510 C142.58,512.21 143.61,514.39 144.63,516.39 C145.66,518.4 146.69,520.3 147.72,522.03 C148.75,523.77 149.77,525.36 150.8,526.8 C151.83,528.24 152.86,529.52 153.89,530.67 C154.92,531.83 155.94,532.83 156.97,533.73 C158,534.63 159.03,535.4 160.06,536.09 C161.09,536.77 162.11,537.35 163.14,537.86 C164.17,538.38 165.2,538.8 166.23,539.19 C167.25,539.57 168.28,539.88 169.31,540.16 C170.34,540.44 171.37,540.67 172.4,540.88 C173.42,541.08 174.45,541.24 175.48,541.39 C176.51,541.54 177.54,541.66 178.56,541.77 C179.59,541.88 180.62,541.96 181.65,542.04 C182.68,542.12 183.71,542.18 184.73,542.23 C185.76,542.29 187.3,542.35 187.82,542.37" fill="none" stroke="#1f9e6e" stroke-width="1.25"/>
<circle cx="67.52" cy="457.85" r="2.75" fill="#d3eee4" stroke="#1f9e6e" stroke-width="1"/>
<circle cx="78.5" cy="459.02" r="2.75" fill="#d3eee4" stroke="#1f9e6e" stroke-width="1"/>
<circle cx="89.24" cy="459.48" r="2.75" fill="#d3eee4" stroke="#1f9e6e" stroke-width="1"/>
<circle cx="100.22" cy="460.18" r="2.75" fill="#d3eee4" stroke="#1f9e6e" stroke-width="1"/>
<circle cx="111.2" cy="462.52" r="2.75" fill="#d3eee4" stroke="#1f9e6e" stroke-width="1"/>
<circle cx="122.41" cy="473.03" r="2.75" fill="#d3eee4" stroke="#1f9e6e" stroke-width="1"/>
<circle cx="132.92" cy="490.55" r="2.75" fill="#d3eee4" stroke="#1f9e6e" stroke-width="1"/>
<circle cx="143.9" cy="515.08" r="2.75" fill="#d3eee4" stroke="#1f9e6e" stroke-width="1"/>
<circle cx="154.65" cy="530.26" r="2.75" fill="#d3eee4" stroke="#1f9e6e" stroke-width="1"/>
<circle cx="165.63" cy="541.24" r="2.75" fill="#d3eee4" stroke="#1f9e6e" stroke-width="1"/>
<circle cx="176.61" cy="541.94" r="2.75" fill="#d3eee4" stroke="#1f9e6e" stroke-width="1"/>
<circle cx="187.82" cy="540.77" r="2.75" fill="#d3eee4" stroke="#1f9e6e" stroke-width="1"/>
<path d="M67.52,459.62 C68.03,459.62 69.58,459.64 70.6,459.65 C71.63,459.66 72.66,459.68 73.69,459.7 C74.72,459.71 75.74,459.73 76.77,459.76 C77.8,459.79 78.83,459.81 79.86,459.85 C80.89,459.89 81.91,459.92 82.94,459.97 C83.97,460.02 85,460.08 86.03,460.15 C87.06,460.22 88.08,460.3 89.11,460.4 C90.14,460.49 91.17,460.6 92.2,460.74 C93.22,460.87 94.25,461.02 95.28,461.21 C96.31,461.4 97.34,461.61 98.37,461.88 C99.39,462.14 100.42,462.43 101.45,462.79 C102.48,463.15 103.51,463.55 104.53,464.04 C105.56,464.52 106.59,465.07 107.62,465.73 C108.65,466.38 109.68,467.11 110.7,467.98 C111.73,468.85 112.76,469.82 113.79,470.95 C114.82,472.07 115.84,473.32 116.87,474.74 C117.9,476.16 118.93,477.72 119.96,479.45 C120.99,481.17 122.01,483.06 123.04,485.07 C124.07,487.08 125.1,489.27 126.13,491.5 C127.15,493.73 128.18,496.11 129.21,498.46 C130.24,500.82 131.27,503.26 132.3,505.61 C133.32,507.95 134.35,510.31 135.38,512.52 C136.41,514.73 137.44,516.88 138.46,518.86 C139.49,520.83 140.52,522.69 141.55,524.37 C142.58,526.06 143.61,527.58 144.63,528.96 C145.66,530.34 146.69,531.55 147.72,532.64 C148.75,533.74 149.77,534.67 150.8,535.51 C151.83,536.35 152.86,537.06 153.89,537.69 C154.92,538.32 155.94,538.85 156.97,539.32 C158,539.79 159.03,540.17 160.06,540.52 C161.09,540.86 162.11,541.14 163.14,541.39 C164.17,541.65 165.2,541.85 166.23,542.03 C167.25,542.21 168.28,542.35 169.31,542.49 C170.34,542.62 171.37,542.72 172.4,542.81 C173.42,542.91 174.45,542.98 175.48,543.05 C176.51,543.12 177.54,543.17 178.56,543.22 C179.59,543.27 180.62,543.3 181.65,543.34 C182.68,543.37 183.71,543.4 184.73,543.42 C185.76,543.45 187.3,543.47 187.82,543.48" fill="none" stroke="#151515" stroke-width="1.25"/>
<circle cx="67.52" cy="458.55" r="2.75" fill="#cdcdcd" stroke="#151515" stroke-width="1"/>
<circle cx="78.5" cy="460.18" r="2.75" fill="#cdcdcd" stroke="#151515" stroke-width="1"/>
<circle cx="89.24" cy="460.65" r="2.75" fill="#cdcdcd" stroke="#151515" stroke-width="1"/>
<circle cx="100.22" cy="462.52" r="2.75" fill="#cdcdcd" stroke="#151515" stroke-width="1"/>
<circle cx="111.2" cy="469.06" r="2.75" fill="#cdcdcd" stroke="#151515" stroke-width="1"/>
<circle cx="122.41" cy="483.54" r="2.75" fill="#cdcdcd" stroke="#151515" stroke-width="1"/>
<circle cx="132.92" cy="506.9" r="2.75" fill="#cdcdcd" stroke="#151515" stroke-width="1"/>
<circle cx="143.9" cy="527.92" r="2.75" fill="#cdcdcd" stroke="#151515" stroke-width="1"/>
<circle cx="154.65" cy="538.44" r="2.75" fill="#cdcdcd" stroke="#151515" stroke-width="1"/>
<circle cx="165.63" cy="543.11" r="2.75" fill="#cdcdcd" stroke="#151515" stroke-width="1"/>
<circle cx="176.61" cy="542.64" r="2.75" fill="#cdcdcd" stroke="#151515" stroke-width="1"/>
<circle cx="187.82" cy="542.64" r="2.75" fill="#cdcdcd" stroke="#151515" stroke-width="1"/><path d="M267.7,440 V553 H449.7" fill="none" stroke="#111111" stroke-width="1.3"/>
<line x1="262.7" y1="553" x2="267.7" y2="553" stroke="#111111" stroke-width="1.1"/>
<text transform="translate(260.7,556.2) scale(1.0,1)" font-size="9.0" fill="#1a1a1a" stroke="#1a1a1a" stroke-width="0.22" text-anchor="end" font-weight="normal">0.0</text>
<line x1="262.7" y1="534.17" x2="267.7" y2="534.17" stroke="#111111" stroke-width="1.1"/>
<text transform="translate(260.7,537.37) scale(1.0,1)" font-size="9.0" fill="#1a1a1a" stroke="#1a1a1a" stroke-width="0.22" text-anchor="end" font-weight="normal">0.2</text>
<line x1="262.7" y1="515.33" x2="267.7" y2="515.33" stroke="#111111" stroke-width="1.1"/>
<text transform="translate(260.7,518.53) scale(1.0,1)" font-size="9.0" fill="#1a1a1a" stroke="#1a1a1a" stroke-width="0.22" text-anchor="end" font-weight="normal">0.4</text>
<line x1="262.7" y1="496.5" x2="267.7" y2="496.5" stroke="#111111" stroke-width="1.1"/>
<text transform="translate(260.7,499.7) scale(1.0,1)" font-size="9.0" fill="#1a1a1a" stroke="#1a1a1a" stroke-width="0.22" text-anchor="end" font-weight="normal">0.6</text>
<line x1="262.7" y1="477.67" x2="267.7" y2="477.67" stroke="#111111" stroke-width="1.1"/>
<text transform="translate(260.7,480.87) scale(1.0,1)" font-size="9.0" fill="#1a1a1a" stroke="#1a1a1a" stroke-width="0.22" text-anchor="end" font-weight="normal">0.8</text>
<line x1="262.7" y1="458.83" x2="267.7" y2="458.83" stroke="#111111" stroke-width="1.1"/>
<text transform="translate(260.7,462.03) scale(1.0,1)" font-size="9.0" fill="#1a1a1a" stroke="#1a1a1a" stroke-width="0.22" text-anchor="end" font-weight="normal">1.0</text>
<line x1="262.7" y1="440" x2="267.7" y2="440" stroke="#111111" stroke-width="1.1"/>
<text transform="translate(260.7,443.2) scale(1.0,1)" font-size="9.0" fill="#1a1a1a" stroke="#1a1a1a" stroke-width="0.22" text-anchor="end" font-weight="normal">1.2</text>
<line x1="267.7" y1="553" x2="267.7" y2="558" stroke="#111111" stroke-width="1.1"/>
<text transform="translate(267.7,567.7) scale(1.0,1)" font-size="9.0" fill="#1a1a1a" stroke="#1a1a1a" stroke-width="0.22" text-anchor="middle" font-weight="normal">0.0001</text>
<line x1="328.37" y1="553" x2="328.37" y2="558" stroke="#111111" stroke-width="1.1"/>
<text transform="translate(328.37,567.7) scale(1.0,1)" font-size="9.0" fill="#1a1a1a" stroke="#1a1a1a" stroke-width="0.22" text-anchor="middle" font-weight="normal">0.01</text>
<line x1="389.03" y1="553" x2="389.03" y2="558" stroke="#111111" stroke-width="1.1"/>
<text transform="translate(389.03,567.7) scale(1.0,1)" font-size="9.0" fill="#1a1a1a" stroke="#1a1a1a" stroke-width="0.22" text-anchor="middle" font-weight="normal">1</text>
<line x1="449.7" y1="553" x2="449.7" y2="558" stroke="#111111" stroke-width="1.1"/>
<text transform="translate(449.7,567.7) scale(1.0,1)" font-size="9.0" fill="#1a1a1a" stroke="#1a1a1a" stroke-width="0.22" text-anchor="middle" font-weight="normal">100</text>
<text transform="translate(358.7,445.5) scale(1.0,1)" font-size="11.8" fill="#1a1a1a" stroke="#1a1a1a" stroke-width="0.22" text-anchor="middle" font-weight="normal">MDM2 Binding</text>
<text transform="translate(358.7,579.9) scale(1.0,1)" font-size="10.2" fill="#1a1a1a" stroke="#1a1a1a" stroke-width="0.22" text-anchor="middle" font-weight="normal">[Compound] (μM)</text>
<text transform="translate(242,495.9) rotate(-90) scale(1.0,1)" font-size="10.2" fill="#1a1a1a" stroke="#1a1a1a" stroke-width="0.22" text-anchor="middle" font-weight="normal">TR-FRET Signal (FC)</text>
<line x1="272.1" y1="495.5" x2="285.3" y2="495.5" stroke="#151515" stroke-width="1.1"/>
<ellipse cx="278.7" cy="495.5" rx="2.85" ry="2.85" fill="#cdcdcd" stroke="#151515" stroke-width="1"/>
<text transform="translate(289.6,499.1) scale(1.0,1.0)" font-size="10.0" fill="#1a1a1a" stroke="#1a1a1a" stroke-width="0.22" text-anchor="start" font-weight="normal">MD-224</text>
<line x1="272.1" y1="505.6" x2="285.3" y2="505.6" stroke="#1f9e6e" stroke-width="1.1"/>
<ellipse cx="278.7" cy="505.6" rx="2.85" ry="2.85" fill="#d3eee4" stroke="#1f9e6e" stroke-width="1"/>
<text transform="translate(289.6,509.2) scale(1.0,1.0)" font-size="10.0" fill="#1a1a1a" stroke="#1a1a1a" stroke-width="0.22" text-anchor="start" font-weight="normal">MD-222</text>
<line x1="272.1" y1="515.7" x2="285.3" y2="515.7" stroke="#80308f" stroke-width="1.1"/>
<ellipse cx="278.7" cy="515.7" rx="2.85" ry="2.85" fill="#e7cde8" stroke="#80308f" stroke-width="1"/>
<text transform="translate(289.6,519.3) scale(1.0,1.0)" font-size="10.0" fill="#1a1a1a" stroke="#1a1a1a" stroke-width="0.22" text-anchor="start" font-weight="normal">MG-277</text>
<line x1="272.1" y1="525.8" x2="285.3" y2="525.8" stroke="#3a49a2" stroke-width="1.1"/>
<ellipse cx="278.7" cy="525.8" rx="2.85" ry="2.85" fill="#7a81c4" stroke="#3a49a2" stroke-width="1"/>
<text transform="translate(289.6,529.4) scale(1.0,1.0)" font-size="10.0" fill="#1a1a1a" stroke="#1a1a1a" stroke-width="0.22" text-anchor="start" font-weight="normal">SJYHJ-048</text>
<line x1="272.1" y1="535.9" x2="285.3" y2="535.9" stroke="#86852a" stroke-width="1.1"/>
<ellipse cx="278.7" cy="535.9" rx="2.85" ry="2.85" fill="#efefae" stroke="#86852a" stroke-width="1"/>
<text transform="translate(289.6,539.5) scale(1.0,1.0)" font-size="10.0" fill="#1a1a1a" stroke="#1a1a1a" stroke-width="0.22" text-anchor="start" font-weight="normal">SJYHJ-059</text>
<line x1="272.1" y1="546" x2="285.3" y2="546" stroke="#b0b0b0" stroke-width="1.1"/>
<ellipse cx="278.7" cy="546" rx="2.85" ry="2.85" fill="#ffffff" stroke="#b0b0b0" stroke-width="1"/>
<text transform="translate(289.6,549.6) scale(1.0,1.0)" font-size="10.0" fill="#1a1a1a" stroke="#1a1a1a" stroke-width="0.22" text-anchor="start" font-weight="normal">SJYHJ-108</text>
<path d="M274.57,458.66 C276.98,458.79 284.2,459.32 289.02,459.45 C293.84,459.58 298.65,459.45 303.47,459.45 C308.29,459.45 313.1,459.58 317.92,459.45 C322.74,459.32 327.56,458.66 332.37,458.66 C337.19,458.66 342.01,459.32 346.82,459.45 C351.64,459.58 356.46,458.88 361.27,459.45 C366.09,460.02 370.91,461.55 375.72,462.87 C380.54,464.18 385.36,465.28 390.18,467.33 C394.99,469.39 399.72,472.81 404.63,475.22 C409.53,477.62 414.65,480.03 419.6,481.78 C424.55,483.54 431.86,485.07 434.32,485.73" fill="none" stroke="#b0b0b0" stroke-width="1.25"/>
<circle cx="274.57" cy="458.66" r="2.75" fill="#ffffff" stroke="#b0b0b0" stroke-width="1"/>
<circle cx="289.02" cy="459.45" r="2.75" fill="#ffffff" stroke="#b0b0b0" stroke-width="1"/>
<circle cx="303.47" cy="459.45" r="2.75" fill="#ffffff" stroke="#b0b0b0" stroke-width="1"/>
<circle cx="317.92" cy="459.45" r="2.75" fill="#ffffff" stroke="#b0b0b0" stroke-width="1"/>
<circle cx="332.37" cy="458.66" r="2.75" fill="#ffffff" stroke="#b0b0b0" stroke-width="1"/>
<circle cx="346.82" cy="459.45" r="2.75" fill="#ffffff" stroke="#b0b0b0" stroke-width="1"/>
<circle cx="361.27" cy="459.45" r="2.75" fill="#ffffff" stroke="#b0b0b0" stroke-width="1"/>
<circle cx="375.72" cy="462.87" r="2.75" fill="#ffffff" stroke="#b0b0b0" stroke-width="1"/>
<circle cx="390.18" cy="467.33" r="2.75" fill="#ffffff" stroke="#b0b0b0" stroke-width="1"/>
<circle cx="404.63" cy="475.22" r="2.75" fill="#ffffff" stroke="#b0b0b0" stroke-width="1"/>
<circle cx="419.6" cy="481.78" r="2.75" fill="#ffffff" stroke="#b0b0b0" stroke-width="1"/>
<circle cx="434.32" cy="485.73" r="2.75" fill="#ffffff" stroke="#b0b0b0" stroke-width="1"/>
<path d="M274.57,457.35 C291.43,457.48 354.05,457.48 375.72,458.14 C397.4,458.79 394.86,460.33 404.63,461.29 C414.39,462.25 429.37,463.48 434.32,463.92" fill="none" stroke="#86852a" stroke-width="1.25"/>
<path d="M434.32,458.14 V469.7 M431.52,458.14 h5.6 M431.52,469.7 h5.6" stroke="#86852a" stroke-width="0.8" fill="none"/>
<circle cx="274.57" cy="456.82" r="2.75" fill="#efefae" stroke="#86852a" stroke-width="1"/>
<circle cx="289.02" cy="456.82" r="2.75" fill="#efefae" stroke="#86852a" stroke-width="1"/>
<circle cx="303.47" cy="457.35" r="2.75" fill="#efefae" stroke="#86852a" stroke-width="1"/>
<circle cx="317.92" cy="457.61" r="2.75" fill="#efefae" stroke="#86852a" stroke-width="1"/>
<circle cx="332.37" cy="457.35" r="2.75" fill="#efefae" stroke="#86852a" stroke-width="1"/>
<circle cx="346.82" cy="457.61" r="2.75" fill="#efefae" stroke="#86852a" stroke-width="1"/>
<circle cx="361.27" cy="458.66" r="2.75" fill="#efefae" stroke="#86852a" stroke-width="1"/>
<circle cx="375.72" cy="458.14" r="2.75" fill="#efefae" stroke="#86852a" stroke-width="1"/>
<circle cx="390.18" cy="458.14" r="2.75" fill="#efefae" stroke="#86852a" stroke-width="1"/>
<circle cx="404.63" cy="461.29" r="2.75" fill="#efefae" stroke="#86852a" stroke-width="1"/>
<circle cx="419.6" cy="463.39" r="2.75" fill="#efefae" stroke="#86852a" stroke-width="1"/>
<circle cx="434.32" cy="463.92" r="2.75" fill="#efefae" stroke="#86852a" stroke-width="1"/>
<path d="M274.57,461.49 C275.25,461.52 277.3,461.63 278.66,461.72 C280.03,461.81 281.4,461.91 282.76,462.03 C284.13,462.15 285.49,462.28 286.86,462.43 C288.22,462.59 289.59,462.76 290.95,462.97 C292.32,463.17 293.68,463.4 295.05,463.67 C296.41,463.94 297.78,464.23 299.15,464.58 C300.51,464.93 301.88,465.31 303.24,465.76 C304.61,466.21 305.97,466.71 307.34,467.28 C308.7,467.86 310.07,468.49 311.43,469.22 C312.8,469.95 314.16,470.75 315.53,471.66 C316.89,472.57 318.26,473.56 319.63,474.68 C320.99,475.79 322.36,477 323.72,478.34 C325.09,479.67 326.45,481.12 327.82,482.68 C329.18,484.24 330.55,485.92 331.91,487.68 C333.28,489.44 334.64,491.33 336.01,493.26 C337.38,495.19 338.74,497.23 340.11,499.27 C341.47,501.31 342.84,503.43 344.2,505.49 C345.57,507.56 346.93,509.67 348.3,511.69 C349.66,513.71 351.03,515.71 352.39,517.61 C353.76,519.5 355.13,521.34 356.49,523.06 C357.86,524.77 359.22,526.4 360.59,527.9 C361.95,529.4 363.32,530.79 364.68,532.07 C366.05,533.35 367.41,534.51 368.78,535.57 C370.14,536.63 371.51,537.57 372.87,538.43 C374.24,539.29 375.61,540.05 376.97,540.74 C378.34,541.43 379.7,542.02 381.07,542.56 C382.43,543.11 383.8,543.57 385.16,543.99 C386.53,544.42 387.89,544.78 389.26,545.1 C390.62,545.43 391.99,545.71 393.36,545.96 C394.72,546.21 396.09,546.42 397.45,546.61 C398.82,546.8 400.18,546.96 401.55,547.11 C402.91,547.26 404.28,547.38 405.64,547.49 C407.01,547.6 408.37,547.69 409.74,547.78 C411.11,547.86 412.47,547.93 413.84,548 C415.2,548.06 416.57,548.11 417.93,548.16 C419.3,548.21 420.66,548.25 422.03,548.28 C423.39,548.32 424.76,548.35 426.12,548.38 C427.49,548.41 428.85,548.43 430.22,548.45 C431.59,548.47 433.63,548.49 434.32,548.5" fill="none" stroke="#3a49a2" stroke-width="1.25"/>
<circle cx="274.57" cy="459.45" r="2.75" fill="#7a81c4" stroke="#3a49a2" stroke-width="1"/>
<circle cx="289.02" cy="462.08" r="2.75" fill="#7a81c4" stroke="#3a49a2" stroke-width="1"/>
<circle cx="303.47" cy="467.33" r="2.75" fill="#7a81c4" stroke="#3a49a2" stroke-width="1"/>
<circle cx="317.92" cy="476.53" r="2.75" fill="#7a81c4" stroke="#3a49a2" stroke-width="1"/>
<circle cx="332.37" cy="486.51" r="2.75" fill="#7a81c4" stroke="#3a49a2" stroke-width="1"/>
<circle cx="346.82" cy="508.06" r="2.75" fill="#7a81c4" stroke="#3a49a2" stroke-width="1"/>
<circle cx="361.27" cy="529.08" r="2.75" fill="#7a81c4" stroke="#3a49a2" stroke-width="1"/>
<circle cx="375.72" cy="542.21" r="2.75" fill="#7a81c4" stroke="#3a49a2" stroke-width="1"/>
<circle cx="390.18" cy="546.16" r="2.75" fill="#7a81c4" stroke="#3a49a2" stroke-width="1"/>
<circle cx="404.63" cy="547.47" r="2.75" fill="#7a81c4" stroke="#3a49a2" stroke-width="1"/>
<circle cx="419.6" cy="547.47" r="2.75" fill="#7a81c4" stroke="#3a49a2" stroke-width="1"/>
<circle cx="434.32" cy="546.94" r="2.75" fill="#7a81c4" stroke="#3a49a2" stroke-width="1"/>
<path d="M274.57,460.26 C275.19,460.28 277.05,460.33 278.29,460.38 C279.53,460.43 280.77,460.48 282.01,460.53 C283.25,460.59 284.49,460.66 285.73,460.73 C286.96,460.81 288.2,460.89 289.44,460.99 C290.68,461.09 291.92,461.19 293.16,461.31 C294.4,461.44 295.64,461.57 296.88,461.73 C298.12,461.89 299.36,462.06 300.6,462.26 C301.84,462.46 303.08,462.68 304.32,462.93 C305.56,463.18 306.8,463.46 308.04,463.78 C309.28,464.1 310.52,464.45 311.76,464.85 C313,465.25 314.24,465.68 315.48,466.18 C316.72,466.68 317.95,467.22 319.19,467.84 C320.43,468.46 321.67,469.12 322.91,469.88 C324.15,470.63 325.39,471.44 326.63,472.35 C327.87,473.26 329.11,474.24 330.35,475.31 C331.59,476.39 332.83,477.55 334.07,478.8 C335.31,480.05 336.55,481.4 337.79,482.83 C339.03,484.26 340.27,485.78 341.51,487.37 C342.75,488.96 343.99,490.65 345.23,492.37 C346.47,494.09 347.71,495.9 348.95,497.71 C350.18,499.53 351.42,501.4 352.66,503.25 C353.9,505.1 355.14,506.99 356.38,508.82 C357.62,510.65 358.86,512.48 360.1,514.24 C361.34,516 362.58,517.72 363.82,519.36 C365.06,520.99 366.3,522.57 367.54,524.05 C368.78,525.54 370.02,526.94 371.26,528.25 C372.5,529.56 373.74,530.78 374.98,531.91 C376.22,533.04 377.46,534.07 378.7,535.03 C379.94,535.99 381.17,536.85 382.41,537.65 C383.65,538.45 384.89,539.16 386.13,539.82 C387.37,540.47 388.61,541.05 389.85,541.59 C391.09,542.12 392.33,542.59 393.57,543.02 C394.81,543.45 396.05,543.82 397.29,544.16 C398.53,544.51 399.77,544.8 401.01,545.08 C402.25,545.35 403.49,545.58 404.73,545.8 C405.97,546.01 407.21,546.2 408.45,546.37 C409.69,546.54 410.93,546.68 412.17,546.82 C413.4,546.95 414.64,547.07 415.88,547.17 C417.12,547.27 418.98,547.4 419.6,547.45" fill="none" stroke="#80308f" stroke-width="1.25"/>
<circle cx="274.57" cy="459.45" r="2.75" fill="#e7cde8" stroke="#80308f" stroke-width="1"/>
<circle cx="289.02" cy="460.76" r="2.75" fill="#e7cde8" stroke="#80308f" stroke-width="1"/>
<circle cx="303.47" cy="462.08" r="2.75" fill="#e7cde8" stroke="#80308f" stroke-width="1"/>
<circle cx="317.92" cy="469.96" r="2.75" fill="#e7cde8" stroke="#80308f" stroke-width="1"/>
<circle cx="332.37" cy="476" r="2.75" fill="#e7cde8" stroke="#80308f" stroke-width="1"/>
<circle cx="346.82" cy="495.45" r="2.75" fill="#e7cde8" stroke="#80308f" stroke-width="1"/>
<circle cx="361.27" cy="513.84" r="2.75" fill="#e7cde8" stroke="#80308f" stroke-width="1"/>
<circle cx="375.72" cy="533.81" r="2.75" fill="#e7cde8" stroke="#80308f" stroke-width="1"/>
<circle cx="390.18" cy="543.53" r="2.75" fill="#e7cde8" stroke="#80308f" stroke-width="1"/>
<circle cx="404.63" cy="545.37" r="2.75" fill="#e7cde8" stroke="#80308f" stroke-width="1"/>
<circle cx="419.6" cy="546.16" r="2.75" fill="#e7cde8" stroke="#80308f" stroke-width="1"/>
<circle cx="434.32" cy="538.27" r="2.75" fill="#e7cde8" stroke="#80308f" stroke-width="1"/>
<path d="M274.57,459.17 C275.25,459.19 277.3,459.25 278.66,459.29 C280.03,459.34 281.4,459.39 282.76,459.46 C284.13,459.52 285.49,459.59 286.86,459.68 C288.22,459.77 289.59,459.87 290.95,459.98 C292.32,460.1 293.68,460.24 295.05,460.4 C296.41,460.56 297.78,460.74 299.15,460.96 C300.51,461.18 301.88,461.42 303.24,461.72 C304.61,462.02 305.97,462.34 307.34,462.74 C308.7,463.14 310.07,463.57 311.43,464.1 C312.8,464.62 314.16,465.2 315.53,465.89 C316.89,466.58 318.26,467.34 319.63,468.23 C320.99,469.12 322.36,470.1 323.72,471.22 C325.09,472.35 326.45,473.59 327.82,474.98 C329.18,476.37 330.55,477.9 331.91,479.57 C333.28,481.24 334.64,483.07 336.01,485 C337.38,486.94 338.74,489.03 340.11,491.18 C341.47,493.33 342.84,495.63 344.2,497.92 C345.57,500.21 346.93,502.6 348.3,504.92 C349.66,507.24 351.03,509.6 352.39,511.84 C353.76,514.08 355.13,516.3 356.49,518.37 C357.86,520.44 359.22,522.42 360.59,524.25 C361.95,526.07 363.32,527.77 364.68,529.32 C366.05,530.87 367.41,532.28 368.78,533.55 C370.14,534.83 371.51,535.95 372.87,536.97 C374.24,537.99 375.61,538.87 376.97,539.67 C378.34,540.47 379.7,541.15 381.07,541.76 C382.43,542.37 383.8,542.89 385.16,543.35 C386.53,543.82 387.89,544.21 389.26,544.56 C390.62,544.91 391.99,545.19 393.36,545.45 C394.72,545.72 396.09,545.93 397.45,546.12 C398.82,546.32 400.18,546.47 401.55,546.62 C402.91,546.76 404.28,546.87 405.64,546.98 C407.01,547.08 408.37,547.17 409.74,547.25 C411.11,547.32 412.47,547.38 413.84,547.44 C415.2,547.5 416.57,547.54 417.93,547.58 C419.3,547.63 420.66,547.66 422.03,547.69 C423.39,547.72 424.76,547.74 426.12,547.77 C427.49,547.79 428.85,547.81 430.22,547.82 C431.59,547.84 433.63,547.86 434.32,547.86" fill="none" stroke="#1f9e6e" stroke-width="1.25"/>
<path d="M274.57,454.98 V461.29 M271.77,454.98 h5.6 M271.77,461.29 h5.6" stroke="#1f9e6e" stroke-width="0.8" fill="none"/>
<circle cx="274.57" cy="458.14" r="2.75" fill="#d3eee4" stroke="#1f9e6e" stroke-width="1"/>
<circle cx="289.02" cy="459.45" r="2.75" fill="#d3eee4" stroke="#1f9e6e" stroke-width="1"/>
<circle cx="303.47" cy="462.08" r="2.75" fill="#d3eee4" stroke="#1f9e6e" stroke-width="1"/>
<circle cx="317.92" cy="468.65" r="2.75" fill="#d3eee4" stroke="#1f9e6e" stroke-width="1"/>
<circle cx="332.37" cy="480.47" r="2.75" fill="#d3eee4" stroke="#1f9e6e" stroke-width="1"/>
<circle cx="346.82" cy="501.49" r="2.75" fill="#d3eee4" stroke="#1f9e6e" stroke-width="1"/>
<circle cx="361.27" cy="523.82" r="2.75" fill="#d3eee4" stroke="#1f9e6e" stroke-width="1"/>
<circle cx="375.72" cy="542.21" r="2.75" fill="#d3eee4" stroke="#1f9e6e" stroke-width="1"/>
<circle cx="390.18" cy="544.84" r="2.75" fill="#d3eee4" stroke="#1f9e6e" stroke-width="1"/>
<circle cx="404.63" cy="546.16" r="2.75" fill="#d3eee4" stroke="#1f9e6e" stroke-width="1"/>
<circle cx="419.6" cy="546.94" r="2.75" fill="#d3eee4" stroke="#1f9e6e" stroke-width="1"/>
<circle cx="434.32" cy="547.47" r="2.75" fill="#d3eee4" stroke="#1f9e6e" stroke-width="1"/>
<path d="M274.57,459.45 C275.25,459.49 277.3,459.59 278.66,459.68 C280.03,459.77 281.4,459.87 282.76,459.99 C284.13,460.11 285.49,460.24 286.86,460.4 C288.22,460.55 289.59,460.72 290.95,460.93 C292.32,461.14 293.68,461.37 295.05,461.64 C296.41,461.91 297.78,462.21 299.15,462.56 C300.51,462.91 301.88,463.3 303.24,463.76 C304.61,464.21 305.97,464.72 307.34,465.3 C308.7,465.89 310.07,466.53 311.43,467.28 C312.8,468.02 314.16,468.84 315.53,469.77 C316.89,470.7 318.26,471.72 319.63,472.87 C320.99,474.01 322.36,475.26 323.72,476.64 C325.09,478.02 326.45,479.51 327.82,481.12 C329.18,482.74 330.55,484.48 331.91,486.31 C333.28,488.14 334.64,490.1 336.01,492.11 C337.38,494.12 338.74,496.25 340.11,498.37 C341.47,500.5 342.84,502.71 344.2,504.87 C345.57,507.03 346.93,509.23 348.3,511.34 C349.66,513.45 351.03,515.55 352.39,517.53 C353.76,519.51 355.13,521.44 356.49,523.23 C357.86,525.02 359.22,526.72 360.59,528.29 C361.95,529.86 363.32,531.31 364.68,532.64 C366.05,533.98 367.41,535.18 368.78,536.29 C370.14,537.39 371.51,538.37 372.87,539.27 C374.24,540.16 375.61,540.94 376.97,541.66 C378.34,542.37 379.7,542.99 381.07,543.55 C382.43,544.11 383.8,544.59 385.16,545.02 C386.53,545.46 387.89,545.83 389.26,546.17 C390.62,546.5 391.99,546.79 393.36,547.04 C394.72,547.3 396.09,547.52 397.45,547.72 C398.82,547.91 400.18,548.08 401.55,548.23 C402.91,548.38 404.28,548.5 405.64,548.61 C407.01,548.73 408.37,548.82 409.74,548.9 C411.11,548.99 412.47,549.06 413.84,549.13 C415.2,549.19 416.57,549.24 417.93,549.29 C419.3,549.34 420.66,549.38 422.03,549.42 C423.39,549.45 424.76,549.48 426.12,549.51 C427.49,549.54 428.85,549.56 430.22,549.58 C431.59,549.6 433.63,549.63 434.32,549.64" fill="none" stroke="#151515" stroke-width="1.25"/>
<circle cx="274.57" cy="459.45" r="2.75" fill="#cdcdcd" stroke="#151515" stroke-width="1"/>
<circle cx="289.02" cy="460.24" r="2.75" fill="#cdcdcd" stroke="#151515" stroke-width="1"/>
<circle cx="303.47" cy="463.39" r="2.75" fill="#cdcdcd" stroke="#151515" stroke-width="1"/>
<circle cx="317.92" cy="472.59" r="2.75" fill="#cdcdcd" stroke="#151515" stroke-width="1"/>
<circle cx="332.37" cy="487.04" r="2.75" fill="#cdcdcd" stroke="#151515" stroke-width="1"/>
<circle cx="346.82" cy="509.37" r="2.75" fill="#cdcdcd" stroke="#151515" stroke-width="1"/>
<circle cx="361.27" cy="525.92" r="2.75" fill="#cdcdcd" stroke="#151515" stroke-width="1"/>
<circle cx="375.72" cy="544.32" r="2.75" fill="#cdcdcd" stroke="#151515" stroke-width="1"/>
<circle cx="390.18" cy="548" r="2.75" fill="#cdcdcd" stroke="#151515" stroke-width="1"/>
<circle cx="404.63" cy="548.78" r="2.75" fill="#cdcdcd" stroke="#151515" stroke-width="1"/>
<circle cx="419.6" cy="548.78" r="2.75" fill="#cdcdcd" stroke="#151515" stroke-width="1"/>
<circle cx="434.32" cy="547.47" r="2.75" fill="#cdcdcd" stroke="#151515" stroke-width="1"/><path d="M495.3,440 V553 H677.3" fill="none" stroke="#111111" stroke-width="1.3"/>
<line x1="490.3" y1="553" x2="495.3" y2="553" stroke="#111111" stroke-width="1.1"/>
<text transform="translate(488.3,556.2) scale(1.0,1)" font-size="9.0" fill="#1a1a1a" stroke="#1a1a1a" stroke-width="0.22" text-anchor="end" font-weight="normal">0</text>
<line x1="490.3" y1="524.75" x2="495.3" y2="524.75" stroke="#111111" stroke-width="1.1"/>
<text transform="translate(488.3,527.95) scale(1.0,1)" font-size="9.0" fill="#1a1a1a" stroke="#1a1a1a" stroke-width="0.22" text-anchor="end" font-weight="normal">10</text>
<line x1="490.3" y1="496.5" x2="495.3" y2="496.5" stroke="#111111" stroke-width="1.1"/>
<text transform="translate(488.3,499.7) scale(1.0,1)" font-size="9.0" fill="#1a1a1a" stroke="#1a1a1a" stroke-width="0.22" text-anchor="end" font-weight="normal">20</text>
<line x1="490.3" y1="468.25" x2="495.3" y2="468.25" stroke="#111111" stroke-width="1.1"/>
<text transform="translate(488.3,471.45) scale(1.0,1)" font-size="9.0" fill="#1a1a1a" stroke="#1a1a1a" stroke-width="0.22" text-anchor="end" font-weight="normal">30</text>
<line x1="490.3" y1="440" x2="495.3" y2="440" stroke="#111111" stroke-width="1.1"/>
<text transform="translate(488.3,443.2) scale(1.0,1)" font-size="9.0" fill="#1a1a1a" stroke="#1a1a1a" stroke-width="0.22" text-anchor="end" font-weight="normal">40</text>
<line x1="495.3" y1="553" x2="495.3" y2="558" stroke="#111111" stroke-width="1.1"/>
<text transform="translate(495.3,567.7) scale(1.0,1)" font-size="9.0" fill="#1a1a1a" stroke="#1a1a1a" stroke-width="0.22" text-anchor="middle" font-weight="normal">0.000001</text>
<line x1="540.8" y1="553" x2="540.8" y2="558" stroke="#111111" stroke-width="1.1"/>
<text transform="translate(540.8,567.7) scale(1.0,1)" font-size="9.0" fill="#1a1a1a" stroke="#1a1a1a" stroke-width="0.22" text-anchor="middle" font-weight="normal">0.0001</text>
<line x1="586.3" y1="553" x2="586.3" y2="558" stroke="#111111" stroke-width="1.1"/>
<text transform="translate(586.3,567.7) scale(1.0,1)" font-size="9.0" fill="#1a1a1a" stroke="#1a1a1a" stroke-width="0.22" text-anchor="middle" font-weight="normal">0.01</text>
<line x1="631.8" y1="553" x2="631.8" y2="558" stroke="#111111" stroke-width="1.1"/>
<text transform="translate(631.8,567.7) scale(1.0,1)" font-size="9.0" fill="#1a1a1a" stroke="#1a1a1a" stroke-width="0.22" text-anchor="middle" font-weight="normal">1</text>
<line x1="677.3" y1="553" x2="677.3" y2="558" stroke="#111111" stroke-width="1.1"/>
<text transform="translate(677.3,567.7) scale(1.0,1)" font-size="9.0" fill="#1a1a1a" stroke="#1a1a1a" stroke-width="0.22" text-anchor="middle" font-weight="normal">100</text>
<text transform="translate(586.3,445.5) scale(1.0,1)" font-size="11.8" fill="#1a1a1a" stroke="#1a1a1a" stroke-width="0.22" text-anchor="middle" font-weight="normal">CRBN-MDM2 Complex</text>
<text transform="translate(586.3,579.9) scale(1.0,1)" font-size="10.2" fill="#1a1a1a" stroke="#1a1a1a" stroke-width="0.22" text-anchor="middle" font-weight="normal">[Compound] (μM)</text>
<text transform="translate(472.2,495.9) rotate(-90) scale(1.0,1)" font-size="10.2" fill="#1a1a1a" stroke="#1a1a1a" stroke-width="0.22" text-anchor="middle" font-weight="normal">TR-FRET Signal (FC)</text>
<line x1="499.8" y1="461.4" x2="513" y2="461.4" stroke="#151515" stroke-width="1.1"/>
<ellipse cx="506.4" cy="461.4" rx="2.85" ry="2.68" fill="#cdcdcd" stroke="#151515" stroke-width="1"/>
<text transform="translate(517.2,464.57) scale(1.0,0.88)" font-size="10.0" fill="#1a1a1a" stroke="#1a1a1a" stroke-width="0.22" text-anchor="start" font-weight="normal">MD-224</text>
<line x1="499.8" y1="470.28" x2="513" y2="470.28" stroke="#1f9e6e" stroke-width="1.1"/>
<ellipse cx="506.4" cy="470.28" rx="2.85" ry="2.68" fill="#d3eee4" stroke="#1f9e6e" stroke-width="1"/>
<text transform="translate(517.2,473.45) scale(1.0,0.88)" font-size="10.0" fill="#1a1a1a" stroke="#1a1a1a" stroke-width="0.22" text-anchor="start" font-weight="normal">MD-222</text>
<line x1="499.8" y1="479.16" x2="513" y2="479.16" stroke="#80308f" stroke-width="1.1"/>
<ellipse cx="506.4" cy="479.16" rx="2.85" ry="2.68" fill="#e7cde8" stroke="#80308f" stroke-width="1"/>
<text transform="translate(517.2,482.33) scale(1.0,0.88)" font-size="10.0" fill="#1a1a1a" stroke="#1a1a1a" stroke-width="0.22" text-anchor="start" font-weight="normal">MG-277</text>
<line x1="499.8" y1="488.04" x2="513" y2="488.04" stroke="#3a49a2" stroke-width="1.1"/>
<ellipse cx="506.4" cy="488.04" rx="2.85" ry="2.68" fill="#7a81c4" stroke="#3a49a2" stroke-width="1"/>
<text transform="translate(517.2,491.21) scale(1.0,0.88)" font-size="10.0" fill="#1a1a1a" stroke="#1a1a1a" stroke-width="0.22" text-anchor="start" font-weight="normal">SJYHJ-048</text>
<line x1="499.8" y1="496.92" x2="513" y2="496.92" stroke="#86852a" stroke-width="1.1"/>
<ellipse cx="506.4" cy="496.92" rx="2.85" ry="2.68" fill="#efefae" stroke="#86852a" stroke-width="1"/>
<text transform="translate(517.2,500.09) scale(1.0,0.88)" font-size="10.0" fill="#1a1a1a" stroke="#1a1a1a" stroke-width="0.22" text-anchor="start" font-weight="normal">SJYHJ-059</text>
<line x1="499.8" y1="505.8" x2="513" y2="505.8" stroke="#b0b0b0" stroke-width="1.1"/>
<ellipse cx="506.4" cy="505.8" rx="2.85" ry="2.68" fill="#ffffff" stroke="#b0b0b0" stroke-width="1"/>
<text transform="translate(517.2,508.97) scale(1.0,0.88)" font-size="10.0" fill="#1a1a1a" stroke="#1a1a1a" stroke-width="0.22" text-anchor="start" font-weight="normal">SJYHJ-108</text>
<path d="M535.18,550.77 L655.02,550.77" fill="none" stroke="#b0b0b0" stroke-width="1.25"/>
<circle cx="535.18" cy="550.77" r="2.75" fill="#ffffff" stroke="#b0b0b0" stroke-width="1"/>
<circle cx="546.16" cy="550.77" r="2.75" fill="#ffffff" stroke="#b0b0b0" stroke-width="1"/>
<circle cx="556.91" cy="550.77" r="2.75" fill="#ffffff" stroke="#b0b0b0" stroke-width="1"/>
<circle cx="567.89" cy="550.77" r="2.75" fill="#ffffff" stroke="#b0b0b0" stroke-width="1"/>
<circle cx="578.86" cy="550.77" r="2.75" fill="#ffffff" stroke="#b0b0b0" stroke-width="1"/>
<circle cx="589.61" cy="550.77" r="2.75" fill="#ffffff" stroke="#b0b0b0" stroke-width="1"/>
<circle cx="600.59" cy="550.77" r="2.75" fill="#ffffff" stroke="#b0b0b0" stroke-width="1"/>
<circle cx="611.57" cy="550.77" r="2.75" fill="#ffffff" stroke="#b0b0b0" stroke-width="1"/>
<circle cx="622.31" cy="550.77" r="2.75" fill="#ffffff" stroke="#b0b0b0" stroke-width="1"/>
<circle cx="633.29" cy="550.77" r="2.75" fill="#ffffff" stroke="#b0b0b0" stroke-width="1"/>
<circle cx="643.8" cy="550.77" r="2.75" fill="#ffffff" stroke="#b0b0b0" stroke-width="1"/>
<circle cx="655.02" cy="550.77" r="2.75" fill="#ffffff" stroke="#b0b0b0" stroke-width="1"/>
<path d="M535.18,550.77 L655.02,550.77" fill="none" stroke="#86852a" stroke-width="1.25"/>
<circle cx="535.18" cy="550.77" r="2.75" fill="#efefae" stroke="#86852a" stroke-width="1"/>
<circle cx="546.16" cy="550.77" r="2.75" fill="#efefae" stroke="#86852a" stroke-width="1"/>
<circle cx="556.91" cy="550.77" r="2.75" fill="#efefae" stroke="#86852a" stroke-width="1"/>
<circle cx="567.89" cy="550.77" r="2.75" fill="#efefae" stroke="#86852a" stroke-width="1"/>
<circle cx="578.86" cy="550.77" r="2.75" fill="#efefae" stroke="#86852a" stroke-width="1"/>
<circle cx="589.61" cy="550.77" r="2.75" fill="#efefae" stroke="#86852a" stroke-width="1"/>
<circle cx="600.59" cy="550.77" r="2.75" fill="#efefae" stroke="#86852a" stroke-width="1"/>
<circle cx="611.57" cy="550.77" r="2.75" fill="#efefae" stroke="#86852a" stroke-width="1"/>
<circle cx="622.31" cy="550.77" r="2.75" fill="#efefae" stroke="#86852a" stroke-width="1"/>
<circle cx="633.29" cy="550.77" r="2.75" fill="#efefae" stroke="#86852a" stroke-width="1"/>
<circle cx="643.8" cy="550.77" r="2.75" fill="#efefae" stroke="#86852a" stroke-width="1"/>
<circle cx="655.02" cy="550.77" r="2.75" fill="#efefae" stroke="#86852a" stroke-width="1"/>
<path d="M535.18,549.6 C537.01,549.25 542.54,548.94 546.16,547.5 C549.78,546.06 553.29,545.09 556.91,540.96 C560.53,536.83 564.69,528.58 567.89,522.74 C571.08,516.9 573.34,509.23 576.06,505.92 C578.79,502.61 581.71,502.81 584.24,502.89 C586.77,502.96 588.52,502.69 591.25,506.39 C593.97,510.09 597.2,519.04 600.59,525.08 C603.98,531.11 607.95,538.78 611.57,542.6 C615.19,546.41 615.07,547 622.31,547.97 C629.55,548.94 649.56,548.36 655.02,548.44" fill="none" stroke="#3a49a2" stroke-width="1.25"/>
<circle cx="535.18" cy="549.6" r="2.75" fill="#7a81c4" stroke="#3a49a2" stroke-width="1"/>
<circle cx="546.16" cy="547.27" r="2.75" fill="#7a81c4" stroke="#3a49a2" stroke-width="1"/>
<circle cx="556.91" cy="540.26" r="2.75" fill="#7a81c4" stroke="#3a49a2" stroke-width="1"/>
<circle cx="567.89" cy="522.74" r="2.75" fill="#7a81c4" stroke="#3a49a2" stroke-width="1"/>
<circle cx="578.86" cy="504.05" r="2.75" fill="#7a81c4" stroke="#3a49a2" stroke-width="1"/>
<circle cx="589.61" cy="504.52" r="2.75" fill="#7a81c4" stroke="#3a49a2" stroke-width="1"/>
<circle cx="600.59" cy="525.08" r="2.75" fill="#7a81c4" stroke="#3a49a2" stroke-width="1"/>
<circle cx="611.57" cy="542.6" r="2.75" fill="#7a81c4" stroke="#3a49a2" stroke-width="1"/>
<circle cx="622.31" cy="548.44" r="2.75" fill="#7a81c4" stroke="#3a49a2" stroke-width="1"/>
<circle cx="633.29" cy="548.44" r="2.75" fill="#7a81c4" stroke="#3a49a2" stroke-width="1"/>
<circle cx="643.8" cy="548.44" r="2.75" fill="#7a81c4" stroke="#3a49a2" stroke-width="1"/>
<circle cx="655.02" cy="547.27" r="2.75" fill="#7a81c4" stroke="#3a49a2" stroke-width="1"/>
<path d="M535.18,549.6 L655.02,547.97" fill="none" stroke="#80308f" stroke-width="1.25"/>
<circle cx="535.18" cy="549.6" r="2.75" fill="#e7cde8" stroke="#80308f" stroke-width="1"/>
<circle cx="546.16" cy="549.6" r="2.75" fill="#e7cde8" stroke="#80308f" stroke-width="1"/>
<circle cx="556.91" cy="549.6" r="2.75" fill="#e7cde8" stroke="#80308f" stroke-width="1"/>
<circle cx="567.89" cy="549.6" r="2.75" fill="#e7cde8" stroke="#80308f" stroke-width="1"/>
<circle cx="578.86" cy="548.9" r="2.75" fill="#e7cde8" stroke="#80308f" stroke-width="1"/>
<circle cx="589.61" cy="548.44" r="2.75" fill="#e7cde8" stroke="#80308f" stroke-width="1"/>
<circle cx="600.59" cy="548.44" r="2.75" fill="#e7cde8" stroke="#80308f" stroke-width="1"/>
<circle cx="611.57" cy="548.44" r="2.75" fill="#e7cde8" stroke="#80308f" stroke-width="1"/>
<circle cx="622.31" cy="548.9" r="2.75" fill="#e7cde8" stroke="#80308f" stroke-width="1"/>
<circle cx="633.29" cy="548.44" r="2.75" fill="#e7cde8" stroke="#80308f" stroke-width="1"/>
<circle cx="643.8" cy="547.97" r="2.75" fill="#e7cde8" stroke="#80308f" stroke-width="1"/>
<circle cx="655.02" cy="543.3" r="2.75" fill="#e7cde8" stroke="#80308f" stroke-width="1"/>
<path d="M535.18,549.6 C537.01,549.25 542.54,548.94 546.16,547.5 C549.78,546.06 553.29,545.09 556.91,540.96 C560.53,536.83 564.23,531.23 567.89,522.74 C571.55,514.25 575.24,499.46 578.86,490.04 C582.49,480.62 585.99,467.38 589.61,466.21 C593.23,465.04 596.93,474 600.59,483.03 C604.25,492.06 607.95,511.65 611.57,520.41 C615.19,529.16 618.69,532.01 622.31,535.59 C625.93,539.17 629.71,540.46 633.29,541.9 C636.87,543.34 640.18,543.73 643.8,544.23 C647.42,544.74 653.15,544.82 655.02,544.93" fill="none" stroke="#1f9e6e" stroke-width="1.25"/>
<circle cx="535.18" cy="549.6" r="2.75" fill="#d3eee4" stroke="#1f9e6e" stroke-width="1"/>
<circle cx="546.16" cy="547.27" r="2.75" fill="#d3eee4" stroke="#1f9e6e" stroke-width="1"/>
<circle cx="556.91" cy="540.96" r="2.75" fill="#d3eee4" stroke="#1f9e6e" stroke-width="1"/>
<circle cx="567.89" cy="522.74" r="2.75" fill="#d3eee4" stroke="#1f9e6e" stroke-width="1"/>
<circle cx="578.86" cy="492.37" r="2.75" fill="#d3eee4" stroke="#1f9e6e" stroke-width="1"/>
<circle cx="589.61" cy="466.21" r="2.75" fill="#d3eee4" stroke="#1f9e6e" stroke-width="1"/>
<circle cx="600.59" cy="484.9" r="2.75" fill="#d3eee4" stroke="#1f9e6e" stroke-width="1"/>
<circle cx="611.57" cy="525.08" r="2.75" fill="#d3eee4" stroke="#1f9e6e" stroke-width="1"/>
<circle cx="622.31" cy="536.29" r="2.75" fill="#d3eee4" stroke="#1f9e6e" stroke-width="1"/>
<circle cx="633.29" cy="541.43" r="2.75" fill="#d3eee4" stroke="#1f9e6e" stroke-width="1"/>
<circle cx="643.8" cy="544.93" r="2.75" fill="#d3eee4" stroke="#1f9e6e" stroke-width="1"/>
<circle cx="655.02" cy="544.93" r="2.75" fill="#d3eee4" stroke="#1f9e6e" stroke-width="1"/>
<path d="M535.18,549.6 C537.01,549.25 542.54,548.94 546.16,547.5 C549.78,546.06 553.29,545.09 556.91,540.96 C560.53,536.83 564.23,530.64 567.89,522.74 C571.55,514.84 575.24,501.52 578.86,493.54 C582.49,485.56 585.99,474.66 589.61,474.86 C593.23,475.05 596.93,485.56 600.59,494.71 C604.25,503.86 607.95,521.57 611.57,529.75 C615.19,537.92 618.69,540.96 622.31,543.76 C625.93,546.57 629.71,545.98 633.29,546.57 C636.87,547.15 640.18,547.15 643.8,547.27 C647.42,547.38 653.15,547.27 655.02,547.27" fill="none" stroke="#151515" stroke-width="1.25"/>
<circle cx="535.18" cy="549.6" r="2.75" fill="#cdcdcd" stroke="#151515" stroke-width="1"/>
<circle cx="546.16" cy="547.27" r="2.75" fill="#cdcdcd" stroke="#151515" stroke-width="1"/>
<circle cx="556.91" cy="540.96" r="2.75" fill="#cdcdcd" stroke="#151515" stroke-width="1"/>
<circle cx="567.89" cy="522.74" r="2.75" fill="#cdcdcd" stroke="#151515" stroke-width="1"/>
<circle cx="578.86" cy="489.57" r="2.75" fill="#cdcdcd" stroke="#151515" stroke-width="1"/>
<circle cx="589.61" cy="474.86" r="2.75" fill="#cdcdcd" stroke="#151515" stroke-width="1"/>
<circle cx="600.59" cy="496.58" r="2.75" fill="#cdcdcd" stroke="#151515" stroke-width="1"/>
<circle cx="611.57" cy="533.25" r="2.75" fill="#cdcdcd" stroke="#151515" stroke-width="1"/>
<circle cx="622.31" cy="544.93" r="2.75" fill="#cdcdcd" stroke="#151515" stroke-width="1"/>
<circle cx="633.29" cy="547.27" r="2.75" fill="#cdcdcd" stroke="#151515" stroke-width="1"/>
<circle cx="643.8" cy="547.27" r="2.75" fill="#cdcdcd" stroke="#151515" stroke-width="1"/>
<circle cx="655.02" cy="546.1" r="2.75" fill="#cdcdcd" stroke="#151515" stroke-width="1"/><path d="M40,604 V716.3 H222.2" fill="none" stroke="#111111" stroke-width="1.3"/>
<line x1="35" y1="716.3" x2="40" y2="716.3" stroke="#111111" stroke-width="1.1"/>
<text transform="translate(33,719.5) scale(1.0,1)" font-size="9.0" fill="#1a1a1a" stroke="#1a1a1a" stroke-width="0.22" text-anchor="end" font-weight="normal">0</text>
<line x1="35" y1="688.22" x2="40" y2="688.22" stroke="#111111" stroke-width="1.1"/>
<text transform="translate(33,691.42) scale(1.0,1)" font-size="9.0" fill="#1a1a1a" stroke="#1a1a1a" stroke-width="0.22" text-anchor="end" font-weight="normal">2</text>
<line x1="35" y1="660.15" x2="40" y2="660.15" stroke="#111111" stroke-width="1.1"/>
<text transform="translate(33,663.35) scale(1.0,1)" font-size="9.0" fill="#1a1a1a" stroke="#1a1a1a" stroke-width="0.22" text-anchor="end" font-weight="normal">4</text>
<line x1="35" y1="632.08" x2="40" y2="632.08" stroke="#111111" stroke-width="1.1"/>
<text transform="translate(33,635.28) scale(1.0,1)" font-size="9.0" fill="#1a1a1a" stroke="#1a1a1a" stroke-width="0.22" text-anchor="end" font-weight="normal">6</text>
<line x1="35" y1="604" x2="40" y2="604" stroke="#111111" stroke-width="1.1"/>
<text transform="translate(33,607.2) scale(1.0,1)" font-size="9.0" fill="#1a1a1a" stroke="#1a1a1a" stroke-width="0.22" text-anchor="end" font-weight="normal">8</text>
<line x1="40" y1="716.3" x2="40" y2="721.3" stroke="#111111" stroke-width="1.1"/>
<text transform="translate(40,731) scale(1.0,1)" font-size="9.0" fill="#1a1a1a" stroke="#1a1a1a" stroke-width="0.22" text-anchor="middle" font-weight="normal">0.000001</text>
<line x1="85.55" y1="716.3" x2="85.55" y2="721.3" stroke="#111111" stroke-width="1.1"/>
<text transform="translate(85.55,731) scale(1.0,1)" font-size="9.0" fill="#1a1a1a" stroke="#1a1a1a" stroke-width="0.22" text-anchor="middle" font-weight="normal">0.0001</text>
<line x1="131.1" y1="716.3" x2="131.1" y2="721.3" stroke="#111111" stroke-width="1.1"/>
<text transform="translate(131.1,731) scale(1.0,1)" font-size="9.0" fill="#1a1a1a" stroke="#1a1a1a" stroke-width="0.22" text-anchor="middle" font-weight="normal">0.01</text>
<line x1="176.65" y1="716.3" x2="176.65" y2="721.3" stroke="#111111" stroke-width="1.1"/>
<text transform="translate(176.65,731) scale(1.0,1)" font-size="9.0" fill="#1a1a1a" stroke="#1a1a1a" stroke-width="0.22" text-anchor="middle" font-weight="normal">1</text>
<line x1="222.2" y1="716.3" x2="222.2" y2="721.3" stroke="#111111" stroke-width="1.1"/>
<text transform="translate(222.2,731) scale(1.0,1)" font-size="9.0" fill="#1a1a1a" stroke="#1a1a1a" stroke-width="0.22" text-anchor="middle" font-weight="normal">100</text>
<text transform="translate(131.1,608.3) scale(1.0,1)" font-size="11.8" fill="#1a1a1a" stroke="#1a1a1a" stroke-width="0.22" text-anchor="middle" font-weight="normal">CRBN-PXR LBD Complex</text>
<text transform="translate(131.1,743.2) scale(1.0,1)" font-size="10.2" fill="#1a1a1a" stroke="#1a1a1a" stroke-width="0.22" text-anchor="middle" font-weight="normal">[Compound] (μM)</text>
<text transform="translate(22.8,660) rotate(-90) scale(1.0,1)" font-size="10.2" fill="#1a1a1a" stroke="#1a1a1a" stroke-width="0.22" text-anchor="middle" font-weight="normal">TR-FRET Signal (FC)</text>
<line x1="44.5" y1="620.9" x2="57.7" y2="620.9" stroke="#151515" stroke-width="1.1"/>
<ellipse cx="51.1" cy="620.9" rx="2.85" ry="2.68" fill="#cdcdcd" stroke="#151515" stroke-width="1"/>
<text transform="translate(61.6,624.07) scale(1.0,0.88)" font-size="10.0" fill="#1a1a1a" stroke="#1a1a1a" stroke-width="0.22" text-anchor="start" font-weight="normal">MD-224</text>
<line x1="44.5" y1="629.7" x2="57.7" y2="629.7" stroke="#1f9e6e" stroke-width="1.1"/>
<ellipse cx="51.1" cy="629.7" rx="2.85" ry="2.68" fill="#d3eee4" stroke="#1f9e6e" stroke-width="1"/>
<text transform="translate(61.6,632.87) scale(1.0,0.88)" font-size="10.0" fill="#1a1a1a" stroke="#1a1a1a" stroke-width="0.22" text-anchor="start" font-weight="normal">MD-222</text>
<line x1="44.5" y1="638.5" x2="57.7" y2="638.5" stroke="#80308f" stroke-width="1.1"/>
<ellipse cx="51.1" cy="638.5" rx="2.85" ry="2.68" fill="#e7cde8" stroke="#80308f" stroke-width="1"/>
<text transform="translate(61.6,641.67) scale(1.0,0.88)" font-size="10.0" fill="#1a1a1a" stroke="#1a1a1a" stroke-width="0.22" text-anchor="start" font-weight="normal">MG-277</text>
<line x1="44.5" y1="647.3" x2="57.7" y2="647.3" stroke="#3a49a2" stroke-width="1.1"/>
<ellipse cx="51.1" cy="647.3" rx="2.85" ry="2.68" fill="#7a81c4" stroke="#3a49a2" stroke-width="1"/>
<text transform="translate(61.6,650.47) scale(1.0,0.88)" font-size="10.0" fill="#1a1a1a" stroke="#1a1a1a" stroke-width="0.22" text-anchor="start" font-weight="normal">SJYHJ-048</text>
<line x1="44.5" y1="656.1" x2="57.7" y2="656.1" stroke="#86852a" stroke-width="1.1"/>
<ellipse cx="51.1" cy="656.1" rx="2.85" ry="2.68" fill="#efefae" stroke="#86852a" stroke-width="1"/>
<text transform="translate(61.6,659.27) scale(1.0,0.88)" font-size="10.0" fill="#1a1a1a" stroke="#1a1a1a" stroke-width="0.22" text-anchor="start" font-weight="normal">SJYHJ-059</text>
<line x1="44.5" y1="664.9" x2="57.7" y2="664.9" stroke="#b0b0b0" stroke-width="1.1"/>
<ellipse cx="51.1" cy="664.9" rx="2.85" ry="2.68" fill="#ffffff" stroke="#b0b0b0" stroke-width="1"/>
<text transform="translate(61.6,668.07) scale(1.0,0.88)" font-size="10.0" fill="#1a1a1a" stroke="#1a1a1a" stroke-width="0.22" text-anchor="start" font-weight="normal">SJYHJ-108</text>
<path d="M90.56,701.25 C92.39,701.05 97.88,701.44 101.53,700.08 C105.19,698.71 108.89,695.02 112.51,693.07 C116.13,691.12 119.64,689.57 123.26,688.4 C126.88,687.23 130.66,686.45 134.24,686.06 C137.82,685.67 141.13,686.06 144.75,686.06 C148.37,686.06 152.26,686.06 155.96,686.06 C159.66,686.06 163.36,686.06 166.94,686.06 C170.52,686.06 173.83,686.06 177.45,686.06 C181.07,686.06 184.97,685.98 188.66,686.06 C192.36,686.14 197.81,686.45 199.64,686.53" fill="none" stroke="#b0b0b0" stroke-width="1.25"/>
<circle cx="90.56" cy="701.25" r="2.75" fill="#ffffff" stroke="#b0b0b0" stroke-width="1"/>
<circle cx="101.53" cy="700.08" r="2.75" fill="#ffffff" stroke="#b0b0b0" stroke-width="1"/>
<circle cx="112.51" cy="693.07" r="2.75" fill="#ffffff" stroke="#b0b0b0" stroke-width="1"/>
<circle cx="123.26" cy="688.4" r="2.75" fill="#ffffff" stroke="#b0b0b0" stroke-width="1"/>
<circle cx="134.24" cy="686.06" r="2.75" fill="#ffffff" stroke="#b0b0b0" stroke-width="1"/>
<circle cx="144.75" cy="686.06" r="2.75" fill="#ffffff" stroke="#b0b0b0" stroke-width="1"/>
<circle cx="155.96" cy="686.06" r="2.75" fill="#ffffff" stroke="#b0b0b0" stroke-width="1"/>
<circle cx="166.94" cy="686.06" r="2.75" fill="#ffffff" stroke="#b0b0b0" stroke-width="1"/>
<circle cx="177.45" cy="686.06" r="2.75" fill="#ffffff" stroke="#b0b0b0" stroke-width="1"/>
<circle cx="188.66" cy="686.06" r="2.75" fill="#ffffff" stroke="#b0b0b0" stroke-width="1"/>
<circle cx="199.64" cy="686.53" r="2.75" fill="#ffffff" stroke="#b0b0b0" stroke-width="1"/>
<path d="M90.56,701.95 C92.39,701.95 97.88,702.34 101.53,701.95 C105.19,701.56 108.89,700.23 112.51,699.61 C116.13,698.99 119.64,699.61 123.26,698.21 C126.88,696.81 130.66,693.3 134.24,691.2 C137.82,689.1 141.13,686.45 144.75,685.59 C148.37,684.74 152.26,685.98 155.96,686.06 C159.66,686.14 163.36,685.98 166.94,686.06 C170.52,686.14 173.83,686.45 177.45,686.53 C181.07,686.61 184.97,686.41 188.66,686.53 C192.36,686.65 197.81,687.11 199.64,687.23" fill="none" stroke="#86852a" stroke-width="1.25"/>
<circle cx="90.56" cy="701.95" r="2.75" fill="#efefae" stroke="#86852a" stroke-width="1"/>
<circle cx="101.53" cy="701.95" r="2.75" fill="#efefae" stroke="#86852a" stroke-width="1"/>
<circle cx="112.51" cy="699.61" r="2.75" fill="#efefae" stroke="#86852a" stroke-width="1"/>
<circle cx="123.26" cy="698.21" r="2.75" fill="#efefae" stroke="#86852a" stroke-width="1"/>
<circle cx="134.24" cy="691.2" r="2.75" fill="#efefae" stroke="#86852a" stroke-width="1"/>
<circle cx="144.75" cy="685.59" r="2.75" fill="#efefae" stroke="#86852a" stroke-width="1"/>
<circle cx="155.96" cy="686.06" r="2.75" fill="#efefae" stroke="#86852a" stroke-width="1"/>
<circle cx="166.94" cy="686.06" r="2.75" fill="#efefae" stroke="#86852a" stroke-width="1"/>
<circle cx="177.45" cy="686.53" r="2.75" fill="#efefae" stroke="#86852a" stroke-width="1"/>
<circle cx="188.66" cy="686.53" r="2.75" fill="#efefae" stroke="#86852a" stroke-width="1"/>
<circle cx="199.64" cy="687.23" r="2.75" fill="#efefae" stroke="#86852a" stroke-width="1"/>
<path d="M90.56,696.57 C92.39,695.29 97.88,692.17 101.53,688.86 C105.19,685.56 108.89,680.69 112.51,676.72 C116.13,672.75 119.64,668.43 123.26,665.04 C126.88,661.65 130.66,658.54 134.24,656.4 C137.82,654.25 141.13,653.36 144.75,652.19 C148.37,651.02 152.26,650.44 155.96,649.39 C159.66,648.34 163.36,646.47 166.94,645.88 C170.52,645.3 173.83,645.88 177.45,645.88 C181.07,645.88 184.97,645.34 188.66,645.88 C192.36,646.43 197.81,648.61 199.64,649.15" fill="none" stroke="#3a49a2" stroke-width="1.25"/>
<circle cx="90.56" cy="696.57" r="2.75" fill="#7a81c4" stroke="#3a49a2" stroke-width="1"/>
<circle cx="101.53" cy="688.86" r="2.75" fill="#7a81c4" stroke="#3a49a2" stroke-width="1"/>
<circle cx="112.51" cy="676.72" r="2.75" fill="#7a81c4" stroke="#3a49a2" stroke-width="1"/>
<circle cx="123.26" cy="665.04" r="2.75" fill="#7a81c4" stroke="#3a49a2" stroke-width="1"/>
<circle cx="134.24" cy="656.4" r="2.75" fill="#7a81c4" stroke="#3a49a2" stroke-width="1"/>
<circle cx="144.75" cy="652.19" r="2.75" fill="#7a81c4" stroke="#3a49a2" stroke-width="1"/>
<circle cx="155.96" cy="649.39" r="2.75" fill="#7a81c4" stroke="#3a49a2" stroke-width="1"/>
<circle cx="166.94" cy="645.88" r="2.75" fill="#7a81c4" stroke="#3a49a2" stroke-width="1"/>
<circle cx="177.45" cy="645.88" r="2.75" fill="#7a81c4" stroke="#3a49a2" stroke-width="1"/>
<circle cx="188.66" cy="645.88" r="2.75" fill="#7a81c4" stroke="#3a49a2" stroke-width="1"/>
<circle cx="199.64" cy="649.15" r="2.75" fill="#7a81c4" stroke="#3a49a2" stroke-width="1"/>
<path d="M90.56,701.25 C92.39,701.36 97.88,701.75 101.53,701.95 C105.19,702.14 108.89,702.41 112.51,702.41 C116.13,702.41 119.64,702.02 123.26,701.95 C126.88,701.87 130.66,701.95 134.24,701.95 C137.82,701.95 141.13,701.95 144.75,701.95 C148.37,701.95 152.26,702.06 155.96,701.95 C159.66,701.83 163.36,701.48 166.94,701.25 C170.52,701.01 173.83,700.74 177.45,700.54 C181.07,700.35 184.97,701.4 188.66,700.08 C192.36,698.75 197.81,693.85 199.64,692.6" fill="none" stroke="#80308f" stroke-width="1.25"/>
<circle cx="90.56" cy="701.25" r="2.75" fill="#e7cde8" stroke="#80308f" stroke-width="1"/>
<circle cx="101.53" cy="701.95" r="2.75" fill="#e7cde8" stroke="#80308f" stroke-width="1"/>
<circle cx="112.51" cy="702.41" r="2.75" fill="#e7cde8" stroke="#80308f" stroke-width="1"/>
<circle cx="123.26" cy="701.95" r="2.75" fill="#e7cde8" stroke="#80308f" stroke-width="1"/>
<circle cx="134.24" cy="701.95" r="2.75" fill="#e7cde8" stroke="#80308f" stroke-width="1"/>
<circle cx="144.75" cy="701.95" r="2.75" fill="#e7cde8" stroke="#80308f" stroke-width="1"/>
<circle cx="155.96" cy="701.95" r="2.75" fill="#e7cde8" stroke="#80308f" stroke-width="1"/>
<circle cx="166.94" cy="701.25" r="2.75" fill="#e7cde8" stroke="#80308f" stroke-width="1"/>
<circle cx="177.45" cy="700.54" r="2.75" fill="#e7cde8" stroke="#80308f" stroke-width="1"/>
<circle cx="188.66" cy="700.08" r="2.75" fill="#e7cde8" stroke="#80308f" stroke-width="1"/>
<circle cx="199.64" cy="692.6" r="2.75" fill="#e7cde8" stroke="#80308f" stroke-width="1"/>
<path d="M90.56,702.41 C92.39,702.34 97.88,702.26 101.53,701.95 C105.19,701.63 108.89,701.25 112.51,700.54 C116.13,699.84 119.64,699.06 123.26,697.74 C126.88,696.42 130.66,694.35 134.24,692.6 C137.82,690.85 141.13,688.71 144.75,687.23 C148.37,685.75 152.26,684.89 155.96,683.73 C159.66,682.56 163.36,680.81 166.94,680.22 C170.52,679.64 173.83,679.95 177.45,680.22 C181.07,680.49 184.97,681.08 188.66,681.86 C192.36,682.64 197.81,684.39 199.64,684.89" fill="none" stroke="#1f9e6e" stroke-width="1.25"/>
<circle cx="90.56" cy="702.41" r="2.75" fill="#d3eee4" stroke="#1f9e6e" stroke-width="1"/>
<circle cx="101.53" cy="701.95" r="2.75" fill="#d3eee4" stroke="#1f9e6e" stroke-width="1"/>
<circle cx="112.51" cy="700.54" r="2.75" fill="#d3eee4" stroke="#1f9e6e" stroke-width="1"/>
<circle cx="123.26" cy="697.74" r="2.75" fill="#d3eee4" stroke="#1f9e6e" stroke-width="1"/>
<circle cx="134.24" cy="692.6" r="2.75" fill="#d3eee4" stroke="#1f9e6e" stroke-width="1"/>
<circle cx="144.75" cy="687.23" r="2.75" fill="#d3eee4" stroke="#1f9e6e" stroke-width="1"/>
<circle cx="155.96" cy="683.73" r="2.75" fill="#d3eee4" stroke="#1f9e6e" stroke-width="1"/>
<circle cx="166.94" cy="680.22" r="2.75" fill="#d3eee4" stroke="#1f9e6e" stroke-width="1"/>
<circle cx="177.45" cy="680.22" r="2.75" fill="#d3eee4" stroke="#1f9e6e" stroke-width="1"/>
<circle cx="188.66" cy="681.86" r="2.75" fill="#d3eee4" stroke="#1f9e6e" stroke-width="1"/>
<circle cx="199.64" cy="684.89" r="2.75" fill="#d3eee4" stroke="#1f9e6e" stroke-width="1"/>
<path d="M90.56,701.25 C92.39,700.86 97.88,700.19 101.53,698.91 C105.19,697.62 108.89,695.99 112.51,693.54 C116.13,691.08 119.64,687.46 123.26,684.19 C126.88,680.92 130.66,676.91 134.24,673.91 C137.82,670.92 141.13,668.08 144.75,666.21 C148.37,664.34 152.26,663.87 155.96,662.7 C159.66,661.53 163.36,659.78 166.94,659.2 C170.52,658.61 173.83,659 177.45,659.2 C181.07,659.39 184.97,659.47 188.66,660.37 C192.36,661.26 197.81,663.87 199.64,664.57" fill="none" stroke="#151515" stroke-width="1.25"/>
<circle cx="90.56" cy="701.25" r="2.75" fill="#cdcdcd" stroke="#151515" stroke-width="1"/>
<circle cx="101.53" cy="698.91" r="2.75" fill="#cdcdcd" stroke="#151515" stroke-width="1"/>
<circle cx="112.51" cy="693.54" r="2.75" fill="#cdcdcd" stroke="#151515" stroke-width="1"/>
<circle cx="123.26" cy="684.19" r="2.75" fill="#cdcdcd" stroke="#151515" stroke-width="1"/>
<circle cx="134.24" cy="673.91" r="2.75" fill="#cdcdcd" stroke="#151515" stroke-width="1"/>
<circle cx="144.75" cy="666.21" r="2.75" fill="#cdcdcd" stroke="#151515" stroke-width="1"/>
<circle cx="155.96" cy="662.7" r="2.75" fill="#cdcdcd" stroke="#151515" stroke-width="1"/>
<circle cx="166.94" cy="659.2" r="2.75" fill="#cdcdcd" stroke="#151515" stroke-width="1"/>
<circle cx="177.45" cy="659.2" r="2.75" fill="#cdcdcd" stroke="#151515" stroke-width="1"/>
<circle cx="188.66" cy="660.37" r="2.75" fill="#cdcdcd" stroke="#151515" stroke-width="1"/>
<circle cx="199.64" cy="664.57" r="2.75" fill="#cdcdcd" stroke="#151515" stroke-width="1"/><path d="M267.7,603.6 V716.3 H449.7" fill="none" stroke="#111111" stroke-width="1.3"/>
<line x1="262.7" y1="716.3" x2="267.7" y2="716.3" stroke="#111111" stroke-width="1.1"/>
<text transform="translate(260.7,719.5) scale(1.0,1)" font-size="9.0" fill="#1a1a1a" stroke="#1a1a1a" stroke-width="0.22" text-anchor="end" font-weight="normal">0.0</text>
<line x1="262.7" y1="678.73" x2="267.7" y2="678.73" stroke="#111111" stroke-width="1.1"/>
<text transform="translate(260.7,681.93) scale(1.0,1)" font-size="9.0" fill="#1a1a1a" stroke="#1a1a1a" stroke-width="0.22" text-anchor="end" font-weight="normal">0.5</text>
<line x1="262.7" y1="641.17" x2="267.7" y2="641.17" stroke="#111111" stroke-width="1.1"/>
<text transform="translate(260.7,644.37) scale(1.0,1)" font-size="9.0" fill="#1a1a1a" stroke="#1a1a1a" stroke-width="0.22" text-anchor="end" font-weight="normal">1.0</text>
<line x1="262.7" y1="603.6" x2="267.7" y2="603.6" stroke="#111111" stroke-width="1.1"/>
<text transform="translate(260.7,606.8) scale(1.0,1)" font-size="9.0" fill="#1a1a1a" stroke="#1a1a1a" stroke-width="0.22" text-anchor="end" font-weight="normal">1.5</text>
<line x1="267.7" y1="716.3" x2="267.7" y2="721.3" stroke="#111111" stroke-width="1.1"/>
<text transform="translate(267.7,731) scale(1.0,1)" font-size="9.0" fill="#1a1a1a" stroke="#1a1a1a" stroke-width="0.22" text-anchor="middle" font-weight="normal">0.0001</text>
<line x1="328.37" y1="716.3" x2="328.37" y2="721.3" stroke="#111111" stroke-width="1.1"/>
<text transform="translate(328.37,731) scale(1.0,1)" font-size="9.0" fill="#1a1a1a" stroke="#1a1a1a" stroke-width="0.22" text-anchor="middle" font-weight="normal">0.01</text>
<line x1="389.03" y1="716.3" x2="389.03" y2="721.3" stroke="#111111" stroke-width="1.1"/>
<text transform="translate(389.03,731) scale(1.0,1)" font-size="9.0" fill="#1a1a1a" stroke="#1a1a1a" stroke-width="0.22" text-anchor="middle" font-weight="normal">1</text>
<line x1="449.7" y1="716.3" x2="449.7" y2="721.3" stroke="#111111" stroke-width="1.1"/>
<text transform="translate(449.7,731) scale(1.0,1)" font-size="9.0" fill="#1a1a1a" stroke="#1a1a1a" stroke-width="0.22" text-anchor="middle" font-weight="normal">100</text>
<text transform="translate(358.7,608.3) scale(1.0,1)" font-size="11.8" fill="#1a1a1a" stroke="#1a1a1a" stroke-width="0.22" text-anchor="middle" font-weight="normal">PXR LBD Binding: α2 Probe</text>
<text transform="translate(358.7,743.2) scale(1.0,1)" font-size="10.2" fill="#1a1a1a" stroke="#1a1a1a" stroke-width="0.22" text-anchor="middle" font-weight="normal">[Compound] (μM)</text>
<text transform="translate(242,659) rotate(-90) scale(1.0,1)" font-size="10.2" fill="#1a1a1a" stroke="#1a1a1a" stroke-width="0.22" text-anchor="middle" font-weight="normal">TR-FRET Signal (FC)</text>
<line x1="272.1" y1="665.5" x2="285.3" y2="665.5" stroke="#151515" stroke-width="1.1"/>
<ellipse cx="278.7" cy="665.5" rx="2.85" ry="2.68" fill="#cdcdcd" stroke="#151515" stroke-width="1"/>
<text transform="translate(293.1,668.67) scale(1.0,0.88)" font-size="10.0" fill="#1a1a1a" stroke="#1a1a1a" stroke-width="0.22" text-anchor="start" font-weight="normal">MD-224</text>
<line x1="272.1" y1="674.42" x2="285.3" y2="674.42" stroke="#1f9e6e" stroke-width="1.1"/>
<ellipse cx="278.7" cy="674.42" rx="2.85" ry="2.68" fill="#d3eee4" stroke="#1f9e6e" stroke-width="1"/>
<text transform="translate(293.1,677.59) scale(1.0,0.88)" font-size="10.0" fill="#1a1a1a" stroke="#1a1a1a" stroke-width="0.22" text-anchor="start" font-weight="normal">MD-222</text>
<line x1="272.1" y1="683.34" x2="285.3" y2="683.34" stroke="#80308f" stroke-width="1.1"/>
<ellipse cx="278.7" cy="683.34" rx="2.85" ry="2.68" fill="#e7cde8" stroke="#80308f" stroke-width="1"/>
<text transform="translate(293.1,686.51) scale(1.0,0.88)" font-size="10.0" fill="#1a1a1a" stroke="#1a1a1a" stroke-width="0.22" text-anchor="start" font-weight="normal">MG-277</text>
<line x1="272.1" y1="692.26" x2="285.3" y2="692.26" stroke="#3a49a2" stroke-width="1.1"/>
<ellipse cx="278.7" cy="692.26" rx="2.85" ry="2.68" fill="#7a81c4" stroke="#3a49a2" stroke-width="1"/>
<text transform="translate(293.1,695.43) scale(1.0,0.88)" font-size="10.0" fill="#1a1a1a" stroke="#1a1a1a" stroke-width="0.22" text-anchor="start" font-weight="normal">SJYHJ-048</text>
<line x1="272.1" y1="701.18" x2="285.3" y2="701.18" stroke="#86852a" stroke-width="1.1"/>
<ellipse cx="278.7" cy="701.18" rx="2.85" ry="2.68" fill="#efefae" stroke="#86852a" stroke-width="1"/>
<text transform="translate(293.1,704.35) scale(1.0,0.88)" font-size="10.0" fill="#1a1a1a" stroke="#1a1a1a" stroke-width="0.22" text-anchor="start" font-weight="normal">SJYHJ-059</text>
<line x1="272.1" y1="710.1" x2="285.3" y2="710.1" stroke="#b0b0b0" stroke-width="1.1"/>
<ellipse cx="278.7" cy="710.1" rx="2.85" ry="2.68" fill="#ffffff" stroke="#b0b0b0" stroke-width="1"/>
<text transform="translate(293.1,713.27) scale(1.0,0.88)" font-size="10.0" fill="#1a1a1a" stroke="#1a1a1a" stroke-width="0.22" text-anchor="start" font-weight="normal">SJYHJ-108</text>
<path d="M274.57,638.44 C275.12,638.45 276.79,638.49 277.9,638.52 C279.01,638.56 280.13,638.59 281.24,638.63 C282.35,638.68 283.46,638.72 284.57,638.77 C285.68,638.82 286.8,638.88 287.91,638.94 C289.02,639.01 290.13,639.08 291.24,639.16 C292.35,639.24 293.47,639.32 294.58,639.42 C295.69,639.52 296.8,639.63 297.91,639.75 C299.02,639.87 300.14,640 301.25,640.15 C302.36,640.3 303.47,640.46 304.58,640.65 C305.69,640.83 306.81,641.03 307.92,641.26 C309.03,641.49 310.14,641.73 311.25,642.01 C312.36,642.29 313.47,642.59 314.59,642.92 C315.7,643.26 316.81,643.62 317.92,644.03 C319.03,644.44 320.14,644.87 321.26,645.36 C322.37,645.85 323.48,646.37 324.59,646.95 C325.7,647.53 326.81,648.15 327.93,648.83 C329.04,649.51 330.15,650.24 331.26,651.03 C332.37,651.82 333.48,652.66 334.6,653.57 C335.71,654.47 336.82,655.43 337.93,656.44 C339.04,657.46 340.15,658.53 341.26,659.65 C342.38,660.78 343.49,661.95 344.6,663.17 C345.71,664.38 346.82,665.65 347.93,666.93 C349.05,668.21 350.16,669.54 351.27,670.87 C352.38,672.19 353.49,673.55 354.6,674.89 C355.72,676.23 356.83,677.58 357.94,678.9 C359.05,680.22 360.16,681.54 361.27,682.81 C362.39,684.08 363.5,685.32 364.61,686.52 C365.72,687.71 366.83,688.87 367.94,689.96 C369.06,691.06 370.17,692.11 371.28,693.1 C372.39,694.09 373.5,695.02 374.61,695.9 C375.72,696.77 376.84,697.59 377.95,698.35 C379.06,699.11 380.17,699.82 381.28,700.47 C382.39,701.13 383.51,701.73 384.62,702.28 C385.73,702.84 386.84,703.34 387.95,703.81 C389.06,704.28 390.18,704.7 391.29,705.08 C392.4,705.47 393.51,705.82 394.62,706.14 C395.73,706.46 396.85,706.75 397.96,707.02 C399.07,707.28 400.18,707.51 401.29,707.73 C402.4,707.95 404.07,708.22 404.63,708.31" fill="none" stroke="#b0b0b0" stroke-width="1.25"/>
<circle cx="274.57" cy="638.9" r="2.75" fill="#ffffff" stroke="#b0b0b0" stroke-width="1"/>
<circle cx="289.02" cy="639.43" r="2.75" fill="#ffffff" stroke="#b0b0b0" stroke-width="1"/>
<circle cx="303.47" cy="640.22" r="2.75" fill="#ffffff" stroke="#b0b0b0" stroke-width="1"/>
<circle cx="317.92" cy="642.84" r="2.75" fill="#ffffff" stroke="#b0b0b0" stroke-width="1"/>
<circle cx="332.37" cy="652.04" r="2.75" fill="#ffffff" stroke="#b0b0b0" stroke-width="1"/>
<circle cx="346.82" cy="666.49" r="2.75" fill="#ffffff" stroke="#b0b0b0" stroke-width="1"/>
<circle cx="361.27" cy="682.25" r="2.75" fill="#ffffff" stroke="#b0b0b0" stroke-width="1"/>
<circle cx="375.72" cy="696.71" r="2.75" fill="#ffffff" stroke="#b0b0b0" stroke-width="1"/>
<circle cx="390.18" cy="704.59" r="2.75" fill="#ffffff" stroke="#b0b0b0" stroke-width="1"/>
<circle cx="404.63" cy="708.53" r="2.75" fill="#ffffff" stroke="#b0b0b0" stroke-width="1"/>
<circle cx="434.32" cy="702.49" r="2.75" fill="#ffffff" stroke="#b0b0b0" stroke-width="1"/>
<path d="M274.57,639.28 C275.25,639.28 277.3,639.29 278.66,639.3 C280.03,639.3 281.4,639.31 282.76,639.31 C284.13,639.32 285.49,639.32 286.86,639.33 C288.22,639.34 289.59,639.35 290.95,639.36 C292.32,639.37 293.68,639.38 295.05,639.4 C296.41,639.41 297.78,639.43 299.15,639.44 C300.51,639.46 301.88,639.48 303.24,639.51 C304.61,639.53 305.97,639.55 307.34,639.59 C308.7,639.62 310.07,639.65 311.43,639.69 C312.8,639.73 314.16,639.78 315.53,639.83 C316.89,639.88 318.26,639.94 319.63,640.01 C320.99,640.07 322.36,640.15 323.72,640.24 C325.09,640.33 326.45,640.42 327.82,640.54 C329.18,640.66 330.55,640.78 331.91,640.93 C333.28,641.08 334.64,641.24 336.01,641.43 C337.38,641.63 338.74,641.84 340.11,642.08 C341.47,642.33 342.84,642.6 344.2,642.91 C345.57,643.23 346.93,643.57 348.3,643.97 C349.66,644.37 351.03,644.81 352.39,645.31 C353.76,645.81 355.13,646.36 356.49,646.98 C357.86,647.61 359.22,648.29 360.59,649.05 C361.95,649.82 363.32,650.65 364.68,651.57 C366.05,652.49 367.41,653.49 368.78,654.58 C370.14,655.67 371.51,656.85 372.87,658.1 C374.24,659.36 375.61,660.71 376.97,662.12 C378.34,663.53 379.7,665.04 381.07,666.57 C382.43,668.11 383.8,669.73 385.16,671.35 C386.53,672.97 387.89,674.65 389.26,676.3 C390.62,677.95 391.99,679.63 393.36,681.26 C394.72,682.88 396.09,684.5 397.45,686.04 C398.82,687.58 400.18,689.09 401.55,690.5 C402.91,691.92 404.28,693.27 405.64,694.53 C407.01,695.8 408.37,696.98 409.74,698.07 C411.11,699.17 412.47,700.17 413.84,701.1 C415.2,702.03 416.57,702.86 417.93,703.63 C419.3,704.4 420.66,705.08 422.03,705.71 C423.39,706.34 424.76,706.89 426.12,707.4 C427.49,707.9 428.85,708.34 430.22,708.74 C431.59,709.14 433.63,709.63 434.32,709.81" fill="none" stroke="#86852a" stroke-width="1.25"/>
<circle cx="274.57" cy="638.9" r="2.75" fill="#efefae" stroke="#86852a" stroke-width="1"/>
<circle cx="289.02" cy="638.9" r="2.75" fill="#efefae" stroke="#86852a" stroke-width="1"/>
<circle cx="303.47" cy="640.22" r="2.75" fill="#efefae" stroke="#86852a" stroke-width="1"/>
<circle cx="317.92" cy="640.22" r="2.75" fill="#efefae" stroke="#86852a" stroke-width="1"/>
<circle cx="332.37" cy="640.22" r="2.75" fill="#efefae" stroke="#86852a" stroke-width="1"/>
<circle cx="346.82" cy="644.16" r="2.75" fill="#efefae" stroke="#86852a" stroke-width="1"/>
<circle cx="361.27" cy="649.41" r="2.75" fill="#efefae" stroke="#86852a" stroke-width="1"/>
<circle cx="375.72" cy="661.23" r="2.75" fill="#efefae" stroke="#86852a" stroke-width="1"/>
<circle cx="390.18" cy="677" r="2.75" fill="#efefae" stroke="#86852a" stroke-width="1"/>
<circle cx="404.63" cy="692.76" r="2.75" fill="#efefae" stroke="#86852a" stroke-width="1"/>
<circle cx="419.6" cy="706.69" r="2.75" fill="#efefae" stroke="#86852a" stroke-width="1"/>
<circle cx="434.32" cy="708.53" r="2.75" fill="#efefae" stroke="#86852a" stroke-width="1"/>
<path d="M274.57,638.98 C275.25,638.98 277.3,638.98 278.66,638.98 C280.03,638.98 281.4,638.98 282.76,638.98 C284.13,638.98 285.49,638.98 286.86,638.98 C288.22,638.98 289.59,638.98 290.95,638.99 C292.32,638.99 293.68,638.99 295.05,638.99 C296.41,638.99 297.78,638.99 299.15,639 C300.51,639 301.88,639 303.24,639.01 C304.61,639.01 305.97,639.01 307.34,639.02 C308.7,639.03 310.07,639.03 311.43,639.04 C312.8,639.04 314.16,639.05 315.53,639.06 C316.89,639.07 318.26,639.08 319.63,639.09 C320.99,639.11 322.36,639.12 323.72,639.14 C325.09,639.16 326.45,639.17 327.82,639.2 C329.18,639.22 330.55,639.25 331.91,639.28 C333.28,639.31 334.64,639.35 336.01,639.39 C337.38,639.44 338.74,639.48 340.11,639.54 C341.47,639.6 342.84,639.67 344.2,639.75 C345.57,639.83 346.93,639.92 348.3,640.03 C349.66,640.14 351.03,640.25 352.39,640.4 C353.76,640.55 355.13,640.71 356.49,640.9 C357.86,641.1 359.22,641.31 360.59,641.58 C361.95,641.84 363.32,642.12 364.68,642.47 C366.05,642.81 367.41,643.19 368.78,643.64 C370.14,644.08 371.51,644.58 372.87,645.16 C374.24,645.73 375.61,646.37 376.97,647.1 C378.34,647.83 379.7,648.63 381.07,649.53 C382.43,650.43 383.8,651.41 385.16,652.49 C386.53,653.57 387.89,654.75 389.26,656.01 C390.62,657.26 391.99,658.61 393.36,660.01 C394.72,661.41 396.09,662.9 397.45,664.4 C398.82,665.89 400.18,667.46 401.55,668.99 C402.91,670.52 404.28,672.08 405.64,673.57 C407.01,675.06 408.37,676.54 409.74,677.93 C411.11,679.32 412.47,680.66 413.84,681.9 C415.2,683.13 416.57,684.3 417.93,685.36 C419.3,686.43 420.66,687.4 422.03,688.28 C423.39,689.17 424.76,689.95 426.12,690.67 C427.49,691.38 428.85,692 430.22,692.57 C431.59,693.13 433.63,693.81 434.32,694.06" fill="none" stroke="#3a49a2" stroke-width="1.25"/>
<path d="M361.27,636.8 V656.77 M358.47,636.8 h5.6 M358.47,656.77 h5.6" stroke="#3a49a2" stroke-width="0.8" fill="none"/>
<circle cx="274.57" cy="638.9" r="2.75" fill="#7a81c4" stroke="#3a49a2" stroke-width="1"/>
<circle cx="289.02" cy="638.38" r="2.75" fill="#7a81c4" stroke="#3a49a2" stroke-width="1"/>
<circle cx="303.47" cy="638.38" r="2.75" fill="#7a81c4" stroke="#3a49a2" stroke-width="1"/>
<circle cx="317.92" cy="638.38" r="2.75" fill="#7a81c4" stroke="#3a49a2" stroke-width="1"/>
<circle cx="332.37" cy="638.9" r="2.75" fill="#7a81c4" stroke="#3a49a2" stroke-width="1"/>
<circle cx="346.82" cy="638.9" r="2.75" fill="#7a81c4" stroke="#3a49a2" stroke-width="1"/>
<circle cx="361.27" cy="646.78" r="2.75" fill="#7a81c4" stroke="#3a49a2" stroke-width="1"/>
<circle cx="375.72" cy="645.47" r="2.75" fill="#7a81c4" stroke="#3a49a2" stroke-width="1"/>
<circle cx="390.18" cy="655.98" r="2.75" fill="#7a81c4" stroke="#3a49a2" stroke-width="1"/>
<circle cx="404.63" cy="671.74" r="2.75" fill="#7a81c4" stroke="#3a49a2" stroke-width="1"/>
<circle cx="419.6" cy="688.82" r="2.75" fill="#7a81c4" stroke="#3a49a2" stroke-width="1"/>
<circle cx="434.32" cy="692.76" r="2.75" fill="#7a81c4" stroke="#3a49a2" stroke-width="1"/>
<path d="M274.57,640.64 C275.12,640.66 276.79,640.72 277.9,640.76 C279.01,640.8 280.13,640.85 281.24,640.9 C282.35,640.96 283.46,641.01 284.57,641.08 C285.68,641.14 286.8,641.21 287.91,641.29 C289.02,641.37 290.13,641.46 291.24,641.56 C292.35,641.66 293.47,641.76 294.58,641.88 C295.69,642 296.8,642.13 297.91,642.28 C299.02,642.43 300.14,642.59 301.25,642.77 C302.36,642.95 303.47,643.14 304.58,643.36 C305.69,643.58 306.81,643.81 307.92,644.08 C309.03,644.34 310.14,644.62 311.25,644.94 C312.36,645.26 313.47,645.6 314.59,645.98 C315.7,646.36 316.81,646.77 317.92,647.23 C319.03,647.68 320.14,648.17 321.26,648.7 C322.37,649.24 323.48,649.81 324.59,650.44 C325.7,651.07 326.81,651.74 327.93,652.46 C329.04,653.18 330.15,653.96 331.26,654.78 C332.37,655.61 333.48,656.49 334.6,657.42 C335.71,658.35 336.82,659.33 337.93,660.37 C339.04,661.4 340.15,662.48 341.26,663.6 C342.38,664.72 343.49,665.89 344.6,667.09 C345.71,668.28 346.82,669.52 347.93,670.77 C349.05,672.02 350.16,673.31 351.27,674.58 C352.38,675.86 353.49,677.16 354.6,678.43 C355.72,679.71 356.83,680.99 357.94,682.24 C359.05,683.49 360.16,684.73 361.27,685.92 C362.39,687.12 363.5,688.29 364.61,689.41 C365.72,690.53 366.83,691.61 367.94,692.64 C369.06,693.67 370.17,694.65 371.28,695.58 C372.39,696.51 373.5,697.39 374.61,698.22 C375.72,699.04 376.84,699.81 377.95,700.54 C379.06,701.26 380.17,701.93 381.28,702.55 C382.39,703.18 383.51,703.75 384.62,704.29 C385.73,704.82 386.84,705.31 387.95,705.76 C389.06,706.21 390.18,706.62 391.29,707 C392.4,707.38 393.51,707.72 394.62,708.04 C395.73,708.36 396.85,708.64 397.96,708.9 C399.07,709.17 400.18,709.4 401.29,709.62 C402.4,709.84 404.07,710.11 404.63,710.21" fill="none" stroke="#80308f" stroke-width="1.25"/>
<path d="M274.57,622.61 V659.4 M271.77,622.61 h5.6 M271.77,659.4 h5.6" stroke="#80308f" stroke-width="0.8" fill="none"/>
<path d="M303.47,637.85 V649.41 M300.67,637.85 h5.6 M300.67,649.41 h5.6" stroke="#80308f" stroke-width="0.8" fill="none"/>
<circle cx="274.57" cy="641" r="2.75" fill="#e7cde8" stroke="#80308f" stroke-width="1"/>
<circle cx="289.02" cy="641" r="2.75" fill="#e7cde8" stroke="#80308f" stroke-width="1"/>
<circle cx="303.47" cy="643.63" r="2.75" fill="#e7cde8" stroke="#80308f" stroke-width="1"/>
<circle cx="317.92" cy="646.78" r="2.75" fill="#e7cde8" stroke="#80308f" stroke-width="1"/>
<circle cx="332.37" cy="654.67" r="2.75" fill="#e7cde8" stroke="#80308f" stroke-width="1"/>
<circle cx="346.82" cy="671.74" r="2.75" fill="#e7cde8" stroke="#80308f" stroke-width="1"/>
<circle cx="361.27" cy="683.57" r="2.75" fill="#e7cde8" stroke="#80308f" stroke-width="1"/>
<circle cx="375.72" cy="700.65" r="2.75" fill="#e7cde8" stroke="#80308f" stroke-width="1"/>
<circle cx="390.18" cy="705.9" r="2.75" fill="#e7cde8" stroke="#80308f" stroke-width="1"/>
<circle cx="404.63" cy="710.37" r="2.75" fill="#e7cde8" stroke="#80308f" stroke-width="1"/>
<path d="M274.57,634.92 C275.25,634.92 277.3,634.92 278.66,634.92 C280.03,634.92 281.4,634.92 282.76,634.92 C284.13,634.92 285.49,634.92 286.86,634.92 C288.22,634.92 289.59,634.92 290.95,634.92 C292.32,634.93 293.68,634.93 295.05,634.93 C296.41,634.93 297.78,634.93 299.15,634.93 C300.51,634.93 301.88,634.93 303.24,634.93 C304.61,634.94 305.97,634.94 307.34,634.94 C308.7,634.94 310.07,634.94 311.43,634.95 C312.8,634.95 314.16,634.95 315.53,634.96 C316.89,634.96 318.26,634.97 319.63,634.97 C320.99,634.98 322.36,634.99 323.72,634.99 C325.09,635 326.45,635.01 327.82,635.02 C329.18,635.04 330.55,635.05 331.91,635.06 C333.28,635.08 334.64,635.1 336.01,635.12 C337.38,635.14 338.74,635.17 340.11,635.2 C341.47,635.23 342.84,635.27 344.2,635.31 C345.57,635.35 346.93,635.4 348.3,635.46 C349.66,635.52 351.03,635.59 352.39,635.67 C353.76,635.75 355.13,635.84 356.49,635.96 C357.86,636.07 359.22,636.2 360.59,636.35 C361.95,636.51 363.32,636.68 364.68,636.89 C366.05,637.11 367.41,637.34 368.78,637.63 C370.14,637.91 371.51,638.23 372.87,638.61 C374.24,639 375.61,639.42 376.97,639.92 C378.34,640.43 379.7,640.99 381.07,641.64 C382.43,642.29 383.8,643.01 385.16,643.83 C386.53,644.65 387.89,645.55 389.26,646.55 C390.62,647.55 391.99,648.65 393.36,649.83 C394.72,651.01 396.09,652.29 397.45,653.62 C398.82,654.94 400.18,656.37 401.55,657.79 C402.91,659.21 404.28,660.71 405.64,662.16 C407.01,663.61 408.37,665.09 409.74,666.49 C411.11,667.9 412.47,669.28 413.84,670.57 C415.2,671.86 416.57,673.09 417.93,674.22 C419.3,675.35 420.66,676.39 422.03,677.34 C423.39,678.28 424.76,679.13 426.12,679.9 C427.49,680.67 428.85,681.34 430.22,681.94 C431.59,682.55 433.63,683.27 434.32,683.53" fill="none" stroke="#1f9e6e" stroke-width="1.25"/>
<path d="M274.57,624.45 V637.59 M271.77,624.45 h5.6 M271.77,637.59 h5.6" stroke="#1f9e6e" stroke-width="0.8" fill="none"/>
<path d="M404.63,653.88 V663.34 M401.83,653.88 h5.6 M401.83,663.34 h5.6" stroke="#1f9e6e" stroke-width="0.8" fill="none"/>
<circle cx="274.57" cy="631.02" r="2.75" fill="#d3eee4" stroke="#1f9e6e" stroke-width="1"/>
<circle cx="289.02" cy="634.96" r="2.75" fill="#d3eee4" stroke="#1f9e6e" stroke-width="1"/>
<circle cx="303.47" cy="634.96" r="2.75" fill="#d3eee4" stroke="#1f9e6e" stroke-width="1"/>
<circle cx="317.92" cy="636.27" r="2.75" fill="#d3eee4" stroke="#1f9e6e" stroke-width="1"/>
<circle cx="332.37" cy="636.27" r="2.75" fill="#d3eee4" stroke="#1f9e6e" stroke-width="1"/>
<circle cx="346.82" cy="636.27" r="2.75" fill="#d3eee4" stroke="#1f9e6e" stroke-width="1"/>
<circle cx="361.27" cy="636.27" r="2.75" fill="#d3eee4" stroke="#1f9e6e" stroke-width="1"/>
<circle cx="375.72" cy="640.22" r="2.75" fill="#d3eee4" stroke="#1f9e6e" stroke-width="1"/>
<circle cx="390.18" cy="648.1" r="2.75" fill="#d3eee4" stroke="#1f9e6e" stroke-width="1"/>
<circle cx="404.63" cy="658.61" r="2.75" fill="#d3eee4" stroke="#1f9e6e" stroke-width="1"/>
<circle cx="419.6" cy="678.31" r="2.75" fill="#d3eee4" stroke="#1f9e6e" stroke-width="1"/>
<circle cx="434.32" cy="682.25" r="2.75" fill="#d3eee4" stroke="#1f9e6e" stroke-width="1"/>
<path d="M274.57,634.15 C275.25,634.15 277.3,634.15 278.66,634.15 C280.03,634.15 281.4,634.15 282.76,634.15 C284.13,634.15 285.49,634.15 286.86,634.15 C288.22,634.15 289.59,634.15 290.95,634.15 C292.32,634.16 293.68,634.16 295.05,634.16 C296.41,634.16 297.78,634.16 299.15,634.16 C300.51,634.16 301.88,634.16 303.24,634.16 C304.61,634.16 305.97,634.16 307.34,634.16 C308.7,634.16 310.07,634.17 311.43,634.17 C312.8,634.17 314.16,634.17 315.53,634.17 C316.89,634.18 318.26,634.18 319.63,634.19 C320.99,634.19 322.36,634.19 323.72,634.2 C325.09,634.21 326.45,634.21 327.82,634.22 C329.18,634.23 330.55,634.24 331.91,634.25 C333.28,634.27 334.64,634.28 336.01,634.3 C337.38,634.32 338.74,634.34 340.11,634.36 C341.47,634.39 342.84,634.42 344.2,634.46 C345.57,634.5 346.93,634.54 348.3,634.6 C349.66,634.65 351.03,634.72 352.39,634.8 C353.76,634.88 355.13,634.97 356.49,635.08 C357.86,635.2 359.22,635.33 360.59,635.5 C361.95,635.66 363.32,635.85 364.68,636.09 C366.05,636.33 367.41,636.59 368.78,636.93 C370.14,637.26 371.51,637.64 372.87,638.1 C374.24,638.57 375.61,639.09 376.97,639.73 C378.34,640.37 379.7,641.08 381.07,641.93 C382.43,642.78 383.8,643.73 385.16,644.83 C386.53,645.93 387.89,647.15 389.26,648.51 C390.62,649.87 391.99,651.38 393.36,652.97 C394.72,654.57 396.09,656.32 397.45,658.09 C398.82,659.87 400.18,661.76 401.55,663.6 C402.91,665.45 404.28,667.35 405.64,669.14 C407.01,670.93 408.37,672.71 409.74,674.34 C411.11,675.97 412.47,677.52 413.84,678.92 C415.2,680.31 416.57,681.58 417.93,682.72 C419.3,683.85 420.66,684.85 422.03,685.73 C423.39,686.62 424.76,687.36 426.12,688.03 C427.49,688.7 428.85,689.24 430.22,689.73 C431.59,690.22 433.63,690.76 434.32,690.97" fill="none" stroke="#151515" stroke-width="1.25"/>
<path d="M289.02,630.23 V638.11 M286.22,630.23 h5.6 M286.22,638.11 h5.6" stroke="#151515" stroke-width="0.8" fill="none"/>
<path d="M303.47,629.71 V637.59 M300.67,629.71 h5.6 M300.67,637.59 h5.6" stroke="#151515" stroke-width="0.8" fill="none"/>
<path d="M317.92,629.71 V637.59 M315.12,629.71 h5.6 M315.12,637.59 h5.6" stroke="#151515" stroke-width="0.8" fill="none"/>
<path d="M332.37,628.39 V638.9 M329.57,628.39 h5.6 M329.57,638.9 h5.6" stroke="#151515" stroke-width="0.8" fill="none"/>
<path d="M346.82,631.02 V638.9 M344.02,631.02 h5.6 M344.02,638.9 h5.6" stroke="#151515" stroke-width="0.8" fill="none"/>
<path d="M361.27,632.33 V640.22 M358.47,632.33 h5.6 M358.47,640.22 h5.6" stroke="#151515" stroke-width="0.8" fill="none"/>
<path d="M390.18,642.84 V655.98 M387.38,642.84 h5.6 M387.38,655.98 h5.6" stroke="#151515" stroke-width="0.8" fill="none"/>
<circle cx="274.57" cy="634.96" r="2.75" fill="#cdcdcd" stroke="#151515" stroke-width="1"/>
<circle cx="289.02" cy="634.17" r="2.75" fill="#cdcdcd" stroke="#151515" stroke-width="1"/>
<circle cx="303.47" cy="633.65" r="2.75" fill="#cdcdcd" stroke="#151515" stroke-width="1"/>
<circle cx="317.92" cy="633.65" r="2.75" fill="#cdcdcd" stroke="#151515" stroke-width="1"/>
<circle cx="332.37" cy="633.65" r="2.75" fill="#cdcdcd" stroke="#151515" stroke-width="1"/>
<circle cx="346.82" cy="634.96" r="2.75" fill="#cdcdcd" stroke="#151515" stroke-width="1"/>
<circle cx="361.27" cy="636.27" r="2.75" fill="#cdcdcd" stroke="#151515" stroke-width="1"/>
<circle cx="375.72" cy="638.9" r="2.75" fill="#cdcdcd" stroke="#151515" stroke-width="1"/>
<circle cx="390.18" cy="649.41" r="2.75" fill="#cdcdcd" stroke="#151515" stroke-width="1"/>
<circle cx="404.63" cy="667.8" r="2.75" fill="#cdcdcd" stroke="#151515" stroke-width="1"/>
<circle cx="419.6" cy="684.09" r="2.75" fill="#cdcdcd" stroke="#151515" stroke-width="1"/>
<circle cx="434.32" cy="690.92" r="2.75" fill="#cdcdcd" stroke="#151515" stroke-width="1"/><path d="M495.3,604.1 V716.3 H677.3" fill="none" stroke="#111111" stroke-width="1.3"/>
<line x1="490.3" y1="716.3" x2="495.3" y2="716.3" stroke="#111111" stroke-width="1.1"/>
<text transform="translate(488.3,719.5) scale(1.0,1)" font-size="9.0" fill="#1a1a1a" stroke="#1a1a1a" stroke-width="0.22" text-anchor="end" font-weight="normal">0.0</text>
<line x1="490.3" y1="688.25" x2="495.3" y2="688.25" stroke="#111111" stroke-width="1.1"/>
<text transform="translate(488.3,691.45) scale(1.0,1)" font-size="9.0" fill="#1a1a1a" stroke="#1a1a1a" stroke-width="0.22" text-anchor="end" font-weight="normal">0.5</text>
<line x1="490.3" y1="660.2" x2="495.3" y2="660.2" stroke="#111111" stroke-width="1.1"/>
<text transform="translate(488.3,663.4) scale(1.0,1)" font-size="9.0" fill="#1a1a1a" stroke="#1a1a1a" stroke-width="0.22" text-anchor="end" font-weight="normal">1.0</text>
<line x1="490.3" y1="632.15" x2="495.3" y2="632.15" stroke="#111111" stroke-width="1.1"/>
<text transform="translate(488.3,635.35) scale(1.0,1)" font-size="9.0" fill="#1a1a1a" stroke="#1a1a1a" stroke-width="0.22" text-anchor="end" font-weight="normal">1.5</text>
<line x1="490.3" y1="604.1" x2="495.3" y2="604.1" stroke="#111111" stroke-width="1.1"/>
<text transform="translate(488.3,607.3) scale(1.0,1)" font-size="9.0" fill="#1a1a1a" stroke="#1a1a1a" stroke-width="0.22" text-anchor="end" font-weight="normal">2.0</text>
<line x1="495.3" y1="716.3" x2="495.3" y2="721.3" stroke="#111111" stroke-width="1.1"/>
<text transform="translate(495.3,731) scale(1.0,1)" font-size="9.0" fill="#1a1a1a" stroke="#1a1a1a" stroke-width="0.22" text-anchor="middle" font-weight="normal">0.0001</text>
<line x1="555.97" y1="716.3" x2="555.97" y2="721.3" stroke="#111111" stroke-width="1.1"/>
<text transform="translate(555.97,731) scale(1.0,1)" font-size="9.0" fill="#1a1a1a" stroke="#1a1a1a" stroke-width="0.22" text-anchor="middle" font-weight="normal">0.01</text>
<line x1="616.63" y1="716.3" x2="616.63" y2="721.3" stroke="#111111" stroke-width="1.1"/>
<text transform="translate(616.63,731) scale(1.0,1)" font-size="9.0" fill="#1a1a1a" stroke="#1a1a1a" stroke-width="0.22" text-anchor="middle" font-weight="normal">1</text>
<line x1="677.3" y1="716.3" x2="677.3" y2="721.3" stroke="#111111" stroke-width="1.1"/>
<text transform="translate(677.3,731) scale(1.0,1)" font-size="9.0" fill="#1a1a1a" stroke="#1a1a1a" stroke-width="0.22" text-anchor="middle" font-weight="normal">100</text>
<text transform="translate(586.3,608.3) scale(1.0,1)" font-size="11.8" fill="#1a1a1a" stroke="#1a1a1a" stroke-width="0.22" text-anchor="middle" font-weight="normal">PXR LBD Binding: α12 Probe</text>
<text transform="translate(586.3,743.2) scale(1.0,1)" font-size="10.2" fill="#1a1a1a" stroke="#1a1a1a" stroke-width="0.22" text-anchor="middle" font-weight="normal">[Compound] (μM)</text>
<text transform="translate(469.6,659) rotate(-90) scale(1.0,1)" font-size="10.2" fill="#1a1a1a" stroke="#1a1a1a" stroke-width="0.22" text-anchor="middle" font-weight="normal">TR-FRET Signal (FC)</text>
<line x1="500.1" y1="665.8" x2="513.3" y2="665.8" stroke="#151515" stroke-width="1.1"/>
<ellipse cx="506.7" cy="665.8" rx="2.85" ry="2.68" fill="#cdcdcd" stroke="#151515" stroke-width="1"/>
<text transform="translate(517.2,668.97) scale(1.0,0.88)" font-size="10.0" fill="#1a1a1a" stroke="#1a1a1a" stroke-width="0.22" text-anchor="start" font-weight="normal">MD-224</text>
<line x1="500.1" y1="674.66" x2="513.3" y2="674.66" stroke="#1f9e6e" stroke-width="1.1"/>
<ellipse cx="506.7" cy="674.66" rx="2.85" ry="2.68" fill="#d3eee4" stroke="#1f9e6e" stroke-width="1"/>
<text transform="translate(517.2,677.83) scale(1.0,0.88)" font-size="10.0" fill="#1a1a1a" stroke="#1a1a1a" stroke-width="0.22" text-anchor="start" font-weight="normal">MD-222</text>
<line x1="500.1" y1="683.52" x2="513.3" y2="683.52" stroke="#80308f" stroke-width="1.1"/>
<ellipse cx="506.7" cy="683.52" rx="2.85" ry="2.68" fill="#e7cde8" stroke="#80308f" stroke-width="1"/>
<text transform="translate(517.2,686.69) scale(1.0,0.88)" font-size="10.0" fill="#1a1a1a" stroke="#1a1a1a" stroke-width="0.22" text-anchor="start" font-weight="normal">MG-277</text>
<line x1="500.1" y1="692.38" x2="513.3" y2="692.38" stroke="#3a49a2" stroke-width="1.1"/>
<ellipse cx="506.7" cy="692.38" rx="2.85" ry="2.68" fill="#7a81c4" stroke="#3a49a2" stroke-width="1"/>
<text transform="translate(517.2,695.55) scale(1.0,0.88)" font-size="10.0" fill="#1a1a1a" stroke="#1a1a1a" stroke-width="0.22" text-anchor="start" font-weight="normal">SJYHJ-048</text>
<line x1="500.1" y1="701.24" x2="513.3" y2="701.24" stroke="#86852a" stroke-width="1.1"/>
<ellipse cx="506.7" cy="701.24" rx="2.85" ry="2.68" fill="#efefae" stroke="#86852a" stroke-width="1"/>
<text transform="translate(517.2,704.41) scale(1.0,0.88)" font-size="10.0" fill="#1a1a1a" stroke="#1a1a1a" stroke-width="0.22" text-anchor="start" font-weight="normal">SJYHJ-059</text>
<line x1="500.1" y1="710.1" x2="513.3" y2="710.1" stroke="#b0b0b0" stroke-width="1.1"/>
<ellipse cx="506.7" cy="710.1" rx="2.85" ry="2.68" fill="#ffffff" stroke="#b0b0b0" stroke-width="1"/>
<text transform="translate(517.2,713.27) scale(1.0,0.88)" font-size="10.0" fill="#1a1a1a" stroke="#1a1a1a" stroke-width="0.22" text-anchor="start" font-weight="normal">SJYHJ-108</text>
<path d="M502.36,649.41 C509.58,649.76 536.08,650.2 545.71,651.51 C555.34,652.83 555.34,654.93 560.16,657.29 C564.98,659.66 569.79,662.64 574.61,665.7 C579.43,668.77 584.25,672.27 589.06,675.69 C593.88,679.1 598.7,682.69 603.51,686.2 C608.33,689.7 613.15,693.64 617.96,696.71 C622.78,699.77 627.6,702.75 632.41,704.59 C637.23,706.43 642.05,706.95 646.87,707.74 C651.68,708.53 658.91,709.05 661.32,709.32" fill="none" stroke="#b0b0b0" stroke-width="1.25"/>
<circle cx="502.36" cy="649.41" r="2.75" fill="#ffffff" stroke="#b0b0b0" stroke-width="1"/>
<circle cx="516.81" cy="649.41" r="2.75" fill="#ffffff" stroke="#b0b0b0" stroke-width="1"/>
<circle cx="531.26" cy="649.41" r="2.75" fill="#ffffff" stroke="#b0b0b0" stroke-width="1"/>
<circle cx="545.71" cy="652.04" r="2.75" fill="#ffffff" stroke="#b0b0b0" stroke-width="1"/>
<circle cx="560.16" cy="657.29" r="2.75" fill="#ffffff" stroke="#b0b0b0" stroke-width="1"/>
<circle cx="574.61" cy="665.18" r="2.75" fill="#ffffff" stroke="#b0b0b0" stroke-width="1"/>
<circle cx="589.06" cy="675.69" r="2.75" fill="#ffffff" stroke="#b0b0b0" stroke-width="1"/>
<circle cx="603.51" cy="684.88" r="2.75" fill="#ffffff" stroke="#b0b0b0" stroke-width="1"/>
<circle cx="632.41" cy="709.84" r="2.75" fill="#ffffff" stroke="#b0b0b0" stroke-width="1"/>
<circle cx="646.87" cy="709.84" r="2.75" fill="#ffffff" stroke="#b0b0b0" stroke-width="1"/>
<circle cx="661.32" cy="707.74" r="2.75" fill="#ffffff" stroke="#b0b0b0" stroke-width="1"/>
<path d="M502.36,651.51 C511.99,651.51 548.12,651.43 560.16,651.51 C572.2,651.6 569.79,651.6 574.61,652.04 C579.43,652.48 584.25,652.91 589.06,654.14 C593.88,655.37 598.7,657.03 603.51,659.4 C608.33,661.76 613.15,664.52 617.96,668.33 C622.78,672.14 627.6,676.87 632.41,682.25 C637.23,687.64 642.05,695.96 646.87,700.65 C651.68,705.33 658.91,708.75 661.32,710.37" fill="none" stroke="#86852a" stroke-width="1.25"/>
<path d="M603.51,654.67 V664.13 M600.71,654.67 h5.6 M600.71,664.13 h5.6" stroke="#86852a" stroke-width="0.8" fill="none"/>
<circle cx="502.36" cy="657.29" r="2.75" fill="#efefae" stroke="#86852a" stroke-width="1"/>
<circle cx="516.81" cy="652.04" r="2.75" fill="#efefae" stroke="#86852a" stroke-width="1"/>
<circle cx="531.26" cy="650.73" r="2.75" fill="#efefae" stroke="#86852a" stroke-width="1"/>
<circle cx="545.71" cy="652.04" r="2.75" fill="#efefae" stroke="#86852a" stroke-width="1"/>
<circle cx="560.16" cy="650.73" r="2.75" fill="#efefae" stroke="#86852a" stroke-width="1"/>
<circle cx="574.61" cy="652.04" r="2.75" fill="#efefae" stroke="#86852a" stroke-width="1"/>
<circle cx="589.06" cy="653.35" r="2.75" fill="#efefae" stroke="#86852a" stroke-width="1"/>
<circle cx="603.51" cy="659.4" r="2.75" fill="#efefae" stroke="#86852a" stroke-width="1"/>
<circle cx="617.96" cy="669.12" r="2.75" fill="#efefae" stroke="#86852a" stroke-width="1"/>
<circle cx="632.41" cy="680.94" r="2.75" fill="#efefae" stroke="#86852a" stroke-width="1"/>
<circle cx="646.87" cy="704.59" r="2.75" fill="#efefae" stroke="#86852a" stroke-width="1"/>
<circle cx="661.32" cy="711.16" r="2.75" fill="#efefae" stroke="#86852a" stroke-width="1"/>
<path d="M502.36,651.51 C511.99,651.47 548.12,651.47 560.16,651.25 C572.2,651.03 569.79,650.94 574.61,650.2 C579.43,649.46 584.25,648.14 589.06,646.78 C593.88,645.43 599.92,642.71 603.51,642.05 C607.1,641.4 608.2,641.62 610.61,642.84 C613.02,644.07 615.56,645.03 617.96,649.41 C620.37,653.79 622.65,662.99 625.06,669.12 C627.47,675.25 628.78,681.6 632.41,686.2 C636.05,690.79 642.05,694.82 646.87,696.71 C651.68,698.59 658.91,697.36 661.32,697.49" fill="none" stroke="#3a49a2" stroke-width="1.25"/>
<circle cx="502.36" cy="651.51" r="2.75" fill="#7a81c4" stroke="#3a49a2" stroke-width="1"/>
<circle cx="516.81" cy="651.51" r="2.75" fill="#7a81c4" stroke="#3a49a2" stroke-width="1"/>
<circle cx="531.26" cy="651.51" r="2.75" fill="#7a81c4" stroke="#3a49a2" stroke-width="1"/>
<circle cx="545.71" cy="650.73" r="2.75" fill="#7a81c4" stroke="#3a49a2" stroke-width="1"/>
<circle cx="560.16" cy="651.51" r="2.75" fill="#7a81c4" stroke="#3a49a2" stroke-width="1"/>
<circle cx="574.61" cy="650.73" r="2.75" fill="#7a81c4" stroke="#3a49a2" stroke-width="1"/>
<circle cx="589.06" cy="646.78" r="2.75" fill="#7a81c4" stroke="#3a49a2" stroke-width="1"/>
<circle cx="603.51" cy="642.05" r="2.75" fill="#7a81c4" stroke="#3a49a2" stroke-width="1"/>
<circle cx="617.96" cy="646.78" r="2.75" fill="#7a81c4" stroke="#3a49a2" stroke-width="1"/>
<circle cx="632.41" cy="684.88" r="2.75" fill="#7a81c4" stroke="#3a49a2" stroke-width="1"/>
<circle cx="646.87" cy="698.02" r="2.75" fill="#7a81c4" stroke="#3a49a2" stroke-width="1"/>
<circle cx="661.32" cy="697.23" r="2.75" fill="#7a81c4" stroke="#3a49a2" stroke-width="1"/>
<path d="M502.36,649.41 C507.17,649.5 524.03,649.28 531.26,649.94 C538.48,650.59 540.89,651.78 545.71,653.35 C550.53,654.93 555.34,656.77 560.16,659.4 C564.98,662.02 569.79,665.88 574.61,669.12 C579.43,672.36 584.25,675.73 589.06,678.84 C593.88,681.95 598.7,685.14 603.51,687.77 C608.33,690.4 613.15,692.46 617.96,694.6 C622.78,696.75 630.01,699.64 632.41,700.65" fill="none" stroke="#80308f" stroke-width="1.25"/>
<circle cx="502.36" cy="650.73" r="2.75" fill="#e7cde8" stroke="#80308f" stroke-width="1"/>
<circle cx="516.81" cy="649.41" r="2.75" fill="#e7cde8" stroke="#80308f" stroke-width="1"/>
<circle cx="531.26" cy="649.41" r="2.75" fill="#e7cde8" stroke="#80308f" stroke-width="1"/>
<circle cx="545.71" cy="653.35" r="2.75" fill="#e7cde8" stroke="#80308f" stroke-width="1"/>
<circle cx="560.16" cy="659.4" r="2.75" fill="#e7cde8" stroke="#80308f" stroke-width="1"/>
<circle cx="574.61" cy="669.91" r="2.75" fill="#e7cde8" stroke="#80308f" stroke-width="1"/>
<circle cx="589.06" cy="678.84" r="2.75" fill="#e7cde8" stroke="#80308f" stroke-width="1"/>
<circle cx="603.51" cy="688.3" r="2.75" fill="#e7cde8" stroke="#80308f" stroke-width="1"/>
<circle cx="617.96" cy="694.08" r="2.75" fill="#e7cde8" stroke="#80308f" stroke-width="1"/>
<circle cx="632.41" cy="700.65" r="2.75" fill="#e7cde8" stroke="#80308f" stroke-width="1"/>
<path d="M502.36,643.63 C509.58,643.63 536.08,643.72 545.71,643.63 C555.34,643.54 555.34,643.54 560.16,643.11 C564.98,642.67 569.79,642.14 574.61,641 C579.43,639.87 584.25,637.85 589.06,636.27 C593.88,634.7 599.92,631.98 603.51,631.54 C607.1,631.11 608.2,631.11 610.61,633.65 C613.02,636.19 615.56,641.75 617.96,646.78 C620.37,651.82 622.65,658.83 625.06,663.86 C627.47,668.9 628.78,673.28 632.41,677 C636.05,680.72 642.05,684.31 646.87,686.2 C651.68,688.08 658.91,687.95 661.32,688.3" fill="none" stroke="#1f9e6e" stroke-width="1.25"/>
<path d="M502.36,634.44 V647.57 M499.56,634.44 h5.6 M499.56,647.57 h5.6" stroke="#1f9e6e" stroke-width="0.8" fill="none"/>
<circle cx="502.36" cy="641" r="2.75" fill="#d3eee4" stroke="#1f9e6e" stroke-width="1"/>
<circle cx="516.81" cy="643.63" r="2.75" fill="#d3eee4" stroke="#1f9e6e" stroke-width="1"/>
<circle cx="531.26" cy="646.26" r="2.75" fill="#d3eee4" stroke="#1f9e6e" stroke-width="1"/>
<circle cx="545.71" cy="643.63" r="2.75" fill="#d3eee4" stroke="#1f9e6e" stroke-width="1"/>
<circle cx="560.16" cy="643.63" r="2.75" fill="#d3eee4" stroke="#1f9e6e" stroke-width="1"/>
<circle cx="574.61" cy="641" r="2.75" fill="#d3eee4" stroke="#1f9e6e" stroke-width="1"/>
<circle cx="589.06" cy="636.27" r="2.75" fill="#d3eee4" stroke="#1f9e6e" stroke-width="1"/>
<circle cx="603.51" cy="631.02" r="2.75" fill="#d3eee4" stroke="#1f9e6e" stroke-width="1"/>
<circle cx="617.96" cy="648.1" r="2.75" fill="#d3eee4" stroke="#1f9e6e" stroke-width="1"/>
<circle cx="632.41" cy="674.37" r="2.75" fill="#d3eee4" stroke="#1f9e6e" stroke-width="1"/>
<circle cx="646.87" cy="688.3" r="2.75" fill="#d3eee4" stroke="#1f9e6e" stroke-width="1"/>
<circle cx="661.32" cy="688.3" r="2.75" fill="#d3eee4" stroke="#1f9e6e" stroke-width="1"/>
<path d="M502.36,644.68 C509.58,644.68 536.08,644.77 545.71,644.68 C555.34,644.59 555.34,644.68 560.16,644.16 C564.98,643.63 569.79,642.84 574.61,641.53 C579.43,640.22 584.25,638.11 589.06,636.27 C593.88,634.44 599.92,631.15 603.51,630.49 C607.1,629.84 608.2,630.28 610.61,632.33 C613.02,634.39 615.56,637.37 617.96,642.84 C620.37,648.32 622.65,658.39 625.06,665.18 C627.47,671.96 628.78,678.66 632.41,683.57 C636.05,688.47 642.05,692.41 646.87,694.6 C651.68,696.79 658.91,696.35 661.32,696.71" fill="none" stroke="#151515" stroke-width="1.25"/>
<path d="M502.36,635.49 V655.45 M499.56,635.49 h5.6 M499.56,655.45 h5.6" stroke="#151515" stroke-width="0.8" fill="none"/>
<path d="M516.81,637.59 V653.35 M514.01,637.59 h5.6 M514.01,653.35 h5.6" stroke="#151515" stroke-width="0.8" fill="none"/>
<path d="M531.26,638.9 V653.62 M528.46,638.9 h5.6 M528.46,653.62 h5.6" stroke="#151515" stroke-width="0.8" fill="none"/>
<path d="M545.71,636.8 V651.51 M542.91,636.8 h5.6 M542.91,651.51 h5.6" stroke="#151515" stroke-width="0.8" fill="none"/>
<path d="M560.16,640.22 V650.73 M557.36,640.22 h5.6 M557.36,650.73 h5.6" stroke="#151515" stroke-width="0.8" fill="none"/>
<path d="M574.61,635.75 V646.26 M571.81,635.75 h5.6 M571.81,646.26 h5.6" stroke="#151515" stroke-width="0.8" fill="none"/>
<path d="M589.06,633.12 V643.63 M586.26,633.12 h5.6 M586.26,643.63 h5.6" stroke="#151515" stroke-width="0.8" fill="none"/>
<path d="M603.51,623.93 V635.49 M600.71,623.93 h5.6 M600.71,635.49 h5.6" stroke="#151515" stroke-width="0.8" fill="none"/>
<path d="M617.96,636.27 V649.41 M615.16,636.27 h5.6 M615.16,649.41 h5.6" stroke="#151515" stroke-width="0.8" fill="none"/>
<path d="M661.32,690.92 V702.49 M658.52,690.92 h5.6 M658.52,702.49 h5.6" stroke="#151515" stroke-width="0.8" fill="none"/>
<circle cx="502.36" cy="645.47" r="2.75" fill="#cdcdcd" stroke="#151515" stroke-width="1"/>
<circle cx="516.81" cy="645.47" r="2.75" fill="#cdcdcd" stroke="#151515" stroke-width="1"/>
<circle cx="531.26" cy="646.26" r="2.75" fill="#cdcdcd" stroke="#151515" stroke-width="1"/>
<circle cx="545.71" cy="644.16" r="2.75" fill="#cdcdcd" stroke="#151515" stroke-width="1"/>
<circle cx="560.16" cy="645.47" r="2.75" fill="#cdcdcd" stroke="#151515" stroke-width="1"/>
<circle cx="574.61" cy="641" r="2.75" fill="#cdcdcd" stroke="#151515" stroke-width="1"/>
<circle cx="589.06" cy="638.38" r="2.75" fill="#cdcdcd" stroke="#151515" stroke-width="1"/>
<circle cx="603.51" cy="629.71" r="2.75" fill="#cdcdcd" stroke="#151515" stroke-width="1"/>
<circle cx="617.96" cy="642.84" r="2.75" fill="#cdcdcd" stroke="#151515" stroke-width="1"/>
<circle cx="632.41" cy="684.88" r="2.75" fill="#cdcdcd" stroke="#151515" stroke-width="1"/>
<circle cx="646.87" cy="694.08" r="2.75" fill="#cdcdcd" stroke="#151515" stroke-width="1"/>
<circle cx="661.32" cy="696.71" r="2.75" fill="#cdcdcd" stroke="#151515" stroke-width="1"/><path d="M40,767 V879.3 H222.2" fill="none" stroke="#111111" stroke-width="1.3"/>
<line x1="35" y1="879.3" x2="40" y2="879.3" stroke="#111111" stroke-width="1.1"/>
<text transform="translate(33,882.5) scale(1.0,1)" font-size="9.0" fill="#1a1a1a" stroke="#1a1a1a" stroke-width="0.22" text-anchor="end" font-weight="normal">0</text>
<line x1="35" y1="841.87" x2="40" y2="841.87" stroke="#111111" stroke-width="1.1"/>
<text transform="translate(33,845.07) scale(1.0,1)" font-size="9.0" fill="#1a1a1a" stroke="#1a1a1a" stroke-width="0.22" text-anchor="end" font-weight="normal">50</text>
<line x1="35" y1="804.43" x2="40" y2="804.43" stroke="#111111" stroke-width="1.1"/>
<text transform="translate(33,807.63) scale(1.0,1)" font-size="9.0" fill="#1a1a1a" stroke="#1a1a1a" stroke-width="0.22" text-anchor="end" font-weight="normal">100</text>
<line x1="35" y1="767" x2="40" y2="767" stroke="#111111" stroke-width="1.1"/>
<text transform="translate(33,770.2) scale(1.0,1)" font-size="9.0" fill="#1a1a1a" stroke="#1a1a1a" stroke-width="0.22" text-anchor="end" font-weight="normal">150</text>
<line x1="40" y1="879.3" x2="40" y2="884.3" stroke="#111111" stroke-width="1.1"/>
<text transform="translate(40,894) scale(1.0,1)" font-size="9.0" fill="#1a1a1a" stroke="#1a1a1a" stroke-width="0.22" text-anchor="middle" font-weight="normal">0.000001</text>
<line x1="85.55" y1="879.3" x2="85.55" y2="884.3" stroke="#111111" stroke-width="1.1"/>
<text transform="translate(85.55,894) scale(1.0,1)" font-size="9.0" fill="#1a1a1a" stroke="#1a1a1a" stroke-width="0.22" text-anchor="middle" font-weight="normal">0.0001</text>
<line x1="131.1" y1="879.3" x2="131.1" y2="884.3" stroke="#111111" stroke-width="1.1"/>
<text transform="translate(131.1,894) scale(1.0,1)" font-size="9.0" fill="#1a1a1a" stroke="#1a1a1a" stroke-width="0.22" text-anchor="middle" font-weight="normal">0.01</text>
<line x1="176.65" y1="879.3" x2="176.65" y2="884.3" stroke="#111111" stroke-width="1.1"/>
<text transform="translate(176.65,894) scale(1.0,1)" font-size="9.0" fill="#1a1a1a" stroke="#1a1a1a" stroke-width="0.22" text-anchor="middle" font-weight="normal">1</text>
<line x1="222.2" y1="879.3" x2="222.2" y2="884.3" stroke="#111111" stroke-width="1.1"/>
<text transform="translate(222.2,894) scale(1.0,1)" font-size="9.0" fill="#1a1a1a" stroke="#1a1a1a" stroke-width="0.22" text-anchor="middle" font-weight="normal">100</text>
<text transform="translate(131.1,772.7) scale(1.0,1)" font-size="11.8" fill="#1a1a1a" stroke="#1a1a1a" stroke-width="0.22" text-anchor="middle" font-weight="normal">MD-224</text>
<text transform="translate(131.1,906.2) scale(1.0,1)" font-size="10.2" fill="#1a1a1a" stroke="#1a1a1a" stroke-width="0.22" text-anchor="middle" font-weight="normal">[MD-224] (μM)</text>
<text transform="translate(12.9,823) rotate(-90) scale(1.0,1)" font-size="10.2" fill="#1a1a1a" stroke="#1a1a1a" stroke-width="0.22" text-anchor="middle" font-weight="normal">HiBiT Signal (%)</text>
<line x1="43.3" y1="849.3" x2="56.5" y2="849.3" stroke="#151515" stroke-width="1.1"/>
<ellipse cx="49.9" cy="849.3" rx="2.85" ry="2.85" fill="#cdcdcd" stroke="#151515" stroke-width="1"/>
<text transform="translate(60.9,852.9) scale(1.0,1.0)" font-size="10.0" fill="#1a1a1a" stroke="#1a1a1a" stroke-width="0.22" text-anchor="start" font-weight="normal">PXR</text>
<line x1="43.3" y1="859.9" x2="56.5" y2="859.9" stroke="#1f9e6e" stroke-width="1.1"/>
<ellipse cx="49.9" cy="859.9" rx="2.85" ry="2.85" fill="#d3eee4" stroke="#1f9e6e" stroke-width="1"/>
<text transform="translate(60.9,863.5) scale(1.0,1.0)" font-size="10.0" fill="#1a1a1a" stroke="#1a1a1a" stroke-width="0.22" text-anchor="start" font-weight="normal">LXRα</text>
<line x1="43.3" y1="870.5" x2="56.5" y2="870.5" stroke="#80308f" stroke-width="1.1"/>
<ellipse cx="49.9" cy="870.5" rx="2.85" ry="2.85" fill="#e7cde8" stroke="#80308f" stroke-width="1"/>
<text transform="translate(60.9,874.1) scale(1.0,1.0)" font-size="10.0" fill="#1a1a1a" stroke="#1a1a1a" stroke-width="0.22" text-anchor="start" font-weight="normal">LXRβ</text>
<line x1="100.8" y1="849.3" x2="114" y2="849.3" stroke="#3a49a2" stroke-width="1.1"/>
<ellipse cx="107.4" cy="849.3" rx="2.85" ry="2.85" fill="#7a81c4" stroke="#3a49a2" stroke-width="1"/>
<text transform="translate(118.1,852.9) scale(1.0,1.0)" font-size="10.0" fill="#1a1a1a" stroke="#1a1a1a" stroke-width="0.22" text-anchor="start" font-weight="normal">CAR</text>
<line x1="100.8" y1="859.9" x2="114" y2="859.9" stroke="#86852a" stroke-width="1.1"/>
<ellipse cx="107.4" cy="859.9" rx="2.85" ry="2.85" fill="#efefae" stroke="#86852a" stroke-width="1"/>
<text transform="translate(118.1,863.5) scale(1.0,1.0)" font-size="10.0" fill="#1a1a1a" stroke="#1a1a1a" stroke-width="0.22" text-anchor="start" font-weight="normal">FXR</text>
<line x1="100.8" y1="870.5" x2="114" y2="870.5" stroke="#b0b0b0" stroke-width="1.1"/>
<ellipse cx="107.4" cy="870.5" rx="2.85" ry="2.85" fill="#ffffff" stroke="#b0b0b0" stroke-width="1"/>
<text transform="translate(118.1,874.1) scale(1.0,1.0)" font-size="10.0" fill="#1a1a1a" stroke="#1a1a1a" stroke-width="0.22" text-anchor="start" font-weight="normal">VDR</text>
<path d="M68.69,804.57 C85.04,804.07 143.12,802.62 166.8,801.53 C190.47,800.44 203.39,798.61 210.71,798.03" fill="none" stroke="#b0b0b0" stroke-width="1.25"/>
<path d="M79.67,798.03 V816.72 M76.87,798.03 h5.6 M76.87,816.72 h5.6" stroke="#b0b0b0" stroke-width="0.8" fill="none"/>
<path d="M90.41,800.37 V816.72 M87.61,800.37 h5.6 M87.61,816.72 h5.6" stroke="#b0b0b0" stroke-width="0.8" fill="none"/>
<path d="M145.07,795.69 V807.37 M142.27,795.69 h5.6 M142.27,807.37 h5.6" stroke="#b0b0b0" stroke-width="0.8" fill="none"/>
<circle cx="68.69" cy="805.04" r="2.75" fill="#ffffff" stroke="#b0b0b0" stroke-width="1"/>
<circle cx="79.67" cy="807.37" r="2.75" fill="#ffffff" stroke="#b0b0b0" stroke-width="1"/>
<circle cx="90.41" cy="808.54" r="2.75" fill="#ffffff" stroke="#b0b0b0" stroke-width="1"/>
<circle cx="101.39" cy="804.57" r="2.75" fill="#ffffff" stroke="#b0b0b0" stroke-width="1"/>
<circle cx="112.37" cy="804.57" r="2.75" fill="#ffffff" stroke="#b0b0b0" stroke-width="1"/>
<circle cx="123.11" cy="805.04" r="2.75" fill="#ffffff" stroke="#b0b0b0" stroke-width="1"/>
<circle cx="134.09" cy="802.7" r="2.75" fill="#ffffff" stroke="#b0b0b0" stroke-width="1"/>
<circle cx="145.07" cy="801.53" r="2.75" fill="#ffffff" stroke="#b0b0b0" stroke-width="1"/>
<circle cx="155.82" cy="800.37" r="2.75" fill="#ffffff" stroke="#b0b0b0" stroke-width="1"/>
<circle cx="166.8" cy="798.03" r="2.75" fill="#ffffff" stroke="#b0b0b0" stroke-width="1"/>
<circle cx="177.31" cy="802.7" r="2.75" fill="#ffffff" stroke="#b0b0b0" stroke-width="1"/>
<circle cx="188.52" cy="792.19" r="2.75" fill="#ffffff" stroke="#b0b0b0" stroke-width="1"/>
<circle cx="199.5" cy="790.56" r="2.75" fill="#ffffff" stroke="#b0b0b0" stroke-width="1"/>
<circle cx="210.71" cy="797.1" r="2.75" fill="#ffffff" stroke="#b0b0b0" stroke-width="1"/>
<path d="M68.69,803.17 C77.76,803.09 112.21,802.78 123.11,802.7 C134.01,802.62 128.64,802.7 134.09,802.7 C139.54,802.7 150.37,803.01 155.82,802.7 C161.27,802.39 163.21,801.61 166.8,800.83 C170.38,800.06 173.69,799.47 177.31,798.03 C180.93,796.59 184.82,793.36 188.52,792.19 C192.22,791.02 195.8,791.22 199.5,791.02 C203.2,790.83 208.84,791.02 210.71,791.02" fill="none" stroke="#86852a" stroke-width="1.25"/>
<path d="M101.39,793.36 V814.38 M98.59,793.36 h5.6 M98.59,814.38 h5.6" stroke="#86852a" stroke-width="0.8" fill="none"/>
<path d="M112.37,780.51 V813.21 M109.57,780.51 h5.6 M109.57,813.21 h5.6" stroke="#86852a" stroke-width="0.8" fill="none"/>
<path d="M123.11,788.69 V816.72 M120.31,788.69 h5.6 M120.31,816.72 h5.6" stroke="#86852a" stroke-width="0.8" fill="none"/>
<path d="M155.82,794.99 V816.02 M153.02,794.99 h5.6 M153.02,816.02 h5.6" stroke="#86852a" stroke-width="0.8" fill="none"/>
<path d="M188.52,781.68 V800.37 M185.72,781.68 h5.6 M185.72,800.37 h5.6" stroke="#86852a" stroke-width="0.8" fill="none"/>
<path d="M199.5,776.54 V804.57 M196.7,776.54 h5.6 M196.7,804.57 h5.6" stroke="#86852a" stroke-width="0.8" fill="none"/>
<circle cx="68.69" cy="807.37" r="2.75" fill="#efefae" stroke="#86852a" stroke-width="1"/>
<circle cx="79.67" cy="805.04" r="2.75" fill="#efefae" stroke="#86852a" stroke-width="1"/>
<circle cx="90.41" cy="803.87" r="2.75" fill="#efefae" stroke="#86852a" stroke-width="1"/>
<circle cx="101.39" cy="803.87" r="2.75" fill="#efefae" stroke="#86852a" stroke-width="1"/>
<circle cx="112.37" cy="796.86" r="2.75" fill="#efefae" stroke="#86852a" stroke-width="1"/>
<circle cx="123.11" cy="802.7" r="2.75" fill="#efefae" stroke="#86852a" stroke-width="1"/>
<circle cx="134.09" cy="802.7" r="2.75" fill="#efefae" stroke="#86852a" stroke-width="1"/>
<circle cx="145.07" cy="802.7" r="2.75" fill="#efefae" stroke="#86852a" stroke-width="1"/>
<circle cx="155.82" cy="805.51" r="2.75" fill="#efefae" stroke="#86852a" stroke-width="1"/>
<circle cx="166.8" cy="798.5" r="2.75" fill="#efefae" stroke="#86852a" stroke-width="1"/>
<circle cx="177.31" cy="802.7" r="2.75" fill="#efefae" stroke="#86852a" stroke-width="1"/>
<circle cx="188.52" cy="791.02" r="2.75" fill="#efefae" stroke="#86852a" stroke-width="1"/>
<circle cx="199.5" cy="790.56" r="2.75" fill="#efefae" stroke="#86852a" stroke-width="1"/>
<circle cx="210.71" cy="791.26" r="2.75" fill="#efefae" stroke="#86852a" stroke-width="1"/>
<path d="M68.69,805.04 C77.76,805.43 112.21,805.62 123.11,807.37 C134.01,809.13 130.43,812.63 134.09,815.55 C137.75,818.47 141.45,822.36 145.07,824.89 C148.69,827.42 152.2,829.45 155.82,830.73 C159.44,832.02 163.21,832.21 166.8,832.6 C170.38,832.99 169.99,832.99 177.31,833.07 C184.63,833.15 205.14,833.07 210.71,833.07" fill="none" stroke="#3a49a2" stroke-width="1.25"/>
<path d="M177.31,834.24 V841.25 M174.51,834.24 h5.6 M174.51,841.25 h5.6" stroke="#3a49a2" stroke-width="0.8" fill="none"/>
<circle cx="68.69" cy="805.04" r="2.75" fill="#7a81c4" stroke="#3a49a2" stroke-width="1"/>
<circle cx="79.67" cy="804.57" r="2.75" fill="#7a81c4" stroke="#3a49a2" stroke-width="1"/>
<circle cx="90.41" cy="803.87" r="2.75" fill="#7a81c4" stroke="#3a49a2" stroke-width="1"/>
<circle cx="101.39" cy="805.04" r="2.75" fill="#7a81c4" stroke="#3a49a2" stroke-width="1"/>
<circle cx="112.37" cy="805.04" r="2.75" fill="#7a81c4" stroke="#3a49a2" stroke-width="1"/>
<circle cx="123.11" cy="810.18" r="2.75" fill="#7a81c4" stroke="#3a49a2" stroke-width="1"/>
<circle cx="134.09" cy="816.72" r="2.75" fill="#7a81c4" stroke="#3a49a2" stroke-width="1"/>
<circle cx="145.07" cy="824.19" r="2.75" fill="#7a81c4" stroke="#3a49a2" stroke-width="1"/>
<circle cx="155.82" cy="832.6" r="2.75" fill="#7a81c4" stroke="#3a49a2" stroke-width="1"/>
<circle cx="166.8" cy="832.6" r="2.75" fill="#7a81c4" stroke="#3a49a2" stroke-width="1"/>
<circle cx="177.31" cy="837.74" r="2.75" fill="#7a81c4" stroke="#3a49a2" stroke-width="1"/>
<circle cx="188.52" cy="835.41" r="2.75" fill="#7a81c4" stroke="#3a49a2" stroke-width="1"/>
<circle cx="199.5" cy="833.07" r="2.75" fill="#7a81c4" stroke="#3a49a2" stroke-width="1"/>
<circle cx="210.71" cy="834.7" r="2.75" fill="#7a81c4" stroke="#3a49a2" stroke-width="1"/>
<path d="M68.69,800.83 C75.97,800.56 103.3,799.08 112.37,799.2 C121.44,799.32 119.49,799.59 123.11,801.53 C126.73,803.48 130.43,807.37 134.09,810.88 C137.75,814.38 141.45,819.25 145.07,822.56 C148.69,825.87 152.2,828.79 155.82,830.73 C159.44,832.68 163.21,833.54 166.8,834.24 C170.38,834.94 171.86,835.33 177.31,834.94 C182.76,834.55 193.93,832.8 199.5,831.9 C205.07,831.01 208.84,829.95 210.71,829.57" fill="none" stroke="#80308f" stroke-width="1.25"/>
<path d="M101.39,788.22 V806.91 M98.59,788.22 h5.6 M98.59,806.91 h5.6" stroke="#80308f" stroke-width="0.8" fill="none"/>
<path d="M166.8,830.27 V840.54 M164,830.27 h5.6 M164,840.54 h5.6" stroke="#80308f" stroke-width="0.8" fill="none"/>
<circle cx="68.69" cy="800.37" r="2.75" fill="#e7cde8" stroke="#80308f" stroke-width="1"/>
<circle cx="79.67" cy="799.9" r="2.75" fill="#e7cde8" stroke="#80308f" stroke-width="1"/>
<circle cx="90.41" cy="799.2" r="2.75" fill="#e7cde8" stroke="#80308f" stroke-width="1"/>
<circle cx="101.39" cy="797.56" r="2.75" fill="#e7cde8" stroke="#80308f" stroke-width="1"/>
<circle cx="112.37" cy="796.16" r="2.75" fill="#e7cde8" stroke="#80308f" stroke-width="1"/>
<circle cx="123.11" cy="795.69" r="2.75" fill="#e7cde8" stroke="#80308f" stroke-width="1"/>
<circle cx="134.09" cy="809.71" r="2.75" fill="#e7cde8" stroke="#80308f" stroke-width="1"/>
<circle cx="145.07" cy="817.89" r="2.75" fill="#e7cde8" stroke="#80308f" stroke-width="1"/>
<circle cx="155.82" cy="827.23" r="2.75" fill="#e7cde8" stroke="#80308f" stroke-width="1"/>
<circle cx="166.8" cy="835.41" r="2.75" fill="#e7cde8" stroke="#80308f" stroke-width="1"/>
<circle cx="177.31" cy="836.57" r="2.75" fill="#e7cde8" stroke="#80308f" stroke-width="1"/>
<circle cx="188.52" cy="831.9" r="2.75" fill="#e7cde8" stroke="#80308f" stroke-width="1"/>
<circle cx="199.5" cy="823.73" r="2.75" fill="#e7cde8" stroke="#80308f" stroke-width="1"/>
<circle cx="210.71" cy="823.96" r="2.75" fill="#e7cde8" stroke="#80308f" stroke-width="1"/>
<path d="M68.69,803.17 C77.76,803.29 112.21,803.17 123.11,803.87 C134.01,804.57 130.43,806.01 134.09,807.37 C137.75,808.74 141.45,809.91 145.07,812.05 C148.69,814.19 152.2,817.5 155.82,820.22 C159.44,822.95 163.21,826.72 166.8,828.4 C170.38,830.07 169.99,830.07 177.31,830.27 C184.63,830.46 205.14,829.68 210.71,829.57" fill="none" stroke="#1f9e6e" stroke-width="1.25"/>
<path d="M68.69,793.36 V807.37 M65.89,793.36 h5.6 M65.89,807.37 h5.6" stroke="#1f9e6e" stroke-width="0.8" fill="none"/>
<path d="M90.41,795.69 V809.71 M87.61,795.69 h5.6 M87.61,809.71 h5.6" stroke="#1f9e6e" stroke-width="0.8" fill="none"/>
<circle cx="68.69" cy="800.37" r="2.75" fill="#d3eee4" stroke="#1f9e6e" stroke-width="1"/>
<circle cx="79.67" cy="802.7" r="2.75" fill="#d3eee4" stroke="#1f9e6e" stroke-width="1"/>
<circle cx="90.41" cy="802.7" r="2.75" fill="#d3eee4" stroke="#1f9e6e" stroke-width="1"/>
<circle cx="101.39" cy="802.7" r="2.75" fill="#d3eee4" stroke="#1f9e6e" stroke-width="1"/>
<circle cx="112.37" cy="804.57" r="2.75" fill="#d3eee4" stroke="#1f9e6e" stroke-width="1"/>
<circle cx="123.11" cy="804.57" r="2.75" fill="#d3eee4" stroke="#1f9e6e" stroke-width="1"/>
<circle cx="134.09" cy="808.54" r="2.75" fill="#d3eee4" stroke="#1f9e6e" stroke-width="1"/>
<circle cx="145.07" cy="810.18" r="2.75" fill="#d3eee4" stroke="#1f9e6e" stroke-width="1"/>
<circle cx="155.82" cy="817.89" r="2.75" fill="#d3eee4" stroke="#1f9e6e" stroke-width="1"/>
<circle cx="166.8" cy="831.2" r="2.75" fill="#d3eee4" stroke="#1f9e6e" stroke-width="1"/>
<circle cx="177.31" cy="831.2" r="2.75" fill="#d3eee4" stroke="#1f9e6e" stroke-width="1"/>
<circle cx="188.52" cy="826.06" r="2.75" fill="#d3eee4" stroke="#1f9e6e" stroke-width="1"/>
<circle cx="199.5" cy="829.57" r="2.75" fill="#d3eee4" stroke="#1f9e6e" stroke-width="1"/>
<circle cx="210.71" cy="826.53" r="2.75" fill="#d3eee4" stroke="#1f9e6e" stroke-width="1"/>
<path d="M68.69,805.04 C75.97,805.04 103.3,804.73 112.37,805.04 C121.44,805.35 119.49,804.96 123.11,806.91 C126.73,808.85 130.43,812.67 134.09,816.72 C137.75,820.77 141.45,826.53 145.07,831.2 C148.69,835.87 152.2,841.52 155.82,844.75 C159.44,847.98 163.21,849.42 166.8,850.59 C170.38,851.76 169.99,851.56 177.31,851.76 C184.63,851.95 205.14,851.76 210.71,851.76" fill="none" stroke="#151515" stroke-width="1.25"/>
<path d="M101.39,803.4 V815.08 M98.59,803.4 h5.6 M98.59,815.08 h5.6" stroke="#151515" stroke-width="0.8" fill="none"/>
<path d="M112.37,799.9 V809.24 M109.57,799.9 h5.6 M109.57,809.24 h5.6" stroke="#151515" stroke-width="0.8" fill="none"/>
<circle cx="68.69" cy="806.21" r="2.75" fill="#cdcdcd" stroke="#151515" stroke-width="1"/>
<circle cx="79.67" cy="805.04" r="2.75" fill="#cdcdcd" stroke="#151515" stroke-width="1"/>
<circle cx="90.41" cy="809.24" r="2.75" fill="#cdcdcd" stroke="#151515" stroke-width="1"/>
<circle cx="101.39" cy="809.24" r="2.75" fill="#cdcdcd" stroke="#151515" stroke-width="1"/>
<circle cx="112.37" cy="804.57" r="2.75" fill="#cdcdcd" stroke="#151515" stroke-width="1"/>
<circle cx="123.11" cy="806.21" r="2.75" fill="#cdcdcd" stroke="#151515" stroke-width="1"/>
<circle cx="134.09" cy="825.59" r="2.75" fill="#cdcdcd" stroke="#151515" stroke-width="1"/>
<circle cx="145.07" cy="831.2" r="2.75" fill="#cdcdcd" stroke="#151515" stroke-width="1"/>
<circle cx="155.82" cy="844.75" r="2.75" fill="#cdcdcd" stroke="#151515" stroke-width="1"/>
<circle cx="166.8" cy="851.76" r="2.75" fill="#cdcdcd" stroke="#151515" stroke-width="1"/>
<circle cx="177.31" cy="852.92" r="2.75" fill="#cdcdcd" stroke="#151515" stroke-width="1"/>
<circle cx="188.52" cy="851.29" r="2.75" fill="#cdcdcd" stroke="#151515" stroke-width="1"/>
<circle cx="199.5" cy="850.59" r="2.75" fill="#cdcdcd" stroke="#151515" stroke-width="1"/>
<circle cx="210.71" cy="852.46" r="2.75" fill="#cdcdcd" stroke="#151515" stroke-width="1"/><path d="M267.7,767 V879.3 H449.7" fill="none" stroke="#111111" stroke-width="1.3"/>
<line x1="262.7" y1="879.3" x2="267.7" y2="879.3" stroke="#111111" stroke-width="1.1"/>
<text transform="translate(260.7,882.5) scale(1.0,1)" font-size="9.0" fill="#1a1a1a" stroke="#1a1a1a" stroke-width="0.22" text-anchor="end" font-weight="normal">0</text>
<line x1="262.7" y1="841.87" x2="267.7" y2="841.87" stroke="#111111" stroke-width="1.1"/>
<text transform="translate(260.7,845.07) scale(1.0,1)" font-size="9.0" fill="#1a1a1a" stroke="#1a1a1a" stroke-width="0.22" text-anchor="end" font-weight="normal">50</text>
<line x1="262.7" y1="804.43" x2="267.7" y2="804.43" stroke="#111111" stroke-width="1.1"/>
<text transform="translate(260.7,807.63) scale(1.0,1)" font-size="9.0" fill="#1a1a1a" stroke="#1a1a1a" stroke-width="0.22" text-anchor="end" font-weight="normal">100</text>
<line x1="262.7" y1="767" x2="267.7" y2="767" stroke="#111111" stroke-width="1.1"/>
<text transform="translate(260.7,770.2) scale(1.0,1)" font-size="9.0" fill="#1a1a1a" stroke="#1a1a1a" stroke-width="0.22" text-anchor="end" font-weight="normal">150</text>
<line x1="267.7" y1="879.3" x2="267.7" y2="884.3" stroke="#111111" stroke-width="1.1"/>
<text transform="translate(267.7,894) scale(1.0,1)" font-size="9.0" fill="#1a1a1a" stroke="#1a1a1a" stroke-width="0.22" text-anchor="middle" font-weight="normal">0.000001</text>
<line x1="313.2" y1="879.3" x2="313.2" y2="884.3" stroke="#111111" stroke-width="1.1"/>
<text transform="translate(313.2,894) scale(1.0,1)" font-size="9.0" fill="#1a1a1a" stroke="#1a1a1a" stroke-width="0.22" text-anchor="middle" font-weight="normal">0.0001</text>
<line x1="358.7" y1="879.3" x2="358.7" y2="884.3" stroke="#111111" stroke-width="1.1"/>
<text transform="translate(358.7,894) scale(1.0,1)" font-size="9.0" fill="#1a1a1a" stroke="#1a1a1a" stroke-width="0.22" text-anchor="middle" font-weight="normal">0.01</text>
<line x1="404.2" y1="879.3" x2="404.2" y2="884.3" stroke="#111111" stroke-width="1.1"/>
<text transform="translate(404.2,894) scale(1.0,1)" font-size="9.0" fill="#1a1a1a" stroke="#1a1a1a" stroke-width="0.22" text-anchor="middle" font-weight="normal">1</text>
<line x1="449.7" y1="879.3" x2="449.7" y2="884.3" stroke="#111111" stroke-width="1.1"/>
<text transform="translate(449.7,894) scale(1.0,1)" font-size="9.0" fill="#1a1a1a" stroke="#1a1a1a" stroke-width="0.22" text-anchor="middle" font-weight="normal">100</text>
<text transform="translate(358.7,772.7) scale(1.0,1)" font-size="11.8" fill="#1a1a1a" stroke="#1a1a1a" stroke-width="0.22" text-anchor="middle" font-weight="normal">SJYHJ-048</text>
<text transform="translate(358.7,906.2) scale(1.0,1)" font-size="10.2" fill="#1a1a1a" stroke="#1a1a1a" stroke-width="0.22" text-anchor="middle" font-weight="normal">[SJYHJ-048] (μM)</text>
<text transform="translate(240.6,823) rotate(-90) scale(1.0,1)" font-size="10.2" fill="#1a1a1a" stroke="#1a1a1a" stroke-width="0.22" text-anchor="middle" font-weight="normal">HiBiT Signal (%)</text>
<path d="M296.35,801.53 C305.5,801.46 336.65,801.65 351.25,801.07 C365.84,800.48 373.12,799.9 383.95,798.03 C394.77,796.16 407.15,791.72 416.18,789.86 C425.22,787.99 434.48,787.32 438.14,786.82" fill="none" stroke="#b0b0b0" stroke-width="1.25"/>
<path d="M361.76,782.85 V801.53 M358.96,782.85 h5.6 M358.96,801.53 h5.6" stroke="#b0b0b0" stroke-width="0.8" fill="none"/>
<path d="M394.46,781.68 V802.7 M391.66,781.68 h5.6 M391.66,802.7 h5.6" stroke="#b0b0b0" stroke-width="0.8" fill="none"/>
<path d="M427.16,779.34 V793.36 M424.36,779.34 h5.6 M424.36,793.36 h5.6" stroke="#b0b0b0" stroke-width="0.8" fill="none"/>
<circle cx="296.35" cy="801.53" r="2.75" fill="#ffffff" stroke="#b0b0b0" stroke-width="1"/>
<circle cx="307.56" cy="800.37" r="2.75" fill="#ffffff" stroke="#b0b0b0" stroke-width="1"/>
<circle cx="318.54" cy="800.37" r="2.75" fill="#ffffff" stroke="#b0b0b0" stroke-width="1"/>
<circle cx="329.05" cy="800.37" r="2.75" fill="#ffffff" stroke="#b0b0b0" stroke-width="1"/>
<circle cx="340.27" cy="800.37" r="2.75" fill="#ffffff" stroke="#b0b0b0" stroke-width="1"/>
<circle cx="351.25" cy="800.37" r="2.75" fill="#ffffff" stroke="#b0b0b0" stroke-width="1"/>
<circle cx="361.76" cy="792.19" r="2.75" fill="#ffffff" stroke="#b0b0b0" stroke-width="1"/>
<circle cx="372.97" cy="801.53" r="2.75" fill="#ffffff" stroke="#b0b0b0" stroke-width="1"/>
<circle cx="383.95" cy="793.36" r="2.75" fill="#ffffff" stroke="#b0b0b0" stroke-width="1"/>
<circle cx="394.46" cy="792.19" r="2.75" fill="#ffffff" stroke="#b0b0b0" stroke-width="1"/>
<circle cx="405.44" cy="789.86" r="2.75" fill="#ffffff" stroke="#b0b0b0" stroke-width="1"/>
<circle cx="416.18" cy="787.52" r="2.75" fill="#ffffff" stroke="#b0b0b0" stroke-width="1"/>
<circle cx="427.16" cy="786.35" r="2.75" fill="#ffffff" stroke="#b0b0b0" stroke-width="1"/>
<circle cx="438.14" cy="786.35" r="2.75" fill="#ffffff" stroke="#b0b0b0" stroke-width="1"/>
<path d="M296.35,801.53 C305.5,801.53 338.48,801.73 351.25,801.53 C364.01,801.34 365.77,801.15 372.97,800.37 C380.17,799.59 387.26,798.42 394.46,796.86 C401.66,795.31 408.9,792.39 416.18,791.02 C423.46,789.66 434.48,789.08 438.14,788.69" fill="none" stroke="#86852a" stroke-width="1.25"/>
<path d="M296.35,791.02 V809.71 M293.55,791.02 h5.6 M293.55,809.71 h5.6" stroke="#86852a" stroke-width="0.8" fill="none"/>
<path d="M361.76,787.52 V810.88 M358.96,787.52 h5.6 M358.96,810.88 h5.6" stroke="#86852a" stroke-width="0.8" fill="none"/>
<path d="M383.95,782.85 V806.21 M381.15,782.85 h5.6 M381.15,806.21 h5.6" stroke="#86852a" stroke-width="0.8" fill="none"/>
<path d="M405.44,778.18 V796.86 M402.64,778.18 h5.6 M402.64,796.86 h5.6" stroke="#86852a" stroke-width="0.8" fill="none"/>
<path d="M438.14,779.34 V798.03 M435.34,779.34 h5.6 M435.34,798.03 h5.6" stroke="#86852a" stroke-width="0.8" fill="none"/>
<circle cx="296.35" cy="800.37" r="2.75" fill="#efefae" stroke="#86852a" stroke-width="1"/>
<circle cx="307.56" cy="800.37" r="2.75" fill="#efefae" stroke="#86852a" stroke-width="1"/>
<circle cx="318.54" cy="800.37" r="2.75" fill="#efefae" stroke="#86852a" stroke-width="1"/>
<circle cx="329.05" cy="800.37" r="2.75" fill="#efefae" stroke="#86852a" stroke-width="1"/>
<circle cx="340.27" cy="800.37" r="2.75" fill="#efefae" stroke="#86852a" stroke-width="1"/>
<circle cx="351.25" cy="800.37" r="2.75" fill="#efefae" stroke="#86852a" stroke-width="1"/>
<circle cx="361.76" cy="799.2" r="2.75" fill="#efefae" stroke="#86852a" stroke-width="1"/>
<circle cx="372.97" cy="800.37" r="2.75" fill="#efefae" stroke="#86852a" stroke-width="1"/>
<circle cx="383.95" cy="794.53" r="2.75" fill="#efefae" stroke="#86852a" stroke-width="1"/>
<circle cx="394.46" cy="792.19" r="2.75" fill="#efefae" stroke="#86852a" stroke-width="1"/>
<circle cx="405.44" cy="787.52" r="2.75" fill="#efefae" stroke="#86852a" stroke-width="1"/>
<circle cx="416.18" cy="791.02" r="2.75" fill="#efefae" stroke="#86852a" stroke-width="1"/>
<circle cx="427.16" cy="789.86" r="2.75" fill="#efefae" stroke="#86852a" stroke-width="1"/>
<circle cx="438.14" cy="788.69" r="2.75" fill="#efefae" stroke="#86852a" stroke-width="1"/>
<path d="M296.35,803.87 C301.8,803.99 321.73,803.6 329.05,804.57 C336.37,805.54 336.57,807.3 340.27,809.71 C343.96,812.12 347.66,815.63 351.25,819.05 C354.83,822.48 358.14,827.15 361.76,830.27 C365.38,833.38 369.27,835.52 372.97,837.74 C376.67,839.96 380.37,842.41 383.95,843.58 C387.53,844.75 385.43,844.48 394.46,844.75 C403.49,845.02 430.86,845.14 438.14,845.22" fill="none" stroke="#3a49a2" stroke-width="1.25"/>
<path d="M372.97,832.6 V841.95 M370.17,832.6 h5.6 M370.17,841.95 h5.6" stroke="#3a49a2" stroke-width="0.8" fill="none"/>
<path d="M405.44,839.61 V848.95 M402.64,839.61 h5.6 M402.64,848.95 h5.6" stroke="#3a49a2" stroke-width="0.8" fill="none"/>
<circle cx="296.35" cy="802.7" r="2.75" fill="#7a81c4" stroke="#3a49a2" stroke-width="1"/>
<circle cx="307.56" cy="802.7" r="2.75" fill="#7a81c4" stroke="#3a49a2" stroke-width="1"/>
<circle cx="318.54" cy="803.87" r="2.75" fill="#7a81c4" stroke="#3a49a2" stroke-width="1"/>
<circle cx="329.05" cy="803.87" r="2.75" fill="#7a81c4" stroke="#3a49a2" stroke-width="1"/>
<circle cx="340.27" cy="808.54" r="2.75" fill="#7a81c4" stroke="#3a49a2" stroke-width="1"/>
<circle cx="351.25" cy="820.22" r="2.75" fill="#7a81c4" stroke="#3a49a2" stroke-width="1"/>
<circle cx="361.76" cy="830.73" r="2.75" fill="#7a81c4" stroke="#3a49a2" stroke-width="1"/>
<circle cx="372.97" cy="837.27" r="2.75" fill="#7a81c4" stroke="#3a49a2" stroke-width="1"/>
<circle cx="383.95" cy="844.28" r="2.75" fill="#7a81c4" stroke="#3a49a2" stroke-width="1"/>
<circle cx="394.46" cy="845.22" r="2.75" fill="#7a81c4" stroke="#3a49a2" stroke-width="1"/>
<circle cx="405.44" cy="844.28" r="2.75" fill="#7a81c4" stroke="#3a49a2" stroke-width="1"/>
<circle cx="416.18" cy="844.28" r="2.75" fill="#7a81c4" stroke="#3a49a2" stroke-width="1"/>
<circle cx="427.16" cy="844.28" r="2.75" fill="#7a81c4" stroke="#3a49a2" stroke-width="1"/>
<circle cx="438.14" cy="848.25" r="2.75" fill="#7a81c4" stroke="#3a49a2" stroke-width="1"/>
<path d="M296.35,805.04 C303.67,805.04 329.37,804.45 340.27,805.04 C351.17,805.62 356.31,807.37 361.76,808.54 C367.21,809.71 369.27,810.49 372.97,812.05 C376.67,813.6 380.37,816.72 383.95,817.89 C387.53,819.05 390.88,820.03 394.46,819.05 C398.04,818.08 401.82,813.8 405.44,812.05 C409.06,810.29 410.73,808.93 416.18,808.54 C421.63,808.15 434.48,809.52 438.14,809.71" fill="none" stroke="#80308f" stroke-width="1.25"/>
<path d="M318.54,800.37 V809.71 M315.74,800.37 h5.6 M315.74,809.71 h5.6" stroke="#80308f" stroke-width="0.8" fill="none"/>
<path d="M361.76,805.04 V816.72 M358.96,805.04 h5.6 M358.96,816.72 h5.6" stroke="#80308f" stroke-width="0.8" fill="none"/>
<path d="M383.95,813.21 V822.56 M381.15,813.21 h5.6 M381.15,822.56 h5.6" stroke="#80308f" stroke-width="0.8" fill="none"/>
<path d="M394.46,812.75 V824.43 M391.66,812.75 h5.6 M391.66,824.43 h5.6" stroke="#80308f" stroke-width="0.8" fill="none"/>
<path d="M405.44,805.51 V819.52 M402.64,805.51 h5.6 M402.64,819.52 h5.6" stroke="#80308f" stroke-width="0.8" fill="none"/>
<circle cx="296.35" cy="805.04" r="2.75" fill="#e7cde8" stroke="#80308f" stroke-width="1"/>
<circle cx="307.56" cy="805.04" r="2.75" fill="#e7cde8" stroke="#80308f" stroke-width="1"/>
<circle cx="318.54" cy="805.04" r="2.75" fill="#e7cde8" stroke="#80308f" stroke-width="1"/>
<circle cx="329.05" cy="803.87" r="2.75" fill="#e7cde8" stroke="#80308f" stroke-width="1"/>
<circle cx="340.27" cy="808.54" r="2.75" fill="#e7cde8" stroke="#80308f" stroke-width="1"/>
<circle cx="351.25" cy="806.21" r="2.75" fill="#e7cde8" stroke="#80308f" stroke-width="1"/>
<circle cx="361.76" cy="810.88" r="2.75" fill="#e7cde8" stroke="#80308f" stroke-width="1"/>
<circle cx="372.97" cy="810.88" r="2.75" fill="#e7cde8" stroke="#80308f" stroke-width="1"/>
<circle cx="383.95" cy="817.89" r="2.75" fill="#e7cde8" stroke="#80308f" stroke-width="1"/>
<circle cx="394.46" cy="818.59" r="2.75" fill="#e7cde8" stroke="#80308f" stroke-width="1"/>
<circle cx="405.44" cy="812.51" r="2.75" fill="#e7cde8" stroke="#80308f" stroke-width="1"/>
<circle cx="416.18" cy="807.84" r="2.75" fill="#e7cde8" stroke="#80308f" stroke-width="1"/>
<circle cx="427.16" cy="810.18" r="2.75" fill="#e7cde8" stroke="#80308f" stroke-width="1"/>
<circle cx="438.14" cy="809.71" r="2.75" fill="#e7cde8" stroke="#80308f" stroke-width="1"/>
<path d="M296.35,800.37 C305.5,800.56 338.48,801.22 351.25,801.53 C364.01,801.85 365.77,802.51 372.97,802.24 C380.17,801.96 389.05,800.99 394.46,799.9 C399.87,798.81 401.82,796.71 405.44,795.69 C409.06,794.68 410.73,794.02 416.18,793.83 C421.63,793.63 434.48,794.41 438.14,794.53" fill="none" stroke="#1f9e6e" stroke-width="1.25"/>
<path d="M307.56,794.06 V805.74 M304.76,794.06 h5.6 M304.76,805.74 h5.6" stroke="#1f9e6e" stroke-width="0.8" fill="none"/>
<path d="M329.05,791.02 V802.7 M326.25,791.02 h5.6 M326.25,802.7 h5.6" stroke="#1f9e6e" stroke-width="0.8" fill="none"/>
<path d="M351.25,803.17 V812.51 M348.45,803.17 h5.6 M348.45,812.51 h5.6" stroke="#1f9e6e" stroke-width="0.8" fill="none"/>
<path d="M405.44,784.02 V798.03 M402.64,784.02 h5.6 M402.64,798.03 h5.6" stroke="#1f9e6e" stroke-width="0.8" fill="none"/>
<circle cx="296.35" cy="800.37" r="2.75" fill="#d3eee4" stroke="#1f9e6e" stroke-width="1"/>
<circle cx="307.56" cy="799.9" r="2.75" fill="#d3eee4" stroke="#1f9e6e" stroke-width="1"/>
<circle cx="318.54" cy="798.03" r="2.75" fill="#d3eee4" stroke="#1f9e6e" stroke-width="1"/>
<circle cx="329.05" cy="796.86" r="2.75" fill="#d3eee4" stroke="#1f9e6e" stroke-width="1"/>
<circle cx="340.27" cy="801.07" r="2.75" fill="#d3eee4" stroke="#1f9e6e" stroke-width="1"/>
<circle cx="351.25" cy="807.84" r="2.75" fill="#d3eee4" stroke="#1f9e6e" stroke-width="1"/>
<circle cx="361.76" cy="802.7" r="2.75" fill="#d3eee4" stroke="#1f9e6e" stroke-width="1"/>
<circle cx="372.97" cy="802.7" r="2.75" fill="#d3eee4" stroke="#1f9e6e" stroke-width="1"/>
<circle cx="383.95" cy="803.17" r="2.75" fill="#d3eee4" stroke="#1f9e6e" stroke-width="1"/>
<circle cx="394.46" cy="800.83" r="2.75" fill="#d3eee4" stroke="#1f9e6e" stroke-width="1"/>
<circle cx="405.44" cy="791.02" r="2.75" fill="#d3eee4" stroke="#1f9e6e" stroke-width="1"/>
<circle cx="416.18" cy="793.36" r="2.75" fill="#d3eee4" stroke="#1f9e6e" stroke-width="1"/>
<circle cx="427.16" cy="797.56" r="2.75" fill="#d3eee4" stroke="#1f9e6e" stroke-width="1"/>
<circle cx="438.14" cy="799.9" r="2.75" fill="#d3eee4" stroke="#1f9e6e" stroke-width="1"/>
<path d="M296.35,805.04 C300.05,805.12 313.09,804.92 318.54,805.51 C323.99,806.09 325.43,806.87 329.05,808.54 C332.67,810.22 336.57,812.82 340.27,815.55 C343.96,818.28 347.66,821.2 351.25,824.89 C354.83,828.59 358.14,833.65 361.76,837.74 C365.38,841.83 369.27,846.38 372.97,849.42 C376.67,852.46 380.37,854.4 383.95,855.96 C387.53,857.52 390.88,857.99 394.46,858.76 C398.04,859.54 398.16,860.05 405.44,860.63 C412.72,861.22 432.69,862 438.14,862.27" fill="none" stroke="#151515" stroke-width="1.25"/>
<path d="M296.35,798.03 V812.05 M293.55,798.03 h5.6 M293.55,812.05 h5.6" stroke="#151515" stroke-width="0.8" fill="none"/>
<path d="M307.56,802.24 V816.25 M304.76,802.24 h5.6 M304.76,816.25 h5.6" stroke="#151515" stroke-width="0.8" fill="none"/>
<circle cx="296.35" cy="805.04" r="2.75" fill="#cdcdcd" stroke="#151515" stroke-width="1"/>
<circle cx="307.56" cy="809.24" r="2.75" fill="#cdcdcd" stroke="#151515" stroke-width="1"/>
<circle cx="318.54" cy="806.21" r="2.75" fill="#cdcdcd" stroke="#151515" stroke-width="1"/>
<circle cx="329.05" cy="811.58" r="2.75" fill="#cdcdcd" stroke="#151515" stroke-width="1"/>
<circle cx="340.27" cy="817.89" r="2.75" fill="#cdcdcd" stroke="#151515" stroke-width="1"/>
<circle cx="351.25" cy="824.19" r="2.75" fill="#cdcdcd" stroke="#151515" stroke-width="1"/>
<circle cx="361.76" cy="840.08" r="2.75" fill="#cdcdcd" stroke="#151515" stroke-width="1"/>
<circle cx="372.97" cy="848.95" r="2.75" fill="#cdcdcd" stroke="#151515" stroke-width="1"/>
<circle cx="383.95" cy="856.9" r="2.75" fill="#cdcdcd" stroke="#151515" stroke-width="1"/>
<circle cx="394.46" cy="857.6" r="2.75" fill="#cdcdcd" stroke="#151515" stroke-width="1"/>
<circle cx="405.44" cy="861.1" r="2.75" fill="#cdcdcd" stroke="#151515" stroke-width="1"/>
<circle cx="416.18" cy="860.63" r="2.75" fill="#cdcdcd" stroke="#151515" stroke-width="1"/>
<circle cx="427.16" cy="862.97" r="2.75" fill="#cdcdcd" stroke="#151515" stroke-width="1"/>
<circle cx="438.14" cy="863.9" r="2.75" fill="#cdcdcd" stroke="#151515" stroke-width="1"/><path d="M495.3,767 V879.3 H677.3" fill="none" stroke="#111111" stroke-width="1.3"/>
<line x1="490.3" y1="879.3" x2="495.3" y2="879.3" stroke="#111111" stroke-width="1.1"/>
<text transform="translate(488.3,882.5) scale(1.0,1)" font-size="9.0" fill="#1a1a1a" stroke="#1a1a1a" stroke-width="0.22" text-anchor="end" font-weight="normal">0</text>
<line x1="490.3" y1="841.87" x2="495.3" y2="841.87" stroke="#111111" stroke-width="1.1"/>
<text transform="translate(488.3,845.07) scale(1.0,1)" font-size="9.0" fill="#1a1a1a" stroke="#1a1a1a" stroke-width="0.22" text-anchor="end" font-weight="normal">50</text>
<line x1="490.3" y1="804.43" x2="495.3" y2="804.43" stroke="#111111" stroke-width="1.1"/>
<text transform="translate(488.3,807.63) scale(1.0,1)" font-size="9.0" fill="#1a1a1a" stroke="#1a1a1a" stroke-width="0.22" text-anchor="end" font-weight="normal">100</text>
<line x1="490.3" y1="767" x2="495.3" y2="767" stroke="#111111" stroke-width="1.1"/>
<text transform="translate(488.3,770.2) scale(1.0,1)" font-size="9.0" fill="#1a1a1a" stroke="#1a1a1a" stroke-width="0.22" text-anchor="end" font-weight="normal">150</text>
<line x1="495.3" y1="879.3" x2="495.3" y2="884.3" stroke="#111111" stroke-width="1.1"/>
<text transform="translate(495.3,894) scale(1.0,1)" font-size="9.0" fill="#1a1a1a" stroke="#1a1a1a" stroke-width="0.22" text-anchor="middle" font-weight="normal">0.000001</text>
<line x1="540.8" y1="879.3" x2="540.8" y2="884.3" stroke="#111111" stroke-width="1.1"/>
<text transform="translate(540.8,894) scale(1.0,1)" font-size="9.0" fill="#1a1a1a" stroke="#1a1a1a" stroke-width="0.22" text-anchor="middle" font-weight="normal">0.0001</text>
<line x1="586.3" y1="879.3" x2="586.3" y2="884.3" stroke="#111111" stroke-width="1.1"/>
<text transform="translate(586.3,894) scale(1.0,1)" font-size="9.0" fill="#1a1a1a" stroke="#1a1a1a" stroke-width="0.22" text-anchor="middle" font-weight="normal">0.01</text>
<line x1="631.8" y1="879.3" x2="631.8" y2="884.3" stroke="#111111" stroke-width="1.1"/>
<text transform="translate(631.8,894) scale(1.0,1)" font-size="9.0" fill="#1a1a1a" stroke="#1a1a1a" stroke-width="0.22" text-anchor="middle" font-weight="normal">1</text>
<line x1="677.3" y1="879.3" x2="677.3" y2="884.3" stroke="#111111" stroke-width="1.1"/>
<text transform="translate(677.3,894) scale(1.0,1)" font-size="9.0" fill="#1a1a1a" stroke="#1a1a1a" stroke-width="0.22" text-anchor="middle" font-weight="normal">100</text>
<text transform="translate(586.3,772.7) scale(1.0,1)" font-size="11.8" fill="#1a1a1a" stroke="#1a1a1a" stroke-width="0.22" text-anchor="middle" font-weight="normal">SJYHJ-108</text>
<text transform="translate(586.3,906.2) scale(1.0,1)" font-size="10.2" fill="#1a1a1a" stroke="#1a1a1a" stroke-width="0.22" text-anchor="middle" font-weight="normal">[SJYHJ-108] (μM)</text>
<text transform="translate(468.2,823) rotate(-90) scale(1.0,1)" font-size="10.2" fill="#1a1a1a" stroke="#1a1a1a" stroke-width="0.22" text-anchor="middle" font-weight="normal">HiBiT Signal (%)</text>
<path d="M524.48,801.53 C540.76,801.53 604.02,801.92 622.12,801.53 C640.23,801.15 629.48,800.95 633.1,799.2 C636.72,797.45 640.23,793.09 643.85,791.02 C647.47,788.96 651.17,787.52 654.83,786.82 C658.49,786.12 663.97,786.82 665.8,786.82" fill="none" stroke="#b0b0b0" stroke-width="1.25"/>
<path d="M535.23,782.85 V808.54 M532.43,782.85 h5.6 M532.43,808.54 h5.6" stroke="#b0b0b0" stroke-width="0.8" fill="none"/>
<path d="M556.72,775.84 V803.87 M553.92,775.84 h5.6 M553.92,803.87 h5.6" stroke="#b0b0b0" stroke-width="0.8" fill="none"/>
<path d="M589.42,775.84 V810.88 M586.62,775.84 h5.6 M586.62,810.88 h5.6" stroke="#b0b0b0" stroke-width="0.8" fill="none"/>
<path d="M622.12,800.37 V819.05 M619.32,800.37 h5.6 M619.32,819.05 h5.6" stroke="#b0b0b0" stroke-width="0.8" fill="none"/>
<path d="M643.85,776.54 V795.23 M641.05,776.54 h5.6 M641.05,795.23 h5.6" stroke="#b0b0b0" stroke-width="0.8" fill="none"/>
<path d="M654.83,773.5 V796.86 M652.03,773.5 h5.6 M652.03,796.86 h5.6" stroke="#b0b0b0" stroke-width="0.8" fill="none"/>
<path d="M665.8,772.34 V802.7 M663,772.34 h5.6 M663,802.7 h5.6" stroke="#b0b0b0" stroke-width="0.8" fill="none"/>
<circle cx="524.48" cy="800.37" r="2.75" fill="#ffffff" stroke="#b0b0b0" stroke-width="1"/>
<circle cx="535.23" cy="795.69" r="2.75" fill="#ffffff" stroke="#b0b0b0" stroke-width="1"/>
<circle cx="546.21" cy="805.04" r="2.75" fill="#ffffff" stroke="#b0b0b0" stroke-width="1"/>
<circle cx="556.72" cy="789.86" r="2.75" fill="#ffffff" stroke="#b0b0b0" stroke-width="1"/>
<circle cx="567.93" cy="793.36" r="2.75" fill="#ffffff" stroke="#b0b0b0" stroke-width="1"/>
<circle cx="578.44" cy="800.37" r="2.75" fill="#ffffff" stroke="#b0b0b0" stroke-width="1"/>
<circle cx="589.42" cy="793.36" r="2.75" fill="#ffffff" stroke="#b0b0b0" stroke-width="1"/>
<circle cx="600.4" cy="795.69" r="2.75" fill="#ffffff" stroke="#b0b0b0" stroke-width="1"/>
<circle cx="611.14" cy="793.36" r="2.75" fill="#ffffff" stroke="#b0b0b0" stroke-width="1"/>
<circle cx="622.12" cy="809.71" r="2.75" fill="#ffffff" stroke="#b0b0b0" stroke-width="1"/>
<circle cx="633.1" cy="800.37" r="2.75" fill="#ffffff" stroke="#b0b0b0" stroke-width="1"/>
<circle cx="643.85" cy="785.88" r="2.75" fill="#ffffff" stroke="#b0b0b0" stroke-width="1"/>
<circle cx="654.83" cy="785.18" r="2.75" fill="#ffffff" stroke="#b0b0b0" stroke-width="1"/>
<circle cx="665.8" cy="787.52" r="2.75" fill="#ffffff" stroke="#b0b0b0" stroke-width="1"/>
<path d="M524.48,799.9 L665.8,799.2" fill="none" stroke="#86852a" stroke-width="1.25"/>
<path d="M567.93,786.35 V800.37 M565.13,786.35 h5.6 M565.13,800.37 h5.6" stroke="#86852a" stroke-width="0.8" fill="none"/>
<path d="M578.44,792.19 V810.88 M575.64,792.19 h5.6 M575.64,810.88 h5.6" stroke="#86852a" stroke-width="0.8" fill="none"/>
<path d="M611.14,783.55 V802.24 M608.34,783.55 h5.6 M608.34,802.24 h5.6" stroke="#86852a" stroke-width="0.8" fill="none"/>
<path d="M633.1,786.35 V805.04 M630.3,786.35 h5.6 M630.3,805.04 h5.6" stroke="#86852a" stroke-width="0.8" fill="none"/>
<path d="M654.83,793.36 V807.37 M652.03,793.36 h5.6 M652.03,807.37 h5.6" stroke="#86852a" stroke-width="0.8" fill="none"/>
<circle cx="524.48" cy="801.53" r="2.75" fill="#efefae" stroke="#86852a" stroke-width="1"/>
<circle cx="535.23" cy="800.37" r="2.75" fill="#efefae" stroke="#86852a" stroke-width="1"/>
<circle cx="546.21" cy="801.53" r="2.75" fill="#efefae" stroke="#86852a" stroke-width="1"/>
<circle cx="556.72" cy="800.37" r="2.75" fill="#efefae" stroke="#86852a" stroke-width="1"/>
<circle cx="567.93" cy="793.36" r="2.75" fill="#efefae" stroke="#86852a" stroke-width="1"/>
<circle cx="578.44" cy="801.53" r="2.75" fill="#efefae" stroke="#86852a" stroke-width="1"/>
<circle cx="589.42" cy="800.37" r="2.75" fill="#efefae" stroke="#86852a" stroke-width="1"/>
<circle cx="600.4" cy="800.37" r="2.75" fill="#efefae" stroke="#86852a" stroke-width="1"/>
<circle cx="611.14" cy="792.89" r="2.75" fill="#efefae" stroke="#86852a" stroke-width="1"/>
<circle cx="622.12" cy="800.37" r="2.75" fill="#efefae" stroke="#86852a" stroke-width="1"/>
<circle cx="633.1" cy="795.69" r="2.75" fill="#efefae" stroke="#86852a" stroke-width="1"/>
<circle cx="643.85" cy="800.37" r="2.75" fill="#efefae" stroke="#86852a" stroke-width="1"/>
<circle cx="654.83" cy="800.37" r="2.75" fill="#efefae" stroke="#86852a" stroke-width="1"/>
<circle cx="665.8" cy="800.37" r="2.75" fill="#efefae" stroke="#86852a" stroke-width="1"/>
<path d="M524.48,803.87 C528.1,804.26 540.83,805.04 546.21,806.21 C551.58,807.37 553.1,808.93 556.72,810.88 C560.34,812.82 564.31,815.16 567.93,817.89 C571.55,820.61 574.86,823.73 578.44,827.23 C582.02,830.73 585.76,835.6 589.42,838.91 C593.08,842.22 596.78,845.14 600.4,847.08 C604.02,849.03 607.52,849.89 611.14,850.59 C614.77,851.29 618.46,852.26 622.12,851.29 C625.78,850.32 629.48,847.01 633.1,844.75 C636.72,842.49 640.23,840 643.85,837.74 C647.47,835.48 651.17,832.76 654.83,831.2 C658.49,829.64 663.97,828.86 665.8,828.4" fill="none" stroke="#3a49a2" stroke-width="1.25"/>
<path d="M556.72,807.37 V816.72 M553.92,807.37 h5.6 M553.92,816.72 h5.6" stroke="#3a49a2" stroke-width="0.8" fill="none"/>
<path d="M578.44,822.56 V831.9 M575.64,822.56 h5.6 M575.64,831.9 h5.6" stroke="#3a49a2" stroke-width="0.8" fill="none"/>
<path d="M611.14,847.08 V855.49 M608.34,847.08 h5.6 M608.34,855.49 h5.6" stroke="#3a49a2" stroke-width="0.8" fill="none"/>
<path d="M622.12,848.25 V857.6 M619.32,848.25 h5.6 M619.32,857.6 h5.6" stroke="#3a49a2" stroke-width="0.8" fill="none"/>
<path d="M654.83,825.59 V834.94 M652.03,825.59 h5.6 M652.03,834.94 h5.6" stroke="#3a49a2" stroke-width="0.8" fill="none"/>
<circle cx="524.48" cy="802.7" r="2.75" fill="#7a81c4" stroke="#3a49a2" stroke-width="1"/>
<circle cx="535.23" cy="805.04" r="2.75" fill="#7a81c4" stroke="#3a49a2" stroke-width="1"/>
<circle cx="546.21" cy="807.37" r="2.75" fill="#7a81c4" stroke="#3a49a2" stroke-width="1"/>
<circle cx="556.72" cy="812.05" r="2.75" fill="#7a81c4" stroke="#3a49a2" stroke-width="1"/>
<circle cx="567.93" cy="820.92" r="2.75" fill="#7a81c4" stroke="#3a49a2" stroke-width="1"/>
<circle cx="578.44" cy="827.23" r="2.75" fill="#7a81c4" stroke="#3a49a2" stroke-width="1"/>
<circle cx="589.42" cy="841.25" r="2.75" fill="#7a81c4" stroke="#3a49a2" stroke-width="1"/>
<circle cx="600.4" cy="847.08" r="2.75" fill="#7a81c4" stroke="#3a49a2" stroke-width="1"/>
<circle cx="611.14" cy="851.29" r="2.75" fill="#7a81c4" stroke="#3a49a2" stroke-width="1"/>
<circle cx="622.12" cy="852.92" r="2.75" fill="#7a81c4" stroke="#3a49a2" stroke-width="1"/>
<circle cx="633.1" cy="843.58" r="2.75" fill="#7a81c4" stroke="#3a49a2" stroke-width="1"/>
<circle cx="643.85" cy="837.74" r="2.75" fill="#7a81c4" stroke="#3a49a2" stroke-width="1"/>
<circle cx="654.83" cy="830.27" r="2.75" fill="#7a81c4" stroke="#3a49a2" stroke-width="1"/>
<circle cx="665.8" cy="831.9" r="2.75" fill="#7a81c4" stroke="#3a49a2" stroke-width="1"/>
<path d="M524.48,805.04 C529.86,804.96 549.48,804.49 556.72,804.57 C563.96,804.65 564.31,804.84 567.93,805.51 C571.55,806.17 574.86,807.06 578.44,808.54 C582.02,810.02 585.76,812.44 589.42,814.38 C593.08,816.33 596.78,818.59 600.4,820.22 C604.02,821.86 607.52,823.14 611.14,824.19 C614.77,825.24 618.46,826.3 622.12,826.53 C625.78,826.76 629.48,826.65 633.1,825.59 C636.72,824.54 640.23,822.17 643.85,820.22 C647.47,818.28 651.17,816.45 654.83,813.91 C658.49,811.38 663.97,806.52 665.8,805.04" fill="none" stroke="#80308f" stroke-width="1.25"/>
<path d="M535.23,799.2 V817.89 M532.43,799.2 h5.6 M532.43,817.89 h5.6" stroke="#80308f" stroke-width="0.8" fill="none"/>
<path d="M546.21,786.35 V805.04 M543.41,786.35 h5.6 M543.41,805.04 h5.6" stroke="#80308f" stroke-width="0.8" fill="none"/>
<path d="M567.93,786.35 V800.37 M565.13,786.35 h5.6 M565.13,800.37 h5.6" stroke="#80308f" stroke-width="0.8" fill="none"/>
<path d="M611.14,818.35 V830.03 M608.34,818.35 h5.6 M608.34,830.03 h5.6" stroke="#80308f" stroke-width="0.8" fill="none"/>
<path d="M633.1,820.22 V831.9 M630.3,820.22 h5.6 M630.3,831.9 h5.6" stroke="#80308f" stroke-width="0.8" fill="none"/>
<path d="M665.8,794.53 V817.89 M663,794.53 h5.6 M663,817.89 h5.6" stroke="#80308f" stroke-width="0.8" fill="none"/>
<circle cx="524.48" cy="805.04" r="2.75" fill="#e7cde8" stroke="#80308f" stroke-width="1"/>
<circle cx="535.23" cy="808.54" r="2.75" fill="#e7cde8" stroke="#80308f" stroke-width="1"/>
<circle cx="546.21" cy="795.69" r="2.75" fill="#e7cde8" stroke="#80308f" stroke-width="1"/>
<circle cx="556.72" cy="805.04" r="2.75" fill="#e7cde8" stroke="#80308f" stroke-width="1"/>
<circle cx="567.93" cy="793.36" r="2.75" fill="#e7cde8" stroke="#80308f" stroke-width="1"/>
<circle cx="578.44" cy="805.04" r="2.75" fill="#e7cde8" stroke="#80308f" stroke-width="1"/>
<circle cx="589.42" cy="813.21" r="2.75" fill="#e7cde8" stroke="#80308f" stroke-width="1"/>
<circle cx="600.4" cy="818.59" r="2.75" fill="#e7cde8" stroke="#80308f" stroke-width="1"/>
<circle cx="611.14" cy="824.19" r="2.75" fill="#e7cde8" stroke="#80308f" stroke-width="1"/>
<circle cx="622.12" cy="826.53" r="2.75" fill="#e7cde8" stroke="#80308f" stroke-width="1"/>
<circle cx="633.1" cy="826.06" r="2.75" fill="#e7cde8" stroke="#80308f" stroke-width="1"/>
<circle cx="643.85" cy="820.22" r="2.75" fill="#e7cde8" stroke="#80308f" stroke-width="1"/>
<circle cx="654.83" cy="813.91" r="2.75" fill="#e7cde8" stroke="#80308f" stroke-width="1"/>
<circle cx="665.8" cy="806.21" r="2.75" fill="#e7cde8" stroke="#80308f" stroke-width="1"/>
<path d="M524.48,803.87 L665.8,803.87" fill="none" stroke="#1f9e6e" stroke-width="1.25"/>
<path d="M524.48,793.36 V812.05 M521.68,793.36 h5.6 M521.68,812.05 h5.6" stroke="#1f9e6e" stroke-width="0.8" fill="none"/>
<path d="M567.93,795.23 V804.57 M565.13,795.23 h5.6 M565.13,804.57 h5.6" stroke="#1f9e6e" stroke-width="0.8" fill="none"/>
<circle cx="524.48" cy="802.7" r="2.75" fill="#d3eee4" stroke="#1f9e6e" stroke-width="1"/>
<circle cx="535.23" cy="802.24" r="2.75" fill="#d3eee4" stroke="#1f9e6e" stroke-width="1"/>
<circle cx="546.21" cy="804.57" r="2.75" fill="#d3eee4" stroke="#1f9e6e" stroke-width="1"/>
<circle cx="556.72" cy="805.51" r="2.75" fill="#d3eee4" stroke="#1f9e6e" stroke-width="1"/>
<circle cx="567.93" cy="799.9" r="2.75" fill="#d3eee4" stroke="#1f9e6e" stroke-width="1"/>
<circle cx="578.44" cy="805.04" r="2.75" fill="#d3eee4" stroke="#1f9e6e" stroke-width="1"/>
<circle cx="589.42" cy="809.24" r="2.75" fill="#d3eee4" stroke="#1f9e6e" stroke-width="1"/>
<circle cx="600.4" cy="808.54" r="2.75" fill="#d3eee4" stroke="#1f9e6e" stroke-width="1"/>
<circle cx="611.14" cy="805.51" r="2.75" fill="#d3eee4" stroke="#1f9e6e" stroke-width="1"/>
<circle cx="622.12" cy="800.37" r="2.75" fill="#d3eee4" stroke="#1f9e6e" stroke-width="1"/>
<circle cx="633.1" cy="806.21" r="2.75" fill="#d3eee4" stroke="#1f9e6e" stroke-width="1"/>
<circle cx="643.85" cy="802.7" r="2.75" fill="#d3eee4" stroke="#1f9e6e" stroke-width="1"/>
<circle cx="654.83" cy="800.37" r="2.75" fill="#d3eee4" stroke="#1f9e6e" stroke-width="1"/>
<circle cx="665.8" cy="802.7" r="2.75" fill="#d3eee4" stroke="#1f9e6e" stroke-width="1"/>
<path d="M524.48,804.57 C529.86,804.65 549.48,804.65 556.72,805.04 C563.96,805.43 564.31,805.74 567.93,806.91 C571.55,808.08 574.86,809.63 578.44,812.05 C582.02,814.46 585.76,818.2 589.42,821.39 C593.08,824.58 596.78,828.67 600.4,831.2 C604.02,833.73 607.52,835.41 611.14,836.57 C614.77,837.74 618.46,837.94 622.12,838.21 C625.78,838.48 625.82,838.21 633.1,838.21 C640.38,838.21 660.35,838.21 665.8,838.21" fill="none" stroke="#151515" stroke-width="1.25"/>
<path d="M535.23,800.37 V814.38 M532.43,800.37 h5.6 M532.43,814.38 h5.6" stroke="#151515" stroke-width="0.8" fill="none"/>
<path d="M546.21,801.53 V813.21 M543.41,801.53 h5.6 M543.41,813.21 h5.6" stroke="#151515" stroke-width="0.8" fill="none"/>
<path d="M578.44,807.84 V817.19 M575.64,807.84 h5.6 M575.64,817.19 h5.6" stroke="#151515" stroke-width="0.8" fill="none"/>
<path d="M589.42,817.19 V826.53 M586.62,817.19 h5.6 M586.62,826.53 h5.6" stroke="#151515" stroke-width="0.8" fill="none"/>
<circle cx="524.48" cy="804.57" r="2.75" fill="#cdcdcd" stroke="#151515" stroke-width="1"/>
<circle cx="535.23" cy="807.37" r="2.75" fill="#cdcdcd" stroke="#151515" stroke-width="1"/>
<circle cx="546.21" cy="807.37" r="2.75" fill="#cdcdcd" stroke="#151515" stroke-width="1"/>
<circle cx="556.72" cy="801.53" r="2.75" fill="#cdcdcd" stroke="#151515" stroke-width="1"/>
<circle cx="567.93" cy="806.21" r="2.75" fill="#cdcdcd" stroke="#151515" stroke-width="1"/>
<circle cx="578.44" cy="812.51" r="2.75" fill="#cdcdcd" stroke="#151515" stroke-width="1"/>
<circle cx="589.42" cy="821.86" r="2.75" fill="#cdcdcd" stroke="#151515" stroke-width="1"/>
<circle cx="600.4" cy="831.2" r="2.75" fill="#cdcdcd" stroke="#151515" stroke-width="1"/>
<circle cx="611.14" cy="837.74" r="2.75" fill="#cdcdcd" stroke="#151515" stroke-width="1"/>
<circle cx="622.12" cy="838.91" r="2.75" fill="#cdcdcd" stroke="#151515" stroke-width="1"/>
<circle cx="633.1" cy="836.57" r="2.75" fill="#cdcdcd" stroke="#151515" stroke-width="1"/>
<circle cx="643.85" cy="832.6" r="2.75" fill="#cdcdcd" stroke="#151515" stroke-width="1"/>
<circle cx="654.83" cy="838.21" r="2.75" fill="#cdcdcd" stroke="#151515" stroke-width="1"/>
<circle cx="665.8" cy="845.22" r="2.75" fill="#cdcdcd" stroke="#151515" stroke-width="1"/>
<text x="-0.2" y="9.6" font-size="13" font-weight="bold" fill="#1a1a1a">A</text><text x="0.0" y="279.5" font-size="13" font-weight="bold" fill="#1a1a1a">B</text><text x="0.0" y="442.8" font-size="13" font-weight="bold" fill="#1a1a1a">C</text><text x="229.1" y="442.9" font-size="13" font-weight="bold" fill="#1a1a1a">D</text><text x="457.4" y="442.9" font-size="13" font-weight="bold" fill="#1a1a1a">E</text><text x="1.7" y="606.3" font-size="13" font-weight="bold" fill="#1a1a1a">F</text><text x="230.2" y="606.3" font-size="13" font-weight="bold" fill="#1a1a1a">G</text><text x="458.0" y="606.3" font-size="13" font-weight="bold" fill="#1a1a1a">H</text><text x="-0.1" y="769.8" font-size="13" font-weight="bold" fill="#1a1a1a">I</text>
</svg>
</body></html>
